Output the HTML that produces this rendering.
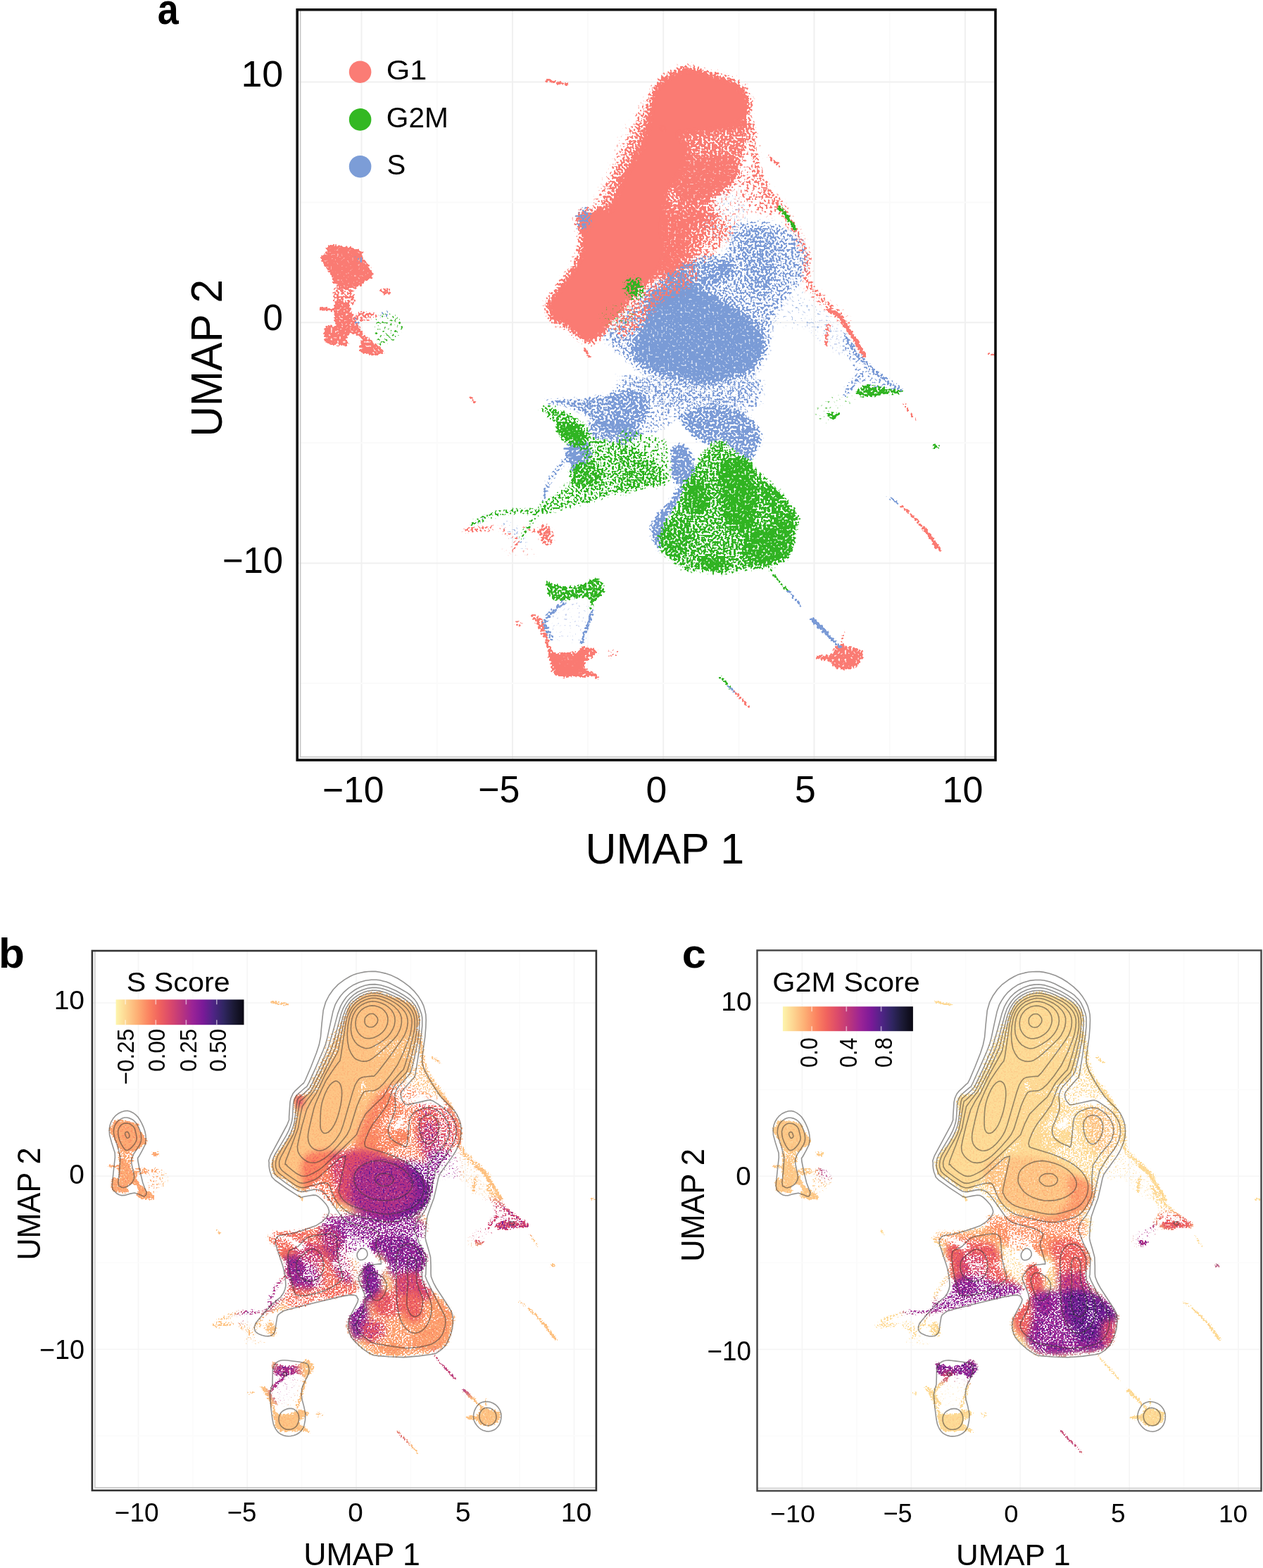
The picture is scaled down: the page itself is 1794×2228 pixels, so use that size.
<!DOCTYPE html>
<html lang="en"><head><meta charset="utf-8"><title>Cell cycle UMAP</title>
<style>html,body{margin:0;padding:0;background:#fff}body{width:1794px;height:2228px;overflow:hidden}svg{display:block}</style></head>
<body>
<svg width="1794" height="2228" viewBox="0 0 1794 2228">
<defs><linearGradient id="mg" x1="0" x2="1" y1="0" y2="0"><stop offset="0" stop-color="#fdf5ad"/><stop offset="0.08" stop-color="#fdd591"/><stop offset="0.17" stop-color="#fdae74"/><stop offset="0.26" stop-color="#fb8260"/><stop offset="0.34" stop-color="#f0625e"/><stop offset="0.43" stop-color="#d9486c"/><stop offset="0.52" stop-color="#b8347f"/><stop offset="0.6" stop-color="#9a2396"/><stop offset="0.68" stop-color="#7a1a98"/><stop offset="0.76" stop-color="#4f2486"/><stop offset="0.84" stop-color="#302662"/><stop offset="0.92" stop-color="#1b1a35"/><stop offset="1" stop-color="#0a0812"/></linearGradient><clipPath id="cpa"><rect x="422.2" y="13.8" width="991.8" height="1066.2"/></clipPath><clipPath id="cpb"><rect x="130.9" y="1351.0" width="716.0" height="766.8000000000002"/></clipPath><clipPath id="cpc"><rect x="1075.5" y="1350.4" width="716.0" height="768.0"/></clipPath><filter id="fa0" filterUnits="userSpaceOnUse" x="755" y="73" width="472" height="438" color-interpolation-filters="sRGB"><feGaussianBlur in="SourceGraphic" stdDeviation="4.5" result="b"/><feColorMatrix in="b" type="matrix" values="0 0 0 0 0 0 0 0 0 0 0 0 0 0 0 0 0 0 1 0"/><feColorMatrix type="matrix" values="0 0 0 0 0 0 0 0 0 0 0 0 0 0 0 0 0 0 1 0" result="ba"/><feTurbulence type="fractalNoise" baseFrequency="0.33" numOctaves="1" seed="3"/><feColorMatrix type="matrix" values="0 0 0 0 0 0 0 0 0 0 0 0 0 0 0 1 0 0 0 0"/><feComponentTransfer result="m"><feFuncA type="table" tableValues="0 0 0 0 0 0 0 .001 .004 .016 .042 .08 .13 .194 .278 .387 .495 .616 .723 .804 .866 .917 .958 .984 .996 .999 1 1 1 1 1 1 1"/></feComponentTransfer><feComposite in="ba" in2="m" operator="arithmetic" k1="0" k2="6" k3="5" k4="-5" result="t"/><feComponentTransfer in="b" result="bo"><feFuncA type="linear" slope="4000" intercept="0"/></feComponentTransfer><feComposite in="bo" in2="t" operator="in"/><feGaussianBlur stdDeviation="0.5"/></filter><filter id="fa1" filterUnits="userSpaceOnUse" x="837" y="245" width="333" height="332" color-interpolation-filters="sRGB"><feGaussianBlur in="SourceGraphic" stdDeviation="4.5" result="b"/><feColorMatrix in="b" type="matrix" values="0 0 0 0 0 0 0 0 0 0 0 0 0 0 0 0 0 0 1 0"/><feColorMatrix type="matrix" values="0 0 0 0 0 0 0 0 0 0 0 0 0 0 0 0 0 0 1 0" result="ba"/><feTurbulence type="fractalNoise" baseFrequency="0.33" numOctaves="1" seed="10"/><feColorMatrix type="matrix" values="0 0 0 0 0 0 0 0 0 0 0 0 0 0 0 1 0 0 0 0"/><feComponentTransfer result="m"><feFuncA type="table" tableValues="0 0 0 0 0 0 0 .001 .004 .016 .042 .08 .13 .194 .278 .387 .495 .616 .723 .804 .866 .917 .958 .984 .996 .999 1 1 1 1 1 1 1"/></feComponentTransfer><feComposite in="ba" in2="m" operator="arithmetic" k1="0" k2="6" k3="5" k4="-5" result="t"/><feComponentTransfer in="b" result="bo"><feFuncA type="linear" slope="4000" intercept="0"/></feComponentTransfer><feComposite in="bo" in2="t" operator="in"/><feGaussianBlur stdDeviation="0.5"/></filter><filter id="fa2" filterUnits="userSpaceOnUse" x="847" y="356" width="169" height="149" color-interpolation-filters="sRGB"><feGaussianBlur in="SourceGraphic" stdDeviation="4.0" result="b"/><feColorMatrix in="b" type="matrix" values="0 0 0 0 0 0 0 0 0 0 0 0 0 0 0 0 0 0 1 0"/><feColorMatrix type="matrix" values="0 0 0 0 0 0 0 0 0 0 0 0 0 0 0 0 0 0 1 0" result="ba"/><feTurbulence type="fractalNoise" baseFrequency="0.33" numOctaves="1" seed="17"/><feColorMatrix type="matrix" values="0 0 0 0 0 0 0 0 0 0 0 0 0 0 0 1 0 0 0 0"/><feComponentTransfer result="m"><feFuncA type="table" tableValues="0 0 0 0 0 0 0 .001 .004 .016 .042 .08 .13 .194 .278 .387 .495 .616 .723 .804 .866 .917 .958 .984 .996 .999 1 1 1 1 1 1 1"/></feComponentTransfer><feComposite in="ba" in2="m" operator="arithmetic" k1="0" k2="6" k3="5" k4="-5" result="t"/><feComponentTransfer in="b" result="bo"><feFuncA type="linear" slope="4000" intercept="0"/></feComponentTransfer><feComposite in="bo" in2="t" operator="in"/><feGaussianBlur stdDeviation="0.5"/></filter><filter id="fa3" filterUnits="userSpaceOnUse" x="831" y="374" width="105" height="118" color-interpolation-filters="sRGB"><feGaussianBlur in="SourceGraphic" stdDeviation="4.0" result="b"/><feColorMatrix in="b" type="matrix" values="0 0 0 0 0 0 0 0 0 0 0 0 0 0 0 0 0 0 1 0"/><feColorMatrix type="matrix" values="0 0 0 0 0 0 0 0 0 0 0 0 0 0 0 0 0 0 1 0" result="ba"/><feTurbulence type="fractalNoise" baseFrequency="0.33" numOctaves="1" seed="24"/><feColorMatrix type="matrix" values="0 0 0 0 0 0 0 0 0 0 0 0 0 0 0 1 0 0 0 0"/><feComponentTransfer result="m"><feFuncA type="table" tableValues="0 0 0 0 0 0 0 .001 .004 .016 .042 .08 .13 .194 .278 .387 .495 .616 .723 .804 .866 .917 .958 .984 .996 .999 1 1 1 1 1 1 1"/></feComponentTransfer><feComposite in="ba" in2="m" operator="arithmetic" k1="0" k2="6" k3="5" k4="-5" result="t"/><feComponentTransfer in="b" result="bo"><feFuncA type="linear" slope="4000" intercept="0"/></feComponentTransfer><feComposite in="bo" in2="t" operator="in"/><feGaussianBlur stdDeviation="0.5"/></filter><filter id="fa4" filterUnits="userSpaceOnUse" x="800" y="274" width="433" height="334" color-interpolation-filters="sRGB"><feGaussianBlur in="SourceGraphic" stdDeviation="4.0" result="b"/><feColorMatrix in="b" type="matrix" values="0 0 0 0 0 0 0 0 0 0 0 0 0 0 0 0 0 0 1 0"/><feColorMatrix type="matrix" values="0 0 0 0 0 0 0 0 0 0 0 0 0 0 0 0 0 0 1 0" result="ba"/><feTurbulence type="fractalNoise" baseFrequency="0.33" numOctaves="1" seed="31"/><feColorMatrix type="matrix" values="0 0 0 0 0 0 0 0 0 0 0 0 0 0 0 1 0 0 0 0"/><feComponentTransfer result="m"><feFuncA type="table" tableValues="0 0 0 0 0 0 0 .001 .004 .016 .042 .08 .13 .194 .278 .387 .495 .616 .723 .804 .866 .917 .958 .984 .996 .999 1 1 1 1 1 1 1"/></feComponentTransfer><feComposite in="ba" in2="m" operator="arithmetic" k1="0" k2="6" k3="5" k4="-5" result="t"/><feComponentTransfer in="b" result="bo"><feFuncA type="linear" slope="4000" intercept="0"/></feComponentTransfer><feComposite in="bo" in2="t" operator="in"/><feGaussianBlur stdDeviation="0.5"/></filter><filter id="fa5" filterUnits="userSpaceOnUse" x="648" y="518" width="457" height="286" color-interpolation-filters="sRGB"><feGaussianBlur in="SourceGraphic" stdDeviation="2.5" result="b"/><feColorMatrix in="b" type="matrix" values="0 0 0 0 0 0 0 0 0 0 0 0 0 0 0 0 0 0 1 0"/><feColorMatrix type="matrix" values="0 0 0 0 0 0 0 0 0 0 0 0 0 0 0 0 0 0 1 0" result="ba"/><feTurbulence type="fractalNoise" baseFrequency="0.33" numOctaves="1" seed="38"/><feColorMatrix type="matrix" values="0 0 0 0 0 0 0 0 0 0 0 0 0 0 0 1 0 0 0 0"/><feComponentTransfer result="m"><feFuncA type="table" tableValues="0 0 0 0 0 0 0 .001 .004 .016 .042 .08 .13 .194 .278 .387 .495 .616 .723 .804 .866 .917 .958 .984 .996 .999 1 1 1 1 1 1 1"/></feComponentTransfer><feComposite in="ba" in2="m" operator="arithmetic" k1="0" k2="6" k3="5" k4="-5" result="t"/><feComponentTransfer in="b" result="bo"><feFuncA type="linear" slope="4000" intercept="0"/></feComponentTransfer><feComposite in="bo" in2="t" operator="in"/><feGaussianBlur stdDeviation="0.5"/></filter><filter id="fa6" filterUnits="userSpaceOnUse" x="648" y="555" width="510" height="282" color-interpolation-filters="sRGB"><feGaussianBlur in="SourceGraphic" stdDeviation="2.5" result="b"/><feColorMatrix in="b" type="matrix" values="0 0 0 0 0 0 0 0 0 0 0 0 0 0 0 0 0 0 1 0"/><feColorMatrix type="matrix" values="0 0 0 0 0 0 0 0 0 0 0 0 0 0 0 0 0 0 1 0" result="ba"/><feTurbulence type="fractalNoise" baseFrequency="0.33" numOctaves="1" seed="45"/><feColorMatrix type="matrix" values="0 0 0 0 0 0 0 0 0 0 0 0 0 0 0 1 0 0 0 0"/><feComponentTransfer result="m"><feFuncA type="table" tableValues="0 0 0 0 0 0 0 .001 .004 .016 .042 .08 .13 .194 .278 .387 .495 .616 .723 .804 .866 .917 .958 .984 .996 .999 1 1 1 1 1 1 1"/></feComponentTransfer><feComposite in="ba" in2="m" operator="arithmetic" k1="0" k2="6" k3="5" k4="-5" result="t"/><feComponentTransfer in="b" result="bo"><feFuncA type="linear" slope="4000" intercept="0"/></feComponentTransfer><feComposite in="bo" in2="t" operator="in"/><feGaussianBlur stdDeviation="0.5"/></filter><filter id="fa7" filterUnits="userSpaceOnUse" x="638" y="723" width="169" height="92" color-interpolation-filters="sRGB"><feGaussianBlur in="SourceGraphic" stdDeviation="2.5" result="b"/><feColorMatrix in="b" type="matrix" values="0 0 0 0 0 0 0 0 0 0 0 0 0 0 0 0 0 0 1 0"/><feColorMatrix type="matrix" values="0 0 0 0 0 0 0 0 0 0 0 0 0 0 0 0 0 0 1 0" result="ba"/><feTurbulence type="fractalNoise" baseFrequency="0.33" numOctaves="1" seed="52"/><feColorMatrix type="matrix" values="0 0 0 0 0 0 0 0 0 0 0 0 0 0 0 1 0 0 0 0"/><feComponentTransfer result="m"><feFuncA type="table" tableValues="0 0 0 0 0 0 0 .001 .004 .016 .042 .08 .13 .194 .278 .387 .495 .616 .723 .804 .866 .917 .958 .984 .996 .999 1 1 1 1 1 1 1"/></feComponentTransfer><feComposite in="ba" in2="m" operator="arithmetic" k1="0" k2="6" k3="5" k4="-5" result="t"/><feComponentTransfer in="b" result="bo"><feFuncA type="linear" slope="4000" intercept="0"/></feComponentTransfer><feComposite in="bo" in2="t" operator="in"/><feGaussianBlur stdDeviation="0.5"/></filter><filter id="fa8" filterUnits="userSpaceOnUse" x="433" y="92" width="982" height="936" color-interpolation-filters="sRGB"><feGaussianBlur in="SourceGraphic" stdDeviation="1.3" result="b"/><feColorMatrix in="b" type="matrix" values="0 0 0 0 0 0 0 0 0 0 0 0 0 0 0 0 0 0 1 0"/><feColorMatrix type="matrix" values="0 0 0 0 0 0 0 0 0 0 0 0 0 0 0 0 0 0 1 0" result="ba"/><feTurbulence type="fractalNoise" baseFrequency="0.33" numOctaves="1" seed="59"/><feColorMatrix type="matrix" values="0 0 0 0 0 0 0 0 0 0 0 0 0 0 0 1 0 0 0 0"/><feComponentTransfer result="m"><feFuncA type="table" tableValues="0 0 0 0 0 0 0 .001 .004 .016 .042 .08 .13 .194 .278 .387 .495 .616 .723 .804 .866 .917 .958 .984 .996 .999 1 1 1 1 1 1 1"/></feComponentTransfer><feComposite in="ba" in2="m" operator="arithmetic" k1="0" k2="6" k3="5" k4="-5" result="t"/><feComponentTransfer in="b" result="bo"><feFuncA type="linear" slope="4000" intercept="0"/></feComponentTransfer><feComposite in="bo" in2="t" operator="in"/><feGaussianBlur stdDeviation="0.5"/></filter><filter id="fa9" filterUnits="userSpaceOnUse" x="512" y="272" width="845" height="728" color-interpolation-filters="sRGB"><feGaussianBlur in="SourceGraphic" stdDeviation="1.3" result="b"/><feColorMatrix in="b" type="matrix" values="0 0 0 0 0 0 0 0 0 0 0 0 0 0 0 0 0 0 1 0"/><feColorMatrix type="matrix" values="0 0 0 0 0 0 0 0 0 0 0 0 0 0 0 0 0 0 1 0" result="ba"/><feTurbulence type="fractalNoise" baseFrequency="0.33" numOctaves="1" seed="66"/><feColorMatrix type="matrix" values="0 0 0 0 0 0 0 0 0 0 0 0 0 0 0 1 0 0 0 0"/><feComponentTransfer result="m"><feFuncA type="table" tableValues="0 0 0 0 0 0 0 .001 .004 .016 .042 .08 .13 .194 .278 .387 .495 .616 .723 .804 .866 .917 .958 .984 .996 .999 1 1 1 1 1 1 1"/></feComponentTransfer><feComposite in="ba" in2="m" operator="arithmetic" k1="0" k2="6" k3="5" k4="-5" result="t"/><feComponentTransfer in="b" result="bo"><feFuncA type="linear" slope="4000" intercept="0"/></feComponentTransfer><feComposite in="bo" in2="t" operator="in"/><feGaussianBlur stdDeviation="0.5"/></filter><filter id="fa10" filterUnits="userSpaceOnUse" x="482" y="342" width="822" height="665" color-interpolation-filters="sRGB"><feGaussianBlur in="SourceGraphic" stdDeviation="1.3" result="b"/><feColorMatrix in="b" type="matrix" values="0 0 0 0 0 0 0 0 0 0 0 0 0 0 0 0 0 0 1 0"/><feColorMatrix type="matrix" values="0 0 0 0 0 0 0 0 0 0 0 0 0 0 0 0 0 0 1 0" result="ba"/><feTurbulence type="fractalNoise" baseFrequency="0.33" numOctaves="1" seed="73"/><feColorMatrix type="matrix" values="0 0 0 0 0 0 0 0 0 0 0 0 0 0 0 1 0 0 0 0"/><feComponentTransfer result="m"><feFuncA type="table" tableValues="0 0 0 0 0 0 0 .001 .004 .016 .042 .08 .13 .194 .278 .387 .495 .616 .723 .804 .866 .917 .958 .984 .996 .999 1 1 1 1 1 1 1"/></feComponentTransfer><feComposite in="ba" in2="m" operator="arithmetic" k1="0" k2="6" k3="5" k4="-5" result="t"/><feComponentTransfer in="b" result="bo"><feFuncA type="linear" slope="4000" intercept="0"/></feComponentTransfer><feComposite in="bo" in2="t" operator="in"/><feGaussianBlur stdDeviation="0.5"/></filter><g id="dnbmain" fill="#fff"><path d="M495.3 1432.1l3.8-5.6l5-4.8l5.8-4.1l6.3-3.6l7.1-2.9l7.3-1.4l7.4 0.7l7.5 2.1l8 2.6l9.2 2.5l9.7 3l8.1 3.6l6.1 4.5l4.5 5.2l3 5.4l1.3 5.9l-0.1 6.2l-1.2 5.6l-2 4.7l-3.1 4.2l-4.3 3.5l-6.1 2.7l-7.3 2l-7.4 1.5l-6.9 1.1l-6.9 0.5l-7 0.5l-7 0.7l-7 0.6l-6.8-0.3l-6.6-1.4l-6.5-2.3l-5.6-3.5l-4.9-5.3l-4.1-6.6l-2.4-6.8l-0.5-7l1.2-7.2z"/><path d="M492.2 1446.6l2.9 5.6l3.9 10.6l4.6 8.7l6 3.5l6.8 1.5l5.9 2.2l4.6 3.9l3.7 4.7l2.1 4.9l-0.1 5.3l-1.8 5.6l-2.2 5.7l-2.5 5.5l-2.9 5.5l-3 5.6l-2.9 5.4l-2.9 5.3l-2.5 5.9l-1.7 6.6l-1.3 7l-1.1 7.1l-0.9 7l-0.6 7l-0.6 6.7l-0.5 6.5l-0.4 6.2l-1.2 6l-2.1 5.8l-2.7 5.6l-3.5 5.2l-4.3 4.5l-5 4.1l-5.3 3.8l-5.4 3.5l-5.7 3.2l-5.5 3.7l-5.1 4.4l-4.8 5l-4.6 5.1l-3.3 5.9l-3 6.1l-6.2 4.4l-12.9 1.7l-16.2-0.1l-12.5-1.6l-5.7-4l-2.1-5.6l-0.9-4.7l-0.7-2.6l0.4-1.8l1.7-2.9l3.3-5l4.5-6.1l4.7-6.5l4.4-6.9l4.5-7.1l4.6-6.7l4.8-5.6l4.9-5l4.9-6l5-7.7l5-8.6l4.5-8.6l3.8-8.2l3.3-8.2l3.3-8.5l3.4-8.8l3.4-9.1l4-9l5.3-9.1l5.9-9.1l5-8.8l3.6-8.6l2.7-8.4l2.1-7.9l1.1-8.9l0.5-8.4z"/><path d="M492.2 1446.6l0.3 3.7l-1.4 8.3l-2 8.7l-2.1 7.9l-2.7 8.4l-3.6 8.6l-5 8.8l-5.9 9.1l-5.3 9.1l-4 9l-3.4 9.1l-3.4 8.8l-3.3 8.5l-3.3 8.2l-3.8 8.2l-4.5 8.6l-5 8.6l-5 7.7l-5.4 6.7l-5.3 5.9l-3.9 4l-1.8 1.8l-0.4 0l1.2-1.8l3.3-4l4.8-5.9l4.3-6.7l3.1-7.7l2.6-8.6l2.7-8.6l2.6-8.2l2.6-8.2l3.1-8.5l3.8-8.8l4.3-9.1l4.3-9l4.2-9.1l4.2-9.1l4.1-8.8l4.2-8.6l4.1-8.4l4.2-7.9l4.7-8.7l4.8-8.3z" fill-opacity="0.60"/><path d="M528.6 1508.8l4.7-3.7l5.7-2.8l6.2-1.8l6.9-0.8l7.3 0l6.6 0.8l5.8 1.4l5.1 2.1l3.6 2.7l2.1 3.6l0.6 4.3l-0.6 4.6l-1.7 4.9l-2.8 5.1l-3.8 4.5l-4.9 3.3l-5.9 2.6l-5.8 2.4l-5.6 2.3l-5.5 2.2l-5.6 1.7l-5.8 1.5l-5.9 1.1l-4.9-0.5l-3.8-3.1l-3-4.7l-1.5-4.7l0.3-4l1.7-4l2.1-4.4l2.2-5.6l2.6-5.9z" fill-opacity="0.90"/><path d="M522.3 1478.7l4.6-1.2l8.1 0.2l8.1 0l7-0.5l6.9-0.5l6.9-1.1l7.4-1.7l7.4-2.3l6-2.2l4.1-3.1l2.6-3l1.6-0.1l0.5 4.7l-0.5 7.8l-1 8.2l-1.5 8.5l-1.9 9l-1.8 7.4l-1.6 5.4l-1.4 3.7l-1.2 1.3l-0.4-2.7l-0.1-5.3l-1.6-4.5l-3.6-2.7l-5.1-2.1l-5.8-1.4l-6.6-0.8l-7.3-0l-6.9 0.8l-6.6 3.1l-6.2 4l-3.8 1.2l0.4-3.8l2.6-6.6l1.1-6.2l-3.5-5.2l-5.2-4.8z" fill-opacity="0.72"/><path d="M511.9 1542l3.4 1l4.3 4.2l4.8 3.1l5.2 0.2l5.7-0.9l5.7-1.4l6.4-2.6l6.3-3.1l4-0.5l0.4 4l-2 6.5l-2.6 6l-3 4.5l-3.7 4l-3.7 4l-3.6 4l-3.6 4l-3.2 4.4l-2.3 5.2l-1.8 5.7l-2.1 5.7l-2.6 5.7l-2.7 5.7l-3 5.2l-3.3 5.3l-3.4 4.8l-3.7 2.3l-4.8-1.5l-5-4.1l-2.7-4.7l1.5-5l3.7-5.7l3.1-5.9l1.2-6l0.4-6.2l0.5-6.5l0.6-6.7l0.6-7l0.9-7l0.9-8l1.2-8z" fill-opacity="0.68"/><path d="M421.2 1557.2l21.3-2.8l29.3 0.3l22.4 2.5l8.7 4.8l1.7 6.9l0.9 6.9l1.7 6.2l0.9 6.3l0.2 6.2l-0.3 6.3l-0.9 6.4l-1.6 5.9l-2.5 5.5l-3.3 5l-3.6 4.5l-4.2 3.3l-4.5 2.8l-4.4 3.2l-3.9 4.1l-3.8 4.6l-3.5 4.3l-3.3 3.9l-3 3.7l-3.1 3.6l-3 3.7l-3.1 3.7l-3.2 3.8l-3.6 4.5l-3.9 4.7l-3.8 3.9l-3.6 3.1l-3.7 2.5l-3.9 0.9l-4.2-0.9l-4.3-2.5l-4.6-3.1l-4.9-3.9l-5.1-4.7l-5-4.5l-4.9-3.8l-4.6-3.7l-3.6-3.7l-2.1-3.6l-1-3.7l0.3-3.9l1.8-4l3.1-4.3l3.5-4.7l4.2-5.3l4.7-5.8l4.2-5.7l3.7-5.5l3.1-5.6l2.6-5.7l1.8-5.7l1.2-6l0.7-7l-2.4-9.6l-2.8-10.7z"/><path d="M494.2 1557.2l19.5-2.1l28.2-0l19.7 2.1l2.6 4.8l-6 6.9l-6 6.9l-3.1 6.2l-3.1 6.3l-3.1 6.2l-3.1 6.5l-3.2 6.5l-3.1 5.6l-2.9 4.5l-2.9 3.7l-3.5 3l-5 3.1l-5.6 2.5l-4.4 0l-2.3-3.8l-1.1-6.4l-0.3-6.6l0.6-6.1l1.4-6.2l0.8-6.3l-0.2-6.2l-0.9-6.3l-1.7-6.2l-6.1-6.9l-6.9-6.9z" fill-opacity="0.62"/><path d="M478.7 1454.9l4.7-6.8l4.3-5.5l3.4-4.3l2.3-3.8l1.4-2.7l0.5 0.3l-0.2 5.1l-0.9 8.2l-2 7.4l-3.5 4.9l-4.5 4.3l-4.5 5.3l-4.2 7.5l-4.1 8.6l-4.2 8.8l-4.1 8.8l-4.2 9.1l-4.2 9.1l-4.3 9l-4.3 9.1l-3.8 8.8l-3.1 8.5l-2.6 8.2l-2.6 8.2l-2.9 9.4l-2.8 9.3l-2.7 6.2l-3.1 1.5l-3.1-1.7l-1-4l2.1-6.6l4.1-8.9l4.2-9.4l3.4-9.6l3.5-10.2l3.5-9.2l3.3-7l3.4-6.2l3.7-7.5l3.8-10.3l4.1-11.7l4.5-11.2l5.4-10.4l5.9-10z" fill-opacity="0.22"/><path d="M595.1 1467.3l0.8 5.1l1.1 7.4l1.2 8.3l1.1 9.3l1.1 10.3l2 9.4l3.2 7.7l4.1 6.9l4.1 6.1l4 4.9l4.1 4.3l4.4 5.3l4.8 7.6l5.1 8.6l4.7 8.7l4.4 8.2l4.1 8.2l2.9 8.5l0.8 9.3l-0.4 9.5l0.6 8.1l2.5 5.7l3.5 4.3l4.4 4.5l5.9 5.6l6.8 5.8l6 5.2l5.1 4.9l4.4 4.4l3 3" fill="none" stroke="#fff" stroke-width="5.0" stroke-linecap="round" stroke-linejoin="round" stroke-opacity="0.77"/><path d="M584.7 1469.4l1.8-3.5l4.5-2.2l4.1 3.6l2.5 13.9l2.2 19.5l2.6 16.4l3.4 9.3l4 6l4 5.4l4.9 5.5l5.1 4.7l2.5 4.3l-1.4 4.5l-3.9 4l-5.1 1.9l-6.5-1.2l-7.7-3.3l-6.6-3.8l-4.5-3.5l-3.4-3.9l-2.5-5l-2-7.3l-1.1-8.5l1-7l5.2-3.9l7.3-2.4l5.2-4.1l1.2-7.6l-1-9.2l-2.3-8.1l-4.5-6.1l-5.8-4.9z" fill-opacity="0.30"/><path d="M557.7 1542l4.8-4l6.3-3.1l5.5-1.2l3.9 1.4l3.3 3.2l3.2 3.7l4.2 3.6l4.3 4.2l1.9 4.6l-1.8 5.4l-4 5.8l-4.6 5.4l-4.5 4.6l-4.9 4.1l-5.1 3.7l-5.7 4.2l-5.8 3.7l-5.2 0.4l-4.7-5l-4-8.3l-1.7-7.4l2.2-4.6l4.4-3.7l3.8-4.2l1.4-5.5l0.7-6z" fill-opacity="0.15"/><path d="M557.7 1542l4.8-4l6.3-3.1l5.5-1.2l3.9 1.4l3.3 3.2l3.2 3.7l4.2 3.6l4.3 4.2l1.9 4.6l-1.8 5.4l-4 5.8l-4.6 5.4l-4.5 4.6l-4.9 4.1l-5.1 3.7l-5.7 4.2l-5.8 3.7l-5.2 0.4l-4.7-5l-4-8.3l-1.7-7.4l2.2-4.6l4.4-3.7l3.8-4.2l1.4-5.5l0.7-6z" fill-opacity="0.10"/><path d="M542.9 1631.8l7.1-4.2l7.4-7l6.1-7.5l4.1-7.4l2.8-7.8l2.4-7.2l1.6-6.4l1.2-5.8l2.8-4.6l5.5-3l7.2-1.8l7.9-0.7l9.2 0.2l10 1.2l8.9 2.3l7.3 3.4l6.4 4.5l5 5.1l3.8 5.8l2.5 6.5l1.2 6.4l-0.2 6.4l-1.5 6.3l-2 6l-2.6 5.1l-3.2 4.8l-3.6 5l-4.2 5.5l-4.7 5.8l-4.2 5.5l-3.7 5l-3.2 4.7l-2.5 5.2l-1 5.9l-0.2 6.4l-0.6 6.4l-1.4 6.2l-1.8 6.2l-2.4 6.2l-3.1 6.6l-3.7 6.6l-4.5 5.5l-5.3 3.9l-6.2 2.9l-7.2 2.5l-8.6 2.5l-9.8 2.1l-9.7 1l-9.3-0.4l-9.4-1.5l-9.3-1.8l-9.7-2l-9.6-2.4l-8.8-3.1l-7.7-3.9l-6.9-4.6l-6-4.5l-4.9-4.5l-4.1-4.4l-4.1-4.2l-4.7-4l-4.7-3.8l-3.7-3.4l-2.5-2.5l-1.6-2.1l0.4-2.9l3-4.4l4.9-5.2l5.2-5.3l4.8-5l4.9-4.9l5.2-5l5.3-5.3l5.5-5.2l6.1-4.4l7.5-3.1l8.1-2.2l6.8-2.2l4.3-3.1l3.1-3l3.9-1.4l5.6 2.4l6.4 4z" fill-opacity="0.42"/><path d="M486.7 1643l5.7-7.2l10.6-8.2l9.9-7l7.4-4.8l6.7-3.5l6.5-2.9l6.4-2.6l6.2-1.9l6.1-1.1l6.6-0.3l6.6 0.6l5.6 1.6l4.8 2.9l3.8 4l0.7 4.3l-4.1 4.4l-7.3 4.6l-7.3 4l-6.2 2.9l-6.3 2.2l-6.2 2.4l-6.3 3l-6.2 3.1l-6.2 3.2l-6.3 4l-6.2 3.9l-6.2 1.4l-7.9-2.3l-7.9-4.8z" fill-opacity="0.62"/><path d="M505.5 1613.1l4.5-6.1l7.1-6.2l7.1-6.3l6.2-6.5l6.2-6.5l6.3-5.7l6.4-5.1l6.3-4.3l6-1.8l6.4 1.7l5.9 4.1l2.7 5.4l-2.7 6.9l-5.9 8.2l-6.4 7.3l-6 5.5l-6.3 4.7l-6.4 4.7l-6.4 5.5l-6.4 5.4l-5.9 4.1l-5.7 2.2l-5.3 0.9l-4-1.3l-2.9-4.1l-1.7-6.2z" fill-opacity="0.42"/><path d="M589.7 1577.7l5.9-2.9l7.9-1.3l6.8 0.4l4.7 2.8l3.8 4.6l2.7 5.7l1.6 6.8l0.5 7.8l-0.2 7.8l-1.2 7.9l-2 7.9l-2.5 6.6l-2.7 5.2l-3.1 4l-3.5 2l-4.4-0.6l-4.8-2.6l-3.9-4.3l-2.5-6.5l-1.7-8.1l-1.4-7.8l-1.7-6.5l-1.4-6.2l-0.7-5.9l0.1-6.2l0.9-6.1z" fill-opacity="0.30"/><path d="M490.5 1646.7l4.9-4.5l6.6-3.8l7.2-2.9l7.9-2.3l8.5-1.4l7.9 0l6.7 2.1l6 3.6l6 3.6l6.3 3.1l6.2 3l6.3 3.2l6.3 3.5l6.4 3.7l6 4l5.6 4.6l5.2 5l4.1 5.4l3.1 6l2 6.4l0.6 6.2l-1.4 6l-2.7 5.7l-3.4 5.1l-3.8 4.4l-4.3 3.7l-5 3.1l-5.8 2.3l-6.5 1.7l-6.4 1.6l-6.3 2.2l-6.2 2.2l-6.3 1.2l-6.2-0.5l-6.2-1.5l-6.3-1.7l-6.2-1.8l-6.2-2l-6.3-1.8l-6.4-1.2l-6.3-1l-6-1.6l-5.5-2.5l-5.2-3.2l-4.3-3.6l-3.5-4l-2.7-4.4l-1.3-4.6l0.9-4.7l2.3-4.9l2.5-5.4l2.5-5.9l2.7-6.4l2.2-6.3l1-6.5l0.6-6.5z" fill-opacity="0.80"/><path d="M471.8 1650.4l8.1-8.3l8.7-8.4l7.5-5.6l5.1-0.9l3.9 1.8l4.1 0.9l5.1-1.1l5.2-1.9l4.7-2.6l3.5-4l2.9-4.6l2.9-2.6l4.1 0.7l4 2.8l1.3 4l-3.1 5.8l-5.7 7l-6.2 5.9l-6.1 3l-6.5 1.8l-6.1 2.6l-5.4 4.4l-5 5.3l-4.6 5.2l-3.7 5.2l-3.3 5.1l-4.2 4.7l-6 4.9l-6.8 4.6l-5.9 1.7l-5.4-2.8l-4.6-5.7l-1.2-6.5l3.8-6.9l7.1-7.7z" fill-opacity="0.42"/><path d="M468 1628.1l3.2-1.6l4.4-0.8l3.7 0.5l2.5 2.3l2 3.5l1.1 3.5l0.3 3.5l-0.6 3.4l-1.6 2.5l-3.3 0.9l-4.3-0.1l-3.6-0.8l-2.3-1.9l-1.5-2.7l-0.9-2.9l-0.5-3.3l0.1-3.4z" fill-opacity="0.76"/><path d="M441.8 1657.9l7.9-4.4l12.5-3l9.6-0.1l4.1 4.7l1.3 7.5l-1.7 6.5l-5.9 4.9l-8.9 3.9l-7.6 0.5l-6.1-5.1l-4.9-8.4z" fill-opacity="0.12"/><path d="M419.4 1558.5l2.7-2.7l3.7-1.6l3 0.2l1.5 3l0.7 4.8l-0.2 4.6l-1.5 4.2l-2.4 3.9l-2.3 2.3l-2 0.1l-1.9-1.6l-1.3-2.6l-0.7-4.5l-0.2-5.6z" fill-opacity="0.65"/><path d="M458.7 1725.1l9.1-0.3l14.6 1.8l13.7 2.2l10.1 2.4l9 2.7l9 2.4l9.3 1.8l9.4 1.5l9.3 0.4l9.7-1l9.8-2.1l8.6-2.5l7.3-3.6l6.2-4l5.2-1.7l4.3 1.9l3.3 4.2l1.8 5.1l0.1 6.1l-1.3 6.9l-2.6 5.6l-3.6 3.8l-4.9 2.5l-6.4 1.2l-8.4-0.6l-9.9-1.9l-9.8-1.2l-9.4 0.3l-9.3 1l-9.4 0.5l-9.7 0.2l-9.7-0.3l-8.6-1.7l-7.1-4.5l-6-5.8l-5.7-4.7l-5.3-1.6l-4.9-0.4l-4.7-1.7l-6.4-4.8l-6.2-6.1z" fill-opacity="0.32"/><path d="M617.7 1669.1l4.6-10.3l9.2-13l8.7-8.4l6.7-0.2l6.2 4.5l5.8 5l5.3 4.3l4.8 4.9l4.9 5.7l5.1 7.2l5.2 8l4.7 7.2l4.4 5.8l4 5l2 4.2l-0.5 4l-2.4 3.1l-3.8 0.3l-5.3-4.5l-6.7-7.5l-6.7-6.6l-6.3-4.7l-6.2-3.9l-6.2-2.6l-6.3-0.6l-6.2 0.7l-6.2-0.1l-7.8-1.1l-7.8-1.8z" fill-opacity="0.12"/><path d="M429.5 1773.1l11.5-1.5l16.5 0.1l13.2 1.4l6.8 2.9l3.5 4.1l0.9 4.2l-1.8 4.2l-4.3 4.2l-5.1 2.8l-5.7 0.5l-6.5-1l-6.5-1.4l-6.8-1.2l-6.8-1.7l-5.1-2.7l-4.1-4.8l-2.3-5.9z" fill-opacity="0.55"/><path d="M395.8 1773.1l6-1.4l8.7-0.1l7.8 1.5l5.4 4.3l4.6 5.9l5 4.7l5.9 2l6.4 0.8l6.4 1l6.2 1.5l6.3 1.8l6.2 2.3l6.4 2.6l6.3 3l6 3.7l5.7 4.6l5.3 5.3l4 5l2.9 4.8l1.7 4.7l-0.9 3.6l-4.6 1.8l-7 0.7l-7.1 1.2l-6.2 2.4l-6.3 2.9l-6.2 2.2l-6.2 0.8l-6.3 0.2l-6.2 0.8l-6.3 2.2l-6.2 2.9l-6.2 2.4l-6.4 1.5l-6.4 1.1l-5.9 1.1l-5.3 1.3l-4.9 1.2l-4.8 1.3l-5.3 1.5l-5.3 1.5l-4.4 0.7l-3.7-0.4l-2.8-1.3l-1-2l1.8-3.4l3.6-4.1l4-3.7l4.1-2.5l4.6-2.1l4.4-2.9l4.1-4.5l4-5.3l3.1-5.1l1.5-4.8l0.7-4.6l1.6-3.7l3.8-2.1l4.7-1.3l2.7-2.2l-1-4l-3-4.8l-3.5-4.2l-3.5-3l-4-2.4l-3.7-2.1l-3.6-1.8l-3.3-1.6l-2.5-2.2l-2.1-3.7l-1.2-4.4z" fill-opacity="0.42"/><path d="M414.6 1816l5.4-1.9l7-0.7l6.3 0.7l4.8 2.8l4 4.2l2.4 4.2l0.4 4l-1.2 4.1l-2.9 3.1l-5.5 2.4l-7 1.5l-6.3-0.1l-4.8-2.6l-4-4.2l-2.4-4.4l-0.4-4.7l1.2-4.8z" fill-opacity="0.50"/><path d="M395.8 1778.7l4.7-2l7.5-0.8l6.6 0.9l4.3 3.4l3.3 5.1l1.7 4.6l-0.4 4l-2.1 3.6l-3.1 1.7l-4.6-1l-5.6-2.9l-4.8-3.5l-4-4.4l-3.2-5z" fill-opacity="0.60"/><path d="M408.9 1793.6l5-1.8l6.5-0.7l5.4 0.7l3.7 2.6l2.7 4.2l1.1 4.3l-1.3 4.5l-2.9 4.6l-3.3 4l-3.7 3.5l-4.1 2.9l-3.4 1.1l-2.4-1.9l-1.7-3.7l-1.6-3.8l-1.6-3l-1.5-3l-0.6-3.3l0.2-3.9l1-4.2z" fill-opacity="0.79"/><path d="M383.8 1751.2l7.8-0.9l15.2-0.3l14.4-0.7l11.6-1.6l10.8-2.1l9.5-1.9l7.3-1.6l5.9-1.5l5.5-0.6l5.7 0.1l5.2 1l4 2.6l2.7 5.3l1.4 6.9l-0.3 6.5l-2.4 5.5l-4 5.1l-4.8 4.3l-5.7 3.5l-6.5 2.6l-6.6 1.4l-6.5-0.1l-6.5-1.3l-5.7-2.3l-4-3.8l-3.2-4.9l-4-4.4l-5.3-3.5l-6.2-3l-7.2-2.8l-11.1-2.9l-12.1-2.6z" fill-opacity="0.60"/><path d="M380.1 1756.8l3.9-0.5l6.3 0.8l6.6 1.6l6.3 2.4l6.5 3.2l5.9 3.7l5.4 4.1l4.7 4.6l3 4.4l1.1 4.3l-0.5 4.2l-2.4 2.7l-5.4 0.7l-7.2-0.7l-6.2-1.9l-3.6-3.6l-2.7-4.8l-3-4.7l-4.4-3.9l-4.8-3.7l-3.9-3.6l-3.3-3.6l-2.4-3.5z" fill-opacity="0.55"/><path d="M407.1 1810.4l-3 3.3l-4.2 4.8l-4.1 5l-3.4 4.8l-3.3 5.1l-2.6 5l-1.8 5.5l-1.2 5.6l-0.8 3.8" fill="none" stroke="#fff" stroke-width="2.9" stroke-linecap="round" stroke-linejoin="round" stroke-opacity="0.70"/><path d="M384.6 1862.7l-5.4 0.5l-7.7 0.8l-7.5 0.5l-6.3 0l-6.1-0.3l-6.3 0.3l-6.9 1.4l-7.2 2l-6.5 2.2l-5.9 2.6l-5.4 2.9l-3.6 2" fill="none" stroke="#fff" stroke-width="2.9" stroke-linecap="round" stroke-linejoin="round" stroke-opacity="0.70"/><path d="M324.7 1870.1l-14.9 9.3" fill="none" stroke="#fff" stroke-width="2.2" stroke-linecap="round" stroke-linejoin="round" stroke-opacity="0.42"/><path d="M302.3 1883.2l2.7-0.1l3.9-0.1l4.6-0.2l5.8-0.5l6.5-0.6l4.5-0.4" fill="none" stroke="#fff" stroke-width="2.9" stroke-linecap="round" stroke-linejoin="round" stroke-opacity="0.84"/><path d="M380.9 1877.6l2.8-0.2l3.7 1.4l2.8 2.5l1.5 4l0.7 5.1l-0.3 4l-1.9 2.4l-2.9 1.4l-2.7-0.1l-2.3-2.1l-2.1-3.5l-1.2-3.7l-0.2-4.2l0.6-4.3z" fill-opacity="0.70"/><path d="M339.7 1881.3l1.9 2l2.7 2.9l2.9 2.6l3.4 1.9l3.7 1.7l2.2 2l-0.4 2.6l-1.9 2.8l-1.4 2" fill="none" stroke="#fff" stroke-width="2.9" stroke-linecap="round" stroke-linejoin="round" stroke-opacity="0.56"/><path d="M364 1881.3l3.8 0.9l5.2 1.3l4.1 1.5l2.1 2l1 2.1l0.7 1.5" fill="none" stroke="#fff" stroke-width="3.6" stroke-linecap="round" stroke-linejoin="round" stroke-opacity="0.42"/><path d="M377.1 1866.4l-2.5 3.4l-3.5 4.9l-3.3 4.7l-2.9 4.3l-2.7 4.1l-1.9 2.8" fill="none" stroke="#fff" stroke-width="2.9" stroke-linecap="round" stroke-linejoin="round" stroke-opacity="0.56"/><path d="M337.8 1877.6l2.2-2.4l4.3-1.9l4.8 0.6l5.3 4.8l5.7 7.3l3.9 6.5l1.2 5.4l-0.7 4.6l-2.3 1.2l-4.9-4.4l-6.5-7.8l-5.5-6.5l-3.9-3.4l-2.8-2.2z" fill-opacity="0.15"/><path d="M343.4 1901.8l9.9-0.2l13.9 0.7l9.9 1.4l3.1 2.4l-0.9 3.1l-4 2l-9 0.2l-12.1-0.7l-8.9-1.4l-4-2.4l-0.9-3.1z" fill-opacity="0.10"/><path d="M522.9 1767.2l4.9-3.8l8.4-3.3l9.1-2.2l9.3-1l9.9 0.1l8.9 0.9l7.3 1.8l6.2 2.6l5.2 3.1l3.9 3.3l3 3.8l2.5 4.1l2.6 4.1l2.2 4.4l0.8 4.5l-1.7 5.1l-3.1 5.3l-2.7 4.5l-1.1 3.6l-0.7 2.8l-2 1.1l-4.1-1.2l-5.4-2.8l-5.4-3.5l-5.2-4.5l-5.1-5.2l-4.7-3.3l-4 0.3l-3.5 2.1l-3.7 1.3l-4.4-0.5l-4.6-1.3l-4.1-1.9l-3.4-2.5l-3-3.1l-3-3.7l-4.3-4.8l-4.3-5.4z" fill-opacity="0.70"/><path d="M461.1 1729.9l40.7-4.8l55.8 1.4l40.1 3.4l9.2 5.2l-6.7 7.2l-8.1 6.3l-4.9 4.1l-6.4 3.1l-7.4 2.1l-8.9 0.3l-9.9-0.7l-9.3 0.4l-8.2 2.3l-7.5 3.4l-6.7 3.6l-5.5 3.8l-4.5 3.9l-5 3.5l-5.6 3.1l-6.1 2.6l-7 1.8l-9.7 2.6l-10.8 1.8l-7.6-4.4l-7.1-16.6l-4.1-22.8z" fill-opacity="0.25"/><path d="M554.7 1795.2l3.6-2.5l3.6-1.6l4 0.4l4.7 3.4l5.1 5.2l5.2 4.4l5.4 2.3l5.4 1.5l4.1 1.8l1.8 2.8l0.6 3.2l1.4 3.4l3.1 3.6l3.9 3.8l4.2 3.8l4.3 3.6l4.5 3.6l4.3 4l3.9 4.7l3.7 5.2l3.6 5l4.1 4.3l3.9 4l2.3 4.7l-0.5 5.9l-2.1 6.4l-2 6.4l-1.1 6.6l-0.9 6.5l-1.8 5.6l-3 3.9l-3.9 2.9l-4.3 2.5l-4.6 2.3l-5 1.8l-5.4 1.5l-5.7 0.8l-6.1 0.4l-6.9 0.7l-8.4 1.3l-9.2 1.6l-8.6 0.8l-7.5-0.6l-6.9-1.3l-6.2-0.9l-5.5 0.4l-4.8 0.8l-4.7-0.3l-4.5-2.3l-4.3-3.4l-4.3-3.6l-4.7-3.5l-4.7-3.8l-3.7-3.9l-2.3-4.1l-1.3-4.3l-0.1-4.7l1.6-5.4l2.8-5.8l3.1-5.6l3-4.9l3.1-4.8l3.2-5.2l3.2-5.9l3.1-6.4l3.1-6.3l3.2-6.4l3.2-6.4l3-5.9l2.4-5.3l2.3-4.9l2.7-4.7l3.5-4.9l3.9-4.6z" fill-opacity="0.58"/><path d="M526.6 1834.4l3.9-3.5l5.7-0.9l5.4 0.7l4.5 2.3l4.1 4l2.6 4.9l0.7 6l-0.8 7l-1.8 5.6l-3 3.9l-4.1 2.6l-4.1 1l-4.1-0.7l-4.1-2.4l-3-4.4l-2-8.1l-0.9-10.3z" fill-opacity="0.60"/><path d="M565.9 1812l6.5-2.6l8.6-0.6l7.4 1.3l4.9 3.8l3.6 5.8l2.7 7.2l1.4 9.3l0.5 10.7l0 9.9l0.1 8.6l-0.3 7.8l-1.7 6l-4 3.6l-5.5 1.8l-5.5 0.2l-5.4-1.5l-5.4-3.1l-4.2-4.8l-2-7.1l-0.9-8.8l-0.8-8.3l-1.5-7.2l-1.6-6.8l-0.6-6.5l0-7l0.8-6.8z" fill-opacity="0.62"/><path d="M590.2 1888.5l5.7-3.9l7.6-3l7.3-2.4l6.7-2.3l6.4-1.7l5.6 0.2l4.9 2.9l4.1 4.7l2.3 5.5l-0.3 6.7l-2 7.5l-3.4 6.3l-4.5 4.3l-5.9 3.1l-6.4 2l-7.6 1.1l-8.1 0.2l-6.8-1.3l-4.5-3.3l-3.2-4.7l-1.6-5.1l-0.4-5.6l1.1-6z" fill-opacity="0.60"/><path d="M543.4 1912.8l4.9-2.3l7.3-1.3l6.6-0.2l4.9 1.6l4.2 2.9l2.1 3l-0.7 3.4l-2.8 3.6l-4 2.3l-6 0.6l-7.2-0.7l-5.5-1.7l-3.2-3.4l-1.5-4.3z" fill-opacity="0.60"/><path d="M506 1879.2l4.5-4.3l6.4-2.6l6-0.6l5.2 2.1l4.9 4.1l3 5l0.4 6l-1.5 6.7l-2.7 6l-4.3 5.1l-5.5 4.3l-5.2 1.8l-4.4-1.7l-4-4.1l-2.8-5.4l-1.4-7.2l-0.3-8.5z" fill-opacity="0.40"/><path d="M603.3 1834.4l5.8 0.8l8.6 4.6l8.1 5.8l6.8 6.9l6.1 8.2l3.9 7.3l0.9 6.3l-1.5 5.6l-3.1 3l-5.4-0.4l-7-2.9l-6.3-4.2l-5.2-5.2l-4.5-6.5l-3.4-6.9l-2.9-8.4l-1.9-8.9z" fill-opacity="0.45"/><path d="M515.4 1798.9l3.1-2.9l4.1-1.3l4 0.5l3.5 3.1l3.4 4.9l2.5 5.1l1.5 4.9l0.7 5.2l-0.4 4.8l-1.6 4.1l-2.7 3.8l-3.2 3.3l-3.6 2.6l-4.1 2.2l-3.5 2.7l-2.2 3.6l-1.6 4l-1.8 3.6l-2.3 2.6l-2.5 2.2l-2.7 2.6l-3.2 3.4l-3.4 3.8l-2.7 4l-2.1 4.2l-1.3 4.5l-0.4 4.4l1.2 4.6l2.3 4.6l2.1 3.8l1.7 3.7l1.5 2.8l1.5-0.9l1.4-7.3l1.4-11.1l1.9-9.6l2.8-5.8l3.2-4.3l3.3-4.8l3.8-6.3l3.9-6.8l1.7-5.5l-1.9-3l-4.1-1.7l-3.4-2.8l-1.8-4.8l-1.3-5.9l-0.6-6.1l-0.1-6.6l0.4-6.9z" fill-opacity="0.79"/><path d="M461.1 1782.2l7.6-3.6l10.8 3.6l9.7 3.7l7.4 1l6.4 1.1l4.9 3.5l3.1 7.5l1.7 9.8l0.8 8.8l0.3 6.7l-0.4 5.7l-1.8 4.4l-3.3 2.8l-4.6 1.6l-5.2 1.2l-5.8 1l-6.4 0.5l-6.5 0.4l-6.9 2.3l-7 2.2l-4.8-4.5l-2.4-17.9l-0.4-24.4z" fill-opacity="0.27"/></g><g id="dnbfine" fill="#fff"><path d="M163.7 1591.5l9.2 0.5l12.3 2l9.2 2.4l3 2.4l-0.2 2.7l0.6 3.2l2.9 4l3.6 4.5l2.6 4l1.2 2.9l0.4 2.4l-0.8 2.1l-2.2 1.9l-3.2 1.5l-2.9 1.6l-1.7 1.8l-1.4 1.8l-1.9 1.4l-2.7 1l-3.4 0.6l-3.8-0l-5-0.4l-5.6-1l-4.4-1.9l-2.3-3.2l-1.2-4.2l-1.5-4.2l-2.8-4.3l-3.2-4.4l-2.3-3.7l-1.1-2.8l-0.2-2.2l0.4-1.7l1.3-0.9l2-0.4l1.7-1.2l0.3-2.8l0-3.4z" fill-opacity="0.92"/><path d="M169.5 1651.2l3.3-1.3l4.4 0l3.9 1.3l2.6 2.9l2.1 4.3l2 4.4l2.3 4.2l2.2 4.3l2.1 3.9l1.6 3.1l1.5 2.6l1.9 2.6l3 2.8l3.6 2.8l3.4 2.7l3.5 2.7l3.3 2.5l2.4 2.3l1.1 1.7l0.1 1.4l-1.2 1l-3 0.7l-4.3 0.3l-4.4-0.2l-4.6-0.7l-4.7-1.2l-3.2-2.2l-0-3.8l1.5-4.7l0.2-4l-2.6-2.8l-4-2.1l-3.4-0.9l-2.3 1.1l-1.7 2.3l-1 2.4l0.6 2.4l1.2 2.5l-0.1 1.8l-2.7 0.5l-4.1-0.1l-4-0.4l-3.9-0.3l-3.9-0.4l-3-1l-1.9-1.6l-1.1-2.2l-0.4-2.8l0.2-4.2l0.8-4.9l1.5-3.3l3 0l3.7 1.6l2.5 0l0.1-3.1l-1.1-4.7l-0.7-4.6l0-4.4l0.3-4.3z" fill-opacity="0.86"/><path d="M169.5 1634.6l4.9-0.5l6.6 0.6l5.1 1.5l2.3 2.9l0.8 3.7l0.2 3.4l0.5 2.7l-0.1 2.4l-2 1.5l-5.5 0.3l-7.3-0.6l-5.5-1.3l-1.9-2.3l-0.1-3l0.3-3l-0.2-3.2l0.1-3.1z" fill-opacity="0.58"/><path d="M154.5 1657l13.3 0.8" fill="none" stroke="#fff" stroke-width="2.9" stroke-linecap="round" stroke-linejoin="round" stroke-opacity="0.84"/><path d="M189.4 1662.8l2.2-1.6l3.8-1.2l4-0.5l4.3 0.3l4.4 0.9l3 1.2l0.9 1.6l-0.6 1.9l-2 1.5l-4.4 1.4l-5.8 1l-4.8 0.1l-2.9-1.7l-1.9-2.6z" fill-opacity="0.58"/><path d="M216.1 1637.1l3.1-0.6l4.6-0.1l3.1 0.7l0.3 1.7l-1.2 2.4l-1.6 1.7l-2.1 0.3l-2.6-0.3l-2-0.9l-1.4-1.5l-0.8-2z" fill-opacity="0.64"/><path d="M211.1 1666.9l3.4-4.3l4.8-2.7l5.1-0.4l5.6 2.6l5.8 4.8l3.6 5l0.2 4.4l-2 4.6l-3.2 4.3l-4.8 4.4l-6 4.1l-5 2.2l-3.4-0.3l-2.5-2.3l-1.6-4l-1.1-6.8l-0.2-8.6z" fill-opacity="0.18"/><path d="M214.4 1661.9l2.9-1.5l4.2-1.4l2.9-0.4l0.5 1.7l-0.8 2.8l-1.4 2.2l-2 0.8l-2.6 0.3l-2-0.3l-1.4-1.1l-0.8-1.6z" fill-opacity="0.30"/><path d="M189.4 1666.9l1.6-0.5l2 0.4l1.4 0.9l0.3 2.1l-0.4 2.7l-0.7 1.9l-1.3 0.5l-1.7-0.4l-1.2-0.9l-0.4-2.1l-0.1-2.7z" fill-opacity="0.40"/><path d="M190.3 1603.1l1.8-0.3l2.8 0.7l2 1.2l0.4 2.1l-0.5 2.7l-0.7 1.9l-1 0.5l-1.2-0.3l-1.1-1.1l-1.3-2.3l-1.1-3.1z" fill-opacity="0.30"/><path d="M386.5 1935.4l4.1 0.6l6.3 2.9l6.4 2.1l6.3 0.2l6.4-0.7l6-1.3l5.5-2.9l5.1-3.4l4.4-1.2l4.4 2.8l3.7 5.1l1.3 5.2l-2.9 5l-5.5 5l-4.7 3l-2.7-0.7l-2-2.9l-2.8-2l-4.6 0.1l-5.4 0.9l-5 0.9l-4 0.9l-3.6 0.9l-3.6 0l-4.1-0.9l-4.1-1.8l-3-2.8l-2.1-5.1l-0.9-6.1z" fill-opacity="0.70"/><path d="M437 1946.6l-5.6 16.8" fill="none" stroke="#fff" stroke-width="2.9" stroke-linecap="round" stroke-linejoin="round" stroke-opacity="0.56"/><path d="M403.3 1957.8l-4.3 3.5l-5.9 5l-4.7 4.6l-2.5 3.2l-1.3 2.7l0 3.4l1.9 5.1l3.2 5.8l2.4 4" fill="none" stroke="#fff" stroke-width="4.3" stroke-linecap="round" stroke-linejoin="round" stroke-opacity="0.70"/><path d="M433.3 1965.3l-1.5 5l-2.1 7l-2 6.6l-2.1 5.8l-2.1 5.4l-1.5 3.8" fill="none" stroke="#fff" stroke-width="3.6" stroke-linecap="round" stroke-linejoin="round" stroke-opacity="0.70"/><path d="M392.1 1959.7l10.9-4l15.6 0.1l10.9 3.9l2.8 9.8l-1.8 13.5l-4.7 10.3l-9 4.9l-12 1.7l-9-2.9l-4.7-10.8l-1.8-15.3z" fill-opacity="0.08"/><path d="M369.6 1969l2.6 0.1l4.6 2.3l4.1 3.2l2.3 4.2l1.6 5.3l1.7 5.4l1.8 5.8l1.8 5.9l2 5.1l2.1 4.1l2.3 3.3l3.1 2l4.7 0.5l5.5-0.7l4.8-1.7l2.7-3.6l2-4.6l2.7-3l5.2 0l5.9 1.7l3.9 2l0.4 2.2l-1.6 2.7l-2.5 2.6l-4.2 2.3l-5 2.4l-2.1 2.8l5.2 3.8l8 4.2l1.8 3l-10.9 1.4l-17.1 0.2l-13.2-1.6l-4.5-4.3l-0.5-6l-0.6-6.3l-1.8-6.3l-1.8-6.4l-2-6l-2.3-5.3l-2.6-4.9l-2.6-4.7l-3.2-5.2l-3.2-5z" fill-opacity="0.76"/><path d="M387.8 2010.9l4.4-1.5l7.3-0.4l7-0.1l6.2-0.7l6-0.5l4.4 1.2l2.1 3.9l0.4 5.7l-0.4 4.9l-0.9 3.4l-1.9 2.8l-3.5 2.1l-6.4 1.6l-8.1 0.9l-6.3-0.5l-2.5-2.4l-0.7-3.9l-0.9-4l-2.9-4.4l-3-4.6z" fill-opacity="0.88"/><path d="M423.1 2027.5l15.6 6.6" fill="none" stroke="#fff" stroke-width="2.9" stroke-linecap="round" stroke-linejoin="round" stroke-opacity="0.84"/><path d="M423.1 2004.7l4.2-0.3l6 0.4l4.4 0.9l1.5 1.7l-0.1 2l-1.4 1.5l-3.7 0.6l-5 0.1l-3.8-0.7l-2.1-1.9l-0.9-2.5z" fill-opacity="0.40"/><path d="M449.1 2006.8l3.1-0.7l4.4-0.1l2.9 0.8l0.1 2.2l-1.5 3l-1.7 2l-2.1 0.5l-2.4-0.5l-1.8-1l-1.1-1.9l-0.6-2.5z" fill-opacity="0.30"/><path d="M352.4 1977.8l2.4-0.8l3.5-0.5l2.4 0.2l0.6 1.5l-0.5 2.1l-1.1 1.6l-1.9 0.5l-2.5 0l-1.9-0.5l-1-1.2l-0.5-1.6z" fill-opacity="0.40"/><path d="M563.5 2032.7l11.4 12.4" fill="none" stroke="#fff" stroke-width="1.8" stroke-linecap="round" stroke-linejoin="round"/><path d="M572.8 2043.1l6.3 6.2" fill="none" stroke="#fff" stroke-width="1.8" stroke-linecap="round" stroke-linejoin="round" stroke-opacity="0.84"/><path d="M578 2047.2l15.6 17.6" fill="none" stroke="#fff" stroke-width="1.8" stroke-linecap="round" stroke-linejoin="round"/><path d="M615.5 1924l2.7 3.4l3.8 5l3.8 4.6l3.5 4l3.4 3.7l2.4 2.6" fill="none" stroke="#fff" stroke-width="1.8" stroke-linecap="round" stroke-linejoin="round" stroke-opacity="0.84"/><path d="M633.3 1944.5l13.1 15.8" fill="none" stroke="#fff" stroke-width="2.2" stroke-linecap="round" stroke-linejoin="round" stroke-opacity="0.84"/><path d="M659.5 1974.3l14.9 14.8" fill="none" stroke="#fff" stroke-width="2.5" stroke-linecap="round" stroke-linejoin="round" stroke-opacity="0.98"/><path d="M657.7 1975.1l29.8 27.8" fill="none" stroke="#fff" stroke-width="2.5" stroke-linecap="round" stroke-linejoin="round" stroke-opacity="0.98"/><path d="M663.3 2012.2l4.2-0.5l5.8-0.3l4.9-1.1l2.2-2.9l1.1-3.8l2.2-2.5l4.4-0.3l5.5 1l5 1.1l4.4 0.8l4.1 1.1l2.7 1.8l1 3.3l-0.4 4.1l-1.4 3.7l-2.6 3.1l-3.6 2.6l-4.2 1.8l-4.9 0.8l-5.4 0l-4.6-0.8l-2.8-2.2l-2-2.9l-2.6-2.4l-4.4-0.9l-5-0.4l-3.6-0.5l-1.5-1.2l-0.1-1.3z" fill-opacity="0.86"/><path d="M690.4 1988.1l-1.1 13" fill="none" stroke="#fff" stroke-width="2.2" stroke-linecap="round" stroke-linejoin="round" stroke-opacity="0.56"/><path d="M736.2 1849.3l11.2 6.6" fill="none" stroke="#fff" stroke-width="1.8" stroke-linecap="round" stroke-linejoin="round" stroke-opacity="0.70"/><path d="M749.3 1858.7l2.9 2.2l4.2 3.3l4.1 3.8l3.9 4.2l3.9 4.6l3.4 4.2l2.8 3.4l2.4 2.9l2.3 3.1l2.6 4l2.5 4.2l1.7 3" fill="none" stroke="#fff" stroke-width="2.2" stroke-linecap="round" stroke-linejoin="round" stroke-opacity="0.98"/><path d="M773 1880.6l16.7 23" fill="none" stroke="#fff" stroke-width="2.5" stroke-linecap="round" stroke-linejoin="round"/><path d="M675.8 1657.9l2.9 1.6l4 2.2l3.8 2.9l2.8 3.5l2.6 4.2l2.5 4.2l2.7 3.8l2.6 3.9l2.7 4.2l3.4 5.6l3.5 6.1l2.4 4.3" fill="none" stroke="#fff" stroke-width="4.3" stroke-linecap="round" stroke-linejoin="round" stroke-opacity="0.98"/><path d="M691.8 1684.5l2.8 4.3l4 6.1l3.8 5.5l3.1 3.9l3 3.4l3.2 3.3l3.8 3.5l4 3.6l4.2 3.5l4.4 3.7l4.4 3.6l4.5 3.3l5 3.2l4.9 2.8l3.4 2" fill="none" stroke="#fff" stroke-width="3.6" stroke-linecap="round" stroke-linejoin="round" stroke-opacity="0.56"/><path d="M691.8 1684.5l3.1 1.8l5 5.4l5.2 6l5 6l5.3 6.6l5.7 6l6.3 5l6.6 4.4l5.7 3.9l4.9 3.2l4.1 2.7l1.6 2l-1.6 1.5l-4.1 0.9l-4.9 0.3l-5.7-0.4l-6.6-1l-6.3-1.3l-5.9-2.1l-5.5-2.5l-4.6-0.7l-3.4 3l-2.4 4.7l-2.2 2.9l-2.6-0.2l-2.2-1.9l-0.5-3.2l3-4.4l4.9-5.6l2.7-5.9l-1.4-6l-3.6-6.3l-3-6.3l-1.8-7.3l-1.3-7.4z" fill-opacity="0.22"/><path d="M675.8 1673.8l-0.8 2.9l-1.1 3.9l-0.7 3.9l-0.2 3.5l0.1 3.4l0.1 2.4" fill="none" stroke="#fff" stroke-width="3.6" stroke-linecap="round" stroke-linejoin="round" stroke-opacity="0.70"/><path d="M646.5 1668.5l10.5-1.2l16.1 0.5l13.4 3.4l7.9 8.5l5.4 11.5l2.6 9.2l-0.4 4.9l-3 2.6l-4.6 0.4l-6.3-1.9l-7.7-4l-7.2-4.7l-6-5l-5.3-5.6l-4.7-5.3l-5.8-5.2l-5.3-4.9z" fill-opacity="0.08"/><path d="M702.4 1742.8l2.1-2.7l4.1-3.1l4.5-2.1l4.2-0.3l4.6 0.7l4.5 0.9l4.5 0.8l4.5 1l4.3 0.9l4.5 0.4l4.2 0.3l2.6 0.6l0.4 1.3l-1.1 1.5l-2.6 1.2l-4.6 0.2l-6-0.3l-5.4 0.1l-3.9 0.8l-3.4 1l-3.3 0.8l-3.7 0.4l-3.6-0l-3.4-0.4l-3.5-0.9l-3.3-1.3z" fill-opacity="0.76"/><path d="M706.4 1726.9l-1.7 2.9l-2.4 4l-2.5 3.7l-2.9 3.2l-3 2.8l-2.1 2" fill="none" stroke="#fff" stroke-width="2.9" stroke-linecap="round" stroke-linejoin="round" stroke-opacity="0.49"/><path d="M673.2 1764.1l0.6-0.9l1.7-0.4l1.6-0.1l1.3 0.6l1.2 0.9l1.5 0.5l2.5-0.7l2.8-1.1l1.4-0.2l-0.9 1.8l-2.3 2.8l-2.1 2.1l-1.4 0.9l-1.2 0.2l-1.4-0.5l-2-1.6l-2.2-2.4z" fill-opacity="0.82"/><path d="M661.2 1762.7l2.7-5l5.8-5.3l6.1-4.2l6.3-3l6.8-1.9l5.5-0.5l4.5 1.6l3.2 3.1l0.3 3.3l-4.5 3.2l-7.5 3.6l-6.6 3.8l-4.1 5.2l-3.2 5.4l-3.3 2.7l-4.9-2l-5.1-4.8z" fill-opacity="0.10"/><path d="M753 1754.1l1.4 2.3l2 3.3l1.9 3l2 2.8l2 2.7l1.3 1.8" fill="none" stroke="#fff" stroke-width="2.2" stroke-linecap="round" stroke-linejoin="round" stroke-opacity="0.56"/><path d="M782.9 1795.9l1.9 0l2.5 0.6l1.6 0.7l0.3 1.1l-0.6 1.4l-1 0.9l-1.5 0.2l-1.8-0.3l-1.4-0.6l-0.5-1.3l-0.1-1.6z" fill-opacity="0.76"/><path d="M839.5 1703.7l6.7 0.3" fill="none" stroke="#fff" stroke-width="2.2" stroke-linecap="round" stroke-linejoin="round" stroke-opacity="0.84"/><path d="M624.8 1553.2l2.2 2.5l3.1 3.6l3.1 3.8l3 4.4l3.1 4.7l2.2 3.4" fill="none" stroke="#fff" stroke-width="3.6" stroke-linecap="round" stroke-linejoin="round" stroke-opacity="0.98"/><path d="M614 1501.8l10.8 8.3" fill="none" stroke="#fff" stroke-width="2.9" stroke-linecap="round" stroke-linejoin="round" stroke-opacity="0.70"/><path d="M386.1 1423.4l3 0.7l4.3 0.9l4.2 0.9l3.9 0.6l3.8 0.5l2.7 0.3" fill="none" stroke="#fff" stroke-width="2.5" stroke-linecap="round" stroke-linejoin="round" stroke-opacity="0.98"/><path d="M308.6 1748l3.7 5.6" fill="none" stroke="#fff" stroke-width="2.2" stroke-linecap="round" stroke-linejoin="round" stroke-opacity="0.84"/><path d="M424.6 1697.5l5.2 8.3" fill="none" stroke="#fff" stroke-width="2.9" stroke-linecap="round" stroke-linejoin="round" stroke-opacity="0.70"/></g><filter id="fb0m" filterUnits="userSpaceOnUse" x="280" y="1388" width="442" height="563" color-interpolation-filters="sRGB"><feGaussianBlur in="SourceGraphic" stdDeviation="2.2" result="b"/><feColorMatrix in="b" type="matrix" values="0 0 0 0 0 0 0 0 0 0 0 0 0 0 0 0 0 0 1 0"/><feComponentTransfer><feFuncA type="table" tableValues="0 0.072 0.142 0.212 0.282 0.35 0.418 0.484 0.549 0.614 0.676 0.738 0.797 0.854 0.908 0.959 1"/></feComponentTransfer><feColorMatrix type="matrix" values="0 0 0 0 0 0 0 0 0 0 0 0 0 0 0 0 0 0 1 0" result="ba"/><feTurbulence type="fractalNoise" baseFrequency="0.45" numOctaves="1" seed="11"/><feColorMatrix type="matrix" values="0 0 0 0 0 0 0 0 0 0 0 0 0 0 0 1 0 0 0 0"/><feComponentTransfer result="m"><feFuncA type="table" tableValues="0 0 0 0 0 0 0 .001 .004 .016 .042 .08 .13 .194 .278 .387 .495 .616 .723 .804 .866 .917 .958 .984 .996 .999 1 1 1 1 1 1 1"/></feComponentTransfer><feComposite in="ba" in2="m" operator="arithmetic" k1="0" k2="6" k3="5" k4="-5" result="t"/><feFlood flood-color="#fff"/><feComposite in2="t" operator="in"/></filter><filter id="fb0f" filterUnits="userSpaceOnUse" x="133" y="1401" width="715" height="686" color-interpolation-filters="sRGB"><feGaussianBlur in="SourceGraphic" stdDeviation="1.0" result="b"/><feColorMatrix in="b" type="matrix" values="0 0 0 0 0 0 0 0 0 0 0 0 0 0 0 0 0 0 1 0"/><feComponentTransfer><feFuncA type="table" tableValues="0 0.072 0.142 0.212 0.282 0.35 0.418 0.484 0.549 0.614 0.676 0.738 0.797 0.854 0.908 0.959 1"/></feComponentTransfer><feColorMatrix type="matrix" values="0 0 0 0 0 0 0 0 0 0 0 0 0 0 0 0 0 0 1 0" result="ba"/><feTurbulence type="fractalNoise" baseFrequency="0.45" numOctaves="1" seed="14"/><feColorMatrix type="matrix" values="0 0 0 0 0 0 0 0 0 0 0 0 0 0 0 1 0 0 0 0"/><feComponentTransfer result="m"><feFuncA type="table" tableValues="0 0 0 0 0 0 0 .001 .004 .016 .042 .08 .13 .194 .278 .387 .495 .616 .723 .804 .866 .917 .958 .984 .996 .999 1 1 1 1 1 1 1"/></feComponentTransfer><feComposite in="ba" in2="m" operator="arithmetic" k1="0" k2="6" k3="5" k4="-5" result="t"/><feFlood flood-color="#fff"/><feComposite in2="t" operator="in"/></filter><mask id="mkb0" maskUnits="userSpaceOnUse" x="130.9" y="1351.0" width="716.0" height="766.8000000000002"><g filter="url(#fb0m)"><use href="#dnbmain"/></g><g filter="url(#fb0f)"><use href="#dnbfine"/></g></mask><filter id="fb1m" filterUnits="userSpaceOnUse" x="280" y="1388" width="442" height="563" color-interpolation-filters="sRGB"><feGaussianBlur in="SourceGraphic" stdDeviation="2.2" result="b"/><feColorMatrix in="b" type="matrix" values="0 0 0 0 0 0 0 0 0 0 0 0 0 0 0 0 0 0 1 0"/><feComponentTransfer><feFuncA type="table" tableValues="0 0.021 0.043 0.064 0.085 0.105 0.125 0.145 0.165 0.184 0.203 0.221 0.239 0.256 0.273 0.288 0.3"/></feComponentTransfer><feColorMatrix type="matrix" values="0 0 0 0 0 0 0 0 0 0 0 0 0 0 0 0 0 0 1 0" result="ba"/><feTurbulence type="fractalNoise" baseFrequency="0.45" numOctaves="1" seed="29"/><feColorMatrix type="matrix" values="0 0 0 0 0 0 0 0 0 0 0 0 0 0 0 1 0 0 0 0"/><feComponentTransfer result="m"><feFuncA type="table" tableValues="0 0 0 0 0 0 0 .001 .004 .016 .042 .08 .13 .194 .278 .387 .495 .616 .723 .804 .866 .917 .958 .984 .996 .999 1 1 1 1 1 1 1"/></feComponentTransfer><feComposite in="ba" in2="m" operator="arithmetic" k1="0" k2="6" k3="5" k4="-5" result="t"/><feFlood flood-color="#fff"/><feComposite in2="t" operator="in"/></filter><filter id="fb1f" filterUnits="userSpaceOnUse" x="133" y="1401" width="715" height="686" color-interpolation-filters="sRGB"><feGaussianBlur in="SourceGraphic" stdDeviation="1.0" result="b"/><feColorMatrix in="b" type="matrix" values="0 0 0 0 0 0 0 0 0 0 0 0 0 0 0 0 0 0 1 0"/><feComponentTransfer><feFuncA type="table" tableValues="0 0.021 0.043 0.064 0.085 0.105 0.125 0.145 0.165 0.184 0.203 0.221 0.239 0.256 0.273 0.288 0.3"/></feComponentTransfer><feColorMatrix type="matrix" values="0 0 0 0 0 0 0 0 0 0 0 0 0 0 0 0 0 0 1 0" result="ba"/><feTurbulence type="fractalNoise" baseFrequency="0.45" numOctaves="1" seed="32"/><feColorMatrix type="matrix" values="0 0 0 0 0 0 0 0 0 0 0 0 0 0 0 1 0 0 0 0"/><feComponentTransfer result="m"><feFuncA type="table" tableValues="0 0 0 0 0 0 0 .001 .004 .016 .042 .08 .13 .194 .278 .387 .495 .616 .723 .804 .866 .917 .958 .984 .996 .999 1 1 1 1 1 1 1"/></feComponentTransfer><feComposite in="ba" in2="m" operator="arithmetic" k1="0" k2="6" k3="5" k4="-5" result="t"/><feFlood flood-color="#fff"/><feComposite in2="t" operator="in"/></filter><mask id="mkb1" maskUnits="userSpaceOnUse" x="130.9" y="1351.0" width="716.0" height="766.8000000000002"><g filter="url(#fb1m)"><use href="#dnbmain"/></g><g filter="url(#fb1f)"><use href="#dnbfine"/></g></mask><filter id="fb2m" filterUnits="userSpaceOnUse" x="280" y="1388" width="442" height="563" color-interpolation-filters="sRGB"><feGaussianBlur in="SourceGraphic" stdDeviation="2.2" result="b"/><feColorMatrix in="b" type="matrix" values="0 0 0 0 0 0 0 0 0 0 0 0 0 0 0 0 0 0 1 0"/><feComponentTransfer><feFuncA type="table" tableValues="0 0.011 0.023 0.034 0.045 0.056 0.067 0.077 0.088 0.098 0.108 0.118 0.128 0.137 0.145 0.153 0.16"/></feComponentTransfer><feColorMatrix type="matrix" values="0 0 0 0 0 0 0 0 0 0 0 0 0 0 0 0 0 0 1 0" result="ba"/><feTurbulence type="fractalNoise" baseFrequency="0.45" numOctaves="1" seed="47"/><feColorMatrix type="matrix" values="0 0 0 0 0 0 0 0 0 0 0 0 0 0 0 1 0 0 0 0"/><feComponentTransfer result="m"><feFuncA type="table" tableValues="0 0 0 0 0 0 0 .001 .004 .016 .042 .08 .13 .194 .278 .387 .495 .616 .723 .804 .866 .917 .958 .984 .996 .999 1 1 1 1 1 1 1"/></feComponentTransfer><feComposite in="ba" in2="m" operator="arithmetic" k1="0" k2="6" k3="5" k4="-5" result="t"/><feFlood flood-color="#fff"/><feComposite in2="t" operator="in"/></filter><filter id="fb2f" filterUnits="userSpaceOnUse" x="133" y="1401" width="715" height="686" color-interpolation-filters="sRGB"><feGaussianBlur in="SourceGraphic" stdDeviation="1.0" result="b"/><feColorMatrix in="b" type="matrix" values="0 0 0 0 0 0 0 0 0 0 0 0 0 0 0 0 0 0 1 0"/><feComponentTransfer><feFuncA type="table" tableValues="0 0.011 0.023 0.034 0.045 0.056 0.067 0.077 0.088 0.098 0.108 0.118 0.128 0.137 0.145 0.153 0.16"/></feComponentTransfer><feColorMatrix type="matrix" values="0 0 0 0 0 0 0 0 0 0 0 0 0 0 0 0 0 0 1 0" result="ba"/><feTurbulence type="fractalNoise" baseFrequency="0.45" numOctaves="1" seed="50"/><feColorMatrix type="matrix" values="0 0 0 0 0 0 0 0 0 0 0 0 0 0 0 1 0 0 0 0"/><feComponentTransfer result="m"><feFuncA type="table" tableValues="0 0 0 0 0 0 0 .001 .004 .016 .042 .08 .13 .194 .278 .387 .495 .616 .723 .804 .866 .917 .958 .984 .996 .999 1 1 1 1 1 1 1"/></feComponentTransfer><feComposite in="ba" in2="m" operator="arithmetic" k1="0" k2="6" k3="5" k4="-5" result="t"/><feFlood flood-color="#fff"/><feComposite in2="t" operator="in"/></filter><mask id="mkb2" maskUnits="userSpaceOnUse" x="130.9" y="1351.0" width="716.0" height="766.8000000000002"><g filter="url(#fb2m)"><use href="#dnbmain"/></g><g filter="url(#fb2f)"><use href="#dnbfine"/></g></mask><filter id="cbb" filterUnits="userSpaceOnUse" x="130.9" y="1351.0" width="716.0" height="766.8000000000002" color-interpolation-filters="sRGB"><feGaussianBlur stdDeviation="4"/></filter><filter id="sfb" filterUnits="userSpaceOnUse" x="130.9" y="1351.0" width="716.0" height="766.8000000000002"><feGaussianBlur stdDeviation="0.45"/></filter><g id="dncmain" fill="#fff"><path d="M1438.5 1432.3l3.8-5.6l5-4.8l5.8-4.1l6.4-3.6l7-2.9l7.4-1.4l7.3 0.7l7.5 2.1l8.1 2.6l9.2 2.5l9.7 3l8.1 3.6l6 4.5l4.5 5.2l3.1 5.4l1.3 5.9l-0.2 6.2l-1.1 5.6l-2.1 4.7l-3 4.2l-4.3 3.5l-6.1 2.7l-7.4 2l-7.3 1.5l-7 1.1l-6.9 0.5l-6.9 0.5l-7.1 0.7l-7 0.6l-6.8-0.3l-6.6-1.4l-6.5-2.3l-5.6-3.5l-4.9-5.3l-4.1-6.6l-2.4-6.8l-0.5-7l1.2-7.2z"/><path d="M1435.4 1446.8l2.9 5.6l3.8 10.6l4.7 8.7l6 3.5l6.8 1.5l5.9 2.2l4.7 3.9l3.7 4.7l2.1 4.9l-0.2 5.3l-1.8 5.6l-2.2 5.7l-2.5 5.5l-2.9 5.5l-2.9 5.6l-3 5.4l-2.9 5.3l-2.5 5.9l-1.7 6.6l-1.3 7l-1.1 7.1l-0.9 7l-0.6 7l-0.6 6.7l-0.5 6.5l-0.4 6.2l-1.2 6l-2.1 5.8l-2.7 5.6l-3.5 5.2l-4.3 4.5l-5 4.1l-5.3 3.8l-5.5 3.5l-5.7 3.2l-5.4 3.7l-5.1 4.4l-4.9 5l-4.6 5.1l-3.2 5.9l-3 6.1l-6.3 4.4l-12.9 1.7l-16.2-0.1l-12.5-1.6l-5.7-4l-2.1-5.6l-1-4.7l-0.6-2.6l0.4-1.8l1.7-2.9l3.3-5l4.5-6.1l4.7-6.5l4.4-6.9l4.5-7.1l4.6-6.7l4.8-5.6l4.9-5l4.9-6l5-7.7l5-8.6l4.6-8.6l3.7-8.2l3.3-8.2l3.4-8.5l3.3-8.8l3.5-9.1l4-9l5.3-9.1l5.9-9.1l5-8.8l3.6-8.6l2.6-8.4l2.1-7.9l1.2-8.9l0.5-8.4z"/><path d="M1435.4 1446.8l0.3 3.7l-1.5 8.3l-2 8.7l-2.1 7.9l-2.6 8.4l-3.6 8.6l-5 8.8l-5.9 9.1l-5.3 9.1l-4 9l-3.5 9.1l-3.3 8.8l-3.4 8.5l-3.3 8.2l-3.7 8.2l-4.6 8.6l-5 8.6l-5 7.7l-5.4 6.7l-5.3 5.9l-3.9 4l-1.8 1.8l-0.4 0l1.2-1.8l3.3-4l4.8-5.9l4.4-6.7l3-7.7l2.7-8.6l2.6-8.6l2.6-8.2l2.6-8.2l3.1-8.5l3.9-8.8l4.3-9.1l4.3-9l4.2-9.1l4.1-9.1l4.2-8.8l4.1-8.6l4.2-8.4l4.2-7.9l4.7-8.7l4.8-8.3z" fill-opacity="0.60"/><path d="M1471.8 1509l4.8-3.7l5.7-2.8l6.1-1.8l6.9-0.8l7.3 0l6.7 0.8l5.7 1.4l5.1 2.1l3.7 2.7l2 3.6l0.6 4.3l-0.5 4.6l-1.7 4.9l-2.8 5.1l-3.8 4.5l-5 3.3l-5.8 2.6l-5.9 2.4l-5.5 2.3l-5.6 2.2l-5.5 1.7l-5.9 1.5l-5.8 1.1l-5-0.5l-3.8-3.1l-3-4.7l-1.5-4.7l0.3-4l1.7-4l2.2-4.4l2.1-5.6l2.6-5.9z" fill-opacity="0.90"/><path d="M1465.5 1478.9l4.7-1.2l8.1 0.2l8.1 0l6.9-0.5l6.9-0.5l7-1.1l7.4-1.7l7.4-2.3l6-2.2l4-3.1l2.7-3l1.6-0.1l0.5 4.7l-0.5 7.8l-1 8.2l-1.5 8.5l-1.9 9l-1.8 7.4l-1.6 5.4l-1.4 3.7l-1.2 1.3l-0.4-2.7l-0.1-5.3l-1.6-4.5l-3.7-2.7l-5.1-2.1l-5.7-1.4l-6.7-0.8l-7.3-0l-6.9 0.8l-6.6 3.1l-6.2 4l-3.8 1.2l0.4-3.8l2.7-6.6l1.1-6.2l-3.6-5.2l-5.2-4.8z" fill-opacity="0.72"/><path d="M1455.1 1542.2l3.4 1l4.3 4.2l4.8 3.1l5.3 0.2l5.7-0.9l5.7-1.4l6.3-2.6l6.3-3.1l4-0.5l0.4 4l-1.9 6.5l-2.6 6l-3 4.5l-3.7 4l-3.7 4l-3.7 4l-3.6 4l-3.1 4.4l-2.4 5.2l-1.8 5.7l-2.1 5.7l-2.5 5.7l-2.8 5.7l-3 5.2l-3.3 5.3l-3.4 4.8l-3.7 2.3l-4.8-1.5l-5-4.1l-2.7-4.7l1.5-5l3.7-5.7l3.1-5.9l1.2-6l0.4-6.2l0.5-6.5l0.6-6.7l0.6-7l0.9-7l0.9-8l1.2-8z" fill-opacity="0.68"/><path d="M1364.4 1557.4l21.2-2.8l29.3 0.3l22.5 2.5l8.7 4.8l1.7 6.9l0.9 6.9l1.7 6.2l0.9 6.3l0.2 6.2l-0.3 6.3l-0.9 6.4l-1.6 5.9l-2.5 5.5l-3.3 5l-3.6 4.5l-4.2 3.3l-4.5 2.8l-4.4 3.2l-4 4.1l-3.7 4.6l-3.6 4.3l-3.2 3.9l-3.1 3.7l-3 3.6l-3.1 3.7l-3 3.7l-3.3 3.8l-3.6 4.5l-3.8 4.7l-3.8 3.9l-3.7 3.1l-3.7 2.5l-3.9 0.9l-4.1-0.9l-4.4-2.5l-4.6-3.1l-4.9-3.9l-5.1-4.7l-5-4.5l-4.9-3.8l-4.6-3.7l-3.6-3.7l-2.1-3.6l-1-3.7l0.3-3.9l1.8-4l3.1-4.3l3.5-4.7l4.2-5.3l4.7-5.8l4.3-5.7l3.6-5.5l3.2-5.6l2.5-5.7l1.8-5.7l1.2-6l0.8-7l-2.5-9.6l-2.8-10.7z"/><path d="M1437.4 1557.4l19.5-2.1l28.3-0l19.7 2.1l2.5 4.8l-5.9 6.9l-6 6.9l-3.1 6.2l-3.2 6.3l-3.1 6.2l-3.1 6.5l-3.1 6.5l-3.1 5.6l-3 4.5l-2.9 3.7l-3.5 3l-5 3.1l-5.6 2.5l-4.4-0l-2.3-3.8l-1.1-6.4l-0.3-6.6l0.6-6.1l1.4-6.2l0.8-6.3l-0.2-6.2l-0.9-6.3l-1.7-6.2l-6.1-6.9l-6.9-6.9z" fill-opacity="0.62"/><path d="M1421.8 1455.1l4.8-6.8l4.3-5.5l3.4-4.3l2.3-3.8l1.3-2.7l0.6 0.3l-0.2 5.1l-0.9 8.2l-2 7.4l-3.5 4.9l-4.5 4.3l-4.5 5.3l-4.2 7.5l-4.2 8.6l-4.1 8.8l-4.2 8.8l-4.1 9.1l-4.2 9.1l-4.3 9l-4.3 9.1l-3.9 8.8l-3.1 8.5l-2.6 8.2l-2.6 8.2l-2.8 9.4l-2.8 9.3l-2.7 6.2l-3.2 1.5l-3-1.7l-1.1-4l2.1-6.6l4.2-8.9l4.1-9.4l3.5-9.6l3.4-10.2l3.5-9.2l3.4-7l3.4-6.2l3.6-7.5l3.8-10.3l4.1-11.7l4.6-11.2l5.4-10.4l5.8-10z" fill-opacity="0.22"/><path d="M1538.4 1467.5l0.8 5.1l1.1 7.4l1.2 8.3l1.1 9.3l1.1 10.3l2 9.4l3.2 7.7l4.1 6.9l4.1 6.1l4 4.9l4.2 4.3l4.3 5.3l4.8 7.6l5.1 8.6l4.7 8.7l4.4 8.2l4.1 8.2l2.9 8.5l0.8 9.3l-0.4 9.5l0.7 8.1l2.4 5.7l3.5 4.3l4.5 4.5l5.8 5.6l6.8 5.8l6.1 5.2l5.1 4.9l4.4 4.4l3 3" fill="none" stroke="#fff" stroke-width="5.0" stroke-linecap="round" stroke-linejoin="round" stroke-opacity="0.77"/><path d="M1528 1469.6l1.8-3.5l4.5-2.2l4.1 3.6l2.5 13.9l2.2 19.5l2.6 16.4l3.4 9.3l4 6l4 5.4l5 5.5l5 4.7l2.5 4.3l-1.4 4.5l-3.9 4l-5.1 1.9l-6.5-1.2l-7.8-3.3l-6.5-3.8l-4.6-3.5l-3.3-3.9l-2.5-5l-2.1-7.3l-1.1-8.5l1.1-7l5.2-3.9l7.3-2.4l5.2-4.1l1.2-7.6l-1-9.2l-2.3-8.1l-4.5-6.1l-5.9-4.9z" fill-opacity="0.30"/><path d="M1500.9 1542.2l4.9-4l6.2-3.1l5.6-1.2l3.9 1.4l3.2 3.2l3.3 3.7l4.2 3.6l4.3 4.2l1.9 4.6l-1.8 5.4l-4.1 5.8l-4.5 5.4l-4.5 4.6l-4.9 4.1l-5.2 3.7l-5.6 4.2l-5.9 3.7l-5.1 0.4l-4.7-5l-4-8.3l-1.7-7.4l2.1-4.6l4.5-3.7l3.8-4.2l1.4-5.5l0.6-6z" fill-opacity="0.15"/><path d="M1500.9 1542.2l4.9-4l6.2-3.1l5.6-1.2l3.9 1.4l3.2 3.2l3.3 3.7l4.2 3.6l4.3 4.2l1.9 4.6l-1.8 5.4l-4.1 5.8l-4.5 5.4l-4.5 4.6l-4.9 4.1l-5.2 3.7l-5.6 4.2l-5.9 3.7l-5.1 0.4l-4.7-5l-4-8.3l-1.7-7.4l2.1-4.6l4.5-3.7l3.8-4.2l1.4-5.5l0.6-6z" fill-opacity="0.10"/><path d="M1486.1 1632l7.2-4.2l7.3-7l6.1-7.5l4.1-7.4l2.9-7.8l2.4-7.2l1.6-6.4l1.2-5.8l2.8-4.6l5.5-3l7.1-1.8l8-0.7l9.2 0.2l10 1.2l8.9 2.3l7.4 3.4l6.3 4.5l5.1 5.1l3.7 5.8l2.5 6.5l1.2 6.4l-0.2 6.4l-1.4 6.3l-2.1 6l-2.6 5.1l-3.2 4.8l-3.6 5l-4.2 5.5l-4.6 5.8l-4.3 5.5l-3.7 5l-3.2 4.7l-2.4 5.2l-1.1 5.9l-0.2 6.4l-0.6 6.4l-1.4 6.2l-1.8 6.2l-2.4 6.2l-3.1 6.6l-3.7 6.6l-4.5 5.5l-5.3 3.9l-6.2 2.9l-7.2 2.5l-8.7 2.5l-9.7 2.1l-9.7 1l-9.4-0.4l-9.3-1.5l-9.4-1.8l-9.7-2l-9.6-2.4l-8.8-3.1l-7.7-3.9l-6.9-4.6l-6-4.5l-4.9-4.5l-4.1-4.4l-4.1-4.2l-4.7-4l-4.8-3.8l-3.6-3.4l-2.6-2.5l-1.5-2.1l0.3-2.9l3.1-4.4l4.9-5.2l5.1-5.3l4.8-5l5-4.9l5.2-5l5.3-5.3l5.5-5.2l6.1-4.4l7.5-3.1l8.1-2.2l6.9-2.2l4.3-3.1l3-3l3.9-1.4l5.6 2.4l6.5 4z" fill-opacity="0.42"/><path d="M1429.9 1643.2l5.6-7.2l10.7-8.2l10-7l7.3-4.8l6.7-3.5l6.6-2.9l6.3-2.6l6.2-1.9l6.2-1.1l6.6-0.3l6.6 0.6l5.5 1.6l4.9 2.9l3.8 4l0.7 4.3l-4.2 4.4l-7.3 4.6l-7.2 4l-6.3 2.9l-6.2 2.2l-6.3 2.4l-6.2 3l-6.3 3.1l-6.2 3.2l-6.3 4l-6.2 3.9l-6.2 1.4l-8-2.3l-7.9-4.8z" fill-opacity="0.62"/><path d="M1448.7 1613.3l4.5-6.1l7.1-6.2l7.1-6.3l6.2-6.5l6.3-6.5l6.2-5.7l6.4-5.1l6.4-4.3l6-1.8l6.3 1.7l6 4.1l2.6 5.4l-2.6 6.9l-6 8.2l-6.3 7.3l-6 5.5l-6.4 4.7l-6.4 4.7l-6.4 5.5l-6.3 5.4l-6 4.1l-5.7 2.2l-5.3 0.9l-4-1.3l-2.9-4.1l-1.7-6.2z" fill-opacity="0.42"/><path d="M1533 1577.9l5.9-2.9l7.9-1.3l6.8 0.4l4.7 2.8l3.8 4.6l2.7 5.7l1.6 6.8l0.6 7.8l-0.3 7.8l-1.2 7.9l-2 7.9l-2.4 6.6l-2.8 5.2l-3.1 4l-3.5 2l-4.4-0.6l-4.8-2.6l-3.9-4.3l-2.5-6.5l-1.7-8.1l-1.4-7.8l-1.7-6.5l-1.5-6.2l-0.6-5.9l0.1-6.2l0.9-6.1z" fill-opacity="0.30"/><path d="M1433.7 1646.9l4.9-4.5l6.6-3.8l7.2-2.9l7.9-2.3l8.5-1.4l8 0l6.6 2.1l6.1 3.6l6 3.6l6.2 3.1l6.3 3l6.2 3.2l6.4 3.5l6.4 3.7l6 4l5.6 4.6l5.2 5l4.1 5.4l3.1 6l2 6.4l0.6 6.2l-1.4 6l-2.7 5.7l-3.4 5.1l-3.8 4.4l-4.4 3.7l-4.9 3.1l-5.9 2.3l-6.4 1.7l-6.5 1.6l-6.2 2.2l-6.3 2.2l-6.2 1.2l-6.3-0.5l-6.2-1.5l-6.2-1.7l-6.3-1.8l-6.2-2l-6.3-1.8l-6.4-1.2l-6.3-1l-6-1.6l-5.6-2.5l-5.1-3.2l-4.3-3.6l-3.5-4l-2.7-4.4l-1.3-4.6l0.8-4.7l2.3-4.9l2.5-5.4l2.5-5.9l2.7-6.4l2.3-6.3l1-6.5l0.6-6.5z" fill-opacity="0.80"/><path d="M1414.9 1650.6l8.2-8.3l8.7-8.4l7.5-5.6l5.1-0.9l3.9 1.8l4.1 0.9l5.1-1.1l5.2-1.9l4.7-2.6l3.5-4l2.9-4.6l3-2.6l4 0.7l4 2.8l1.3 4l-3 5.8l-5.8 7l-6.2 5.9l-6.1 3l-6.5 1.8l-6.1 2.6l-5.4 4.4l-5 5.3l-4.6 5.2l-3.7 5.2l-3.4 5.1l-4.1 4.7l-6 4.9l-6.8 4.6l-6 1.7l-5.4-2.8l-4.5-5.7l-1.3-6.5l3.8-6.9l7.2-7.7z" fill-opacity="0.42"/><path d="M1411.2 1628.3l3.2-1.6l4.3-0.8l3.7 0.5l2.6 2.3l1.9 3.5l1.2 3.5l0.2 3.5l-0.5 3.4l-1.6 2.5l-3.3 0.9l-4.4-0.1l-3.6-0.8l-2.2-1.9l-1.5-2.7l-0.9-2.9l-0.5-3.3l0.1-3.4z" fill-opacity="0.76"/><path d="M1385 1658.1l7.9-4.4l12.5-3l9.5-0.1l4.2 4.7l1.3 7.5l-1.7 6.5l-6 4.9l-8.9 3.9l-7.6 0.5l-6.1-5.1l-4.9-8.4z" fill-opacity="0.12"/><path d="M1362.5 1558.7l2.7-2.7l3.8-1.6l2.9 0.2l1.5 3l0.8 4.8l-0.2 4.6l-1.5 4.2l-2.5 3.9l-2.3 2.3l-2 0.1l-1.9-1.6l-1.3-2.6l-0.7-4.5l-0.2-5.6z" fill-opacity="0.65"/><path d="M1401.8 1725.3l9.1-0.3l14.7 1.8l13.7 2.2l10.1 2.4l9 2.7l9 2.4l9.4 1.8l9.3 1.5l9.4 0.4l9.7-1l9.7-2.1l8.7-2.5l7.3-3.6l6.2-4l5.2-1.7l4.3 1.9l3.3 4.2l1.8 5.1l0.1 6.1l-1.3 6.9l-2.6 5.6l-3.6 3.8l-5 2.5l-6.3 1.2l-8.4-0.6l-9.9-1.9l-9.8-1.2l-9.4 0.3l-9.4 1l-9.3 0.5l-9.8 0.2l-9.7-0.3l-8.6-1.7l-7.1-4.5l-6.1-5.8l-5.6-4.7l-5.3-1.6l-4.9-0.4l-4.8-1.7l-6.3-4.8l-6.2-6.1z" fill-opacity="0.32"/><path d="M1561.1 1669.3l4.5-10.3l9.2-13l8.7-8.4l6.7-0.2l6.2 4.5l5.9 5l5.2 4.3l4.9 4.9l4.8 5.7l5.2 7.2l5.2 8l4.6 7.2l4.5 5.8l4 5l2 4.2l-0.5 4l-2.4 3.1l-3.8 0.3l-5.4-4.5l-6.7-7.5l-6.7-6.6l-6.2-4.7l-6.2-3.9l-6.3-2.6l-6.2-0.6l-6.3 0.7l-6.2-0.1l-7.8-1.1l-7.8-1.8z" fill-opacity="0.12"/><path d="M1372.6 1773.3l11.6-1.5l16.5 0.1l13.2 1.4l6.8 2.9l3.4 4.1l1 4.2l-1.8 4.2l-4.3 4.2l-5.1 2.8l-5.7 0.5l-6.6-1l-6.5-1.4l-6.8-1.2l-6.8-1.7l-5.1-2.7l-4-4.8l-2.4-5.9z" fill-opacity="0.55"/><path d="M1338.9 1773.3l6-1.4l8.7-0.1l7.8 1.5l5.4 4.3l4.6 5.9l5 4.7l6 2l6.3 0.8l6.4 1l6.3 1.5l6.2 1.8l6.3 2.3l6.3 2.6l6.4 3l6 3.7l5.7 4.6l5.3 5.3l4 5l2.9 4.8l1.7 4.7l-0.9 3.6l-4.6 1.8l-7 0.7l-7.1 1.2l-6.3 2.4l-6.2 2.9l-6.2 2.2l-6.3 0.8l-6.2 0.2l-6.3 0.8l-6.2 2.2l-6.3 2.9l-6.2 2.4l-6.4 1.5l-6.4 1.1l-5.9 1.1l-5.3 1.3l-4.9 1.2l-4.8 1.3l-5.3 1.5l-5.3 1.5l-4.4 0.7l-3.7-0.4l-2.8-1.3l-1-2l1.7-3.4l3.6-4.1l4.1-3.7l4.1-2.5l4.6-2.1l4.4-2.9l4.1-4.5l4-5.3l3.1-5.1l1.5-4.8l0.7-4.6l1.6-3.7l3.8-2.1l4.8-1.3l2.6-2.2l-1-4l-3-4.8l-3.5-4.2l-3.5-3l-4-2.4l-3.7-2.1l-3.6-1.8l-3.3-1.6l-2.5-2.2l-2.1-3.7l-1.2-4.4z" fill-opacity="0.42"/><path d="M1357.7 1816.2l5.4-1.9l7.1-0.7l6.2 0.7l4.9 2.8l4 4.2l2.3 4.2l0.4 4l-1.2 4.1l-2.9 3.1l-5.4 2.4l-7.1 1.5l-6.2-0.1l-4.9-2.6l-4-4.2l-2.4-4.4l-0.4-4.7l1.2-4.8z" fill-opacity="0.50"/><path d="M1338.9 1778.9l4.7-2l7.5-0.8l6.6 0.9l4.3 3.4l3.4 5.1l1.6 4.6l-0.4 4l-2.1 3.6l-3.1 1.7l-4.6-1l-5.6-2.9l-4.8-3.5l-4-4.4l-3.2-5z" fill-opacity="0.60"/><path d="M1352 1793.8l5-1.8l6.5-0.7l5.4 0.7l3.7 2.6l2.8 4.2l1 4.3l-1.3 4.5l-2.9 4.6l-3.3 4l-3.7 3.5l-4.1 2.9l-3.4 1.1l-2.4-1.9l-1.7-3.7l-1.6-3.8l-1.6-3l-1.5-3l-0.6-3.3l0.2-3.9l1-4.2z" fill-opacity="0.79"/><path d="M1326.9 1751.4l7.8-0.9l15.2-0.3l14.5-0.7l11.5-1.6l10.9-2.1l9.4-1.9l7.4-1.6l5.9-1.5l5.4-0.6l5.7 0.1l5.3 1l4 2.6l2.7 5.3l1.4 6.9l-0.3 6.5l-2.4 5.5l-4 5.1l-4.9 4.3l-5.7 3.5l-6.5 2.6l-6.5 1.4l-6.5-0.1l-6.5-1.3l-5.7-2.3l-4.1-3.8l-3.1-4.9l-4.1-4.4l-5.3-3.5l-6.2-3l-7.2-2.8l-11.1-2.9l-12.1-2.6z" fill-opacity="0.60"/><path d="M1323.2 1757l3.8-0.5l6.4 0.8l6.6 1.6l6.3 2.4l6.5 3.2l5.9 3.7l5.4 4.1l4.7 4.6l3.1 4.4l1.1 4.3l-0.6 4.2l-2.4 2.7l-5.4 0.7l-7.2-0.7l-6.1-1.9l-3.7-3.6l-2.7-4.8l-3-4.7l-4.4-3.9l-4.8-3.7l-3.9-3.6l-3.3-3.6l-2.4-3.5z" fill-opacity="0.55"/><path d="M1350.2 1810.6l-3 3.3l-4.2 4.8l-4.1 5l-3.4 4.8l-3.3 5.1l-2.6 5l-1.8 5.5l-1.2 5.6l-0.8 3.8" fill="none" stroke="#fff" stroke-width="2.9" stroke-linecap="round" stroke-linejoin="round" stroke-opacity="0.70"/><path d="M1327.7 1862.9l-5.4 0.5l-7.7 0.8l-7.5 0.5l-6.3 0l-6.1-0.3l-6.3 0.3l-7 1.4l-7.1 2l-6.6 2.2l-5.9 2.6l-5.4 2.9l-3.6 2" fill="none" stroke="#fff" stroke-width="2.9" stroke-linecap="round" stroke-linejoin="round" stroke-opacity="0.70"/><path d="M1267.7 1870.3l-14.9 9.3" fill="none" stroke="#fff" stroke-width="2.2" stroke-linecap="round" stroke-linejoin="round" stroke-opacity="0.42"/><path d="M1245.3 1883.4l2.7-0.1l3.9-0.1l4.6-0.2l5.8-0.5l6.5-0.6l4.6-0.4" fill="none" stroke="#fff" stroke-width="2.9" stroke-linecap="round" stroke-linejoin="round" stroke-opacity="0.84"/><path d="M1323.9 1877.8l2.9-0.2l3.7 1.4l2.8 2.5l1.5 4l0.7 5.1l-0.3 4l-1.9 2.4l-2.9 1.4l-2.7-0.1l-2.3-2.1l-2.1-3.5l-1.2-3.7l-0.2-4.2l0.6-4.3z" fill-opacity="0.70"/><path d="M1282.7 1881.5l1.9 2l2.7 2.9l2.9 2.6l3.5 1.9l3.7 1.7l2.2 2l-0.4 2.6l-1.9 2.8l-1.5 2" fill="none" stroke="#fff" stroke-width="2.9" stroke-linecap="round" stroke-linejoin="round" stroke-opacity="0.56"/><path d="M1307.1 1881.5l3.7 0.9l5.2 1.3l4.2 1.5l2.1 2l1 2.1l0.6 1.5" fill="none" stroke="#fff" stroke-width="3.6" stroke-linecap="round" stroke-linejoin="round" stroke-opacity="0.42"/><path d="M1320.2 1866.6l-2.5 3.4l-3.5 4.9l-3.4 4.7l-2.9 4.3l-2.7 4.1l-1.9 2.8" fill="none" stroke="#fff" stroke-width="2.9" stroke-linecap="round" stroke-linejoin="round" stroke-opacity="0.56"/><path d="M1280.9 1877.8l2.2-2.4l4.3-1.9l4.7 0.6l5.3 4.8l5.8 7.3l3.9 6.5l1.2 5.4l-0.7 4.6l-2.4 1.2l-4.8-4.4l-6.6-7.8l-5.4-6.5l-3.9-3.4l-2.9-2.2z" fill-opacity="0.15"/><path d="M1286.5 1902l9.9-0.2l13.9 0.7l9.9 1.4l3.1 2.4l-1 3.1l-4 2l-8.9 0.2l-12.1-0.7l-8.9-1.4l-4.1-2.4l-0.9-3.1z" fill-opacity="0.10"/><path d="M1466.1 1767.4l4.9-3.8l8.5-3.3l9-2.2l9.3-1l10 0.1l8.8 0.9l7.3 1.8l6.3 2.6l5.2 3.1l3.9 3.3l2.9 3.8l2.5 4.1l2.7 4.1l2.2 4.4l0.8 4.5l-1.7 5.1l-3.1 5.3l-2.7 4.5l-1.1 3.6l-0.7 2.8l-2 1.1l-4.1-1.2l-5.5-2.8l-5.4-3.5l-5.1-4.5l-5.1-5.2l-4.7-3.3l-4 0.3l-3.5 2.1l-3.8 1.3l-4.4-0.5l-4.5-1.3l-4.2-1.9l-3.4-2.5l-3-3.1l-3-3.7l-4.3-4.8l-4.3-5.4z" fill-opacity="0.70"/><path d="M1404.3 1730.1l40.7-4.8l55.9 1.4l40.1 3.4l9.2 5.2l-6.7 7.2l-8.1 6.3l-4.9 4.1l-6.4 3.1l-7.5 2.1l-8.8 0.3l-10-0.7l-9.3 0.4l-8.1 2.3l-7.6 3.4l-6.7 3.6l-5.4 3.8l-4.6 3.9l-5 3.5l-5.6 3.1l-6.1 2.6l-7.1 1.8l-9.7 2.6l-10.7 1.8l-7.6-4.4l-7.2-16.6l-4-22.8z" fill-opacity="0.25"/><path d="M1497.9 1795.4l3.6-2.5l3.6-1.6l4.1 0.4l4.7 3.4l5.1 5.2l5.1 4.4l5.4 2.3l5.5 1.5l4.1 1.8l1.8 2.8l0.6 3.2l1.4 3.4l3.1 3.6l3.9 3.8l4.2 3.8l4.3 3.6l4.5 3.6l4.3 4l3.9 4.7l3.8 5.2l3.6 5l4 4.3l4 4l2.3 4.7l-0.5 5.9l-2.2 6.4l-2 6.4l-1.1 6.6l-0.9 6.5l-1.8 5.6l-3 3.9l-3.9 2.9l-4.3 2.5l-4.6 2.3l-5 1.8l-5.4 1.5l-5.7 0.8l-6.1 0.4l-6.9 0.7l-8.4 1.3l-9.2 1.6l-8.6 0.8l-7.5-0.6l-6.9-1.3l-6.3-0.9l-5.4 0.4l-4.9 0.8l-4.6-0.3l-4.5-2.3l-4.4-3.4l-4.3-3.6l-4.7-3.5l-4.7-3.8l-3.7-3.9l-2.3-4.1l-1.3-4.3l-0.1-4.7l1.6-5.4l2.8-5.8l3.1-5.6l3-4.9l3.2-4.8l3.1-5.2l3.2-5.9l3.1-6.4l3.1-6.3l3.2-6.4l3.2-6.4l3-5.9l2.5-5.3l2.3-4.9l2.7-4.7l3.4-4.9l3.9-4.6z" fill-opacity="0.58"/><path d="M1469.8 1834.6l3.9-3.5l5.8-0.9l5.3 0.7l4.5 2.3l4.1 4l2.6 4.9l0.7 6l-0.7 7l-1.8 5.6l-3.1 3.9l-4.1 2.6l-4.1 1l-4.1-0.7l-4.1-2.4l-3-4.4l-2-8.1l-0.9-10.3z" fill-opacity="0.60"/><path d="M1509.2 1812.2l6.5-2.6l8.6-0.6l7.3 1.3l5 3.8l3.6 5.8l2.7 7.2l1.4 9.3l0.4 10.7l0 9.9l0.2 8.6l-0.3 7.8l-1.7 6l-4.1 3.6l-5.4 1.8l-5.5 0.2l-5.4-1.5l-5.4-3.1l-4.2-4.8l-2.1-7.1l-0.8-8.8l-0.8-8.3l-1.6-7.2l-1.5-6.8l-0.7-6.5l0-7l0.8-6.8z" fill-opacity="0.62"/><path d="M1533.5 1888.7l5.7-3.9l7.6-3l7.3-2.4l6.7-2.3l6.4-1.7l5.6 0.2l5 2.9l4.1 4.7l2.2 5.5l-0.2 6.7l-2.1 7.5l-3.3 6.3l-4.6 4.3l-5.8 3.1l-6.5 2l-7.6 1.1l-8.1 0.2l-6.8-1.3l-4.6-3.3l-3.1-4.7l-1.6-5.1l-0.4-5.6l1.1-6z" fill-opacity="0.60"/><path d="M1486.7 1913l4.8-2.3l7.4-1.3l6.5-0.2l5 1.6l4.2 2.9l2 3l-0.6 3.4l-2.8 3.6l-4 2.3l-6 0.6l-7.2-0.7l-5.6-1.7l-3.2-3.4l-1.5-4.3z" fill-opacity="0.60"/><path d="M1449.2 1879.4l4.5-4.3l6.4-2.6l6-0.6l5.2 2.1l4.9 4.1l3 5l0.4 6l-1.5 6.7l-2.7 6l-4.3 5.1l-5.5 4.3l-5.2 1.8l-4.4-1.7l-4-4.1l-2.8-5.4l-1.4-7.2l-0.3-8.5z" fill-opacity="0.40"/><path d="M1546.6 1834.6l5.8 0.8l8.6 4.6l8.1 5.8l6.8 6.9l6.2 8.2l3.9 7.3l0.8 6.3l-1.5 5.6l-3.1 3l-5.3-0.4l-7-2.9l-6.4-4.2l-5.2-5.2l-4.5-6.5l-3.4-6.9l-3-8.4l-1.8-8.9z" fill-opacity="0.45"/><path d="M1458.6 1799.1l3.1-2.9l4.2-1.3l3.9 0.5l3.6 3.1l3.3 4.9l2.5 5.1l1.5 4.9l0.7 5.2l-0.3 4.8l-1.7 4.1l-2.7 3.8l-3.1 3.3l-3.7 2.6l-4.1 2.2l-3.5 2.7l-2.2 3.6l-1.6 4l-1.8 3.6l-2.3 2.6l-2.5 2.2l-2.7 2.6l-3.2 3.4l-3.4 3.8l-2.8 4l-2 4.2l-1.4 4.5l-0.3 4.4l1.2 4.6l2.3 4.6l2.1 3.8l1.6 3.7l1.6 2.8l1.5-0.9l1.4-7.3l1.4-11.1l1.9-9.6l2.8-5.8l3.3-4.3l3.2-4.8l3.9-6.3l3.8-6.8l1.7-5.5l-1.9-3l-4.1-1.7l-3.4-2.8l-1.8-4.8l-1.3-5.9l-0.6-6.1l-0.1-6.6l0.4-6.9z" fill-opacity="0.79"/><path d="M1404.3 1782.4l7.6-3.6l10.7 3.6l9.7 3.7l7.5 1l6.4 1.1l4.9 3.5l3.1 7.5l1.7 9.8l0.8 8.8l0.3 6.7l-0.4 5.7l-1.8 4.4l-3.3 2.8l-4.6 1.6l-5.2 1.2l-5.8 1l-6.5 0.5l-6.4 0.4l-7 2.3l-6.9 2.2l-4.8-4.5l-2.5-17.9l-0.3-24.4z" fill-opacity="0.27"/></g><g id="dncfine" fill="#fff"><path d="M1106.5 1591.7l9.3 0.5l12.3 2l9.2 2.4l3 2.4l-0.2 2.7l0.6 3.2l2.9 4l3.6 4.5l2.6 4l1.3 2.9l0.3 2.4l-0.7 2.1l-2.3 1.9l-3.2 1.5l-2.9 1.6l-1.7 1.8l-1.4 1.8l-1.9 1.4l-2.7 1l-3.4 0.6l-3.9-0l-4.9-0.4l-5.6-1l-4.4-1.9l-2.3-3.2l-1.2-4.2l-1.5-4.2l-2.8-4.3l-3.2-4.4l-2.4-3.7l-1-2.8l-0.2-2.2l0.4-1.7l1.3-0.9l1.9-0.4l1.8-1.2l0.2-2.8l0-3.4z" fill-opacity="0.92"/><path d="M1112.4 1651.4l3.3-1.3l4.4-0l3.9 1.3l2.6 2.9l2 4.3l2.1 4.4l2.3 4.2l2.2 4.3l2.1 3.9l1.6 3.1l1.5 2.6l1.9 2.6l3 2.8l3.6 2.8l3.4 2.7l3.5 2.7l3.3 2.5l2.4 2.3l1.1 1.7l0.1 1.4l-1.2 1l-3 0.7l-4.3 0.3l-4.4-0.2l-4.6-0.7l-4.7-1.2l-3.2-2.2l0-3.8l1.5-4.7l0.2-4l-2.6-2.8l-4-2.1l-3.4-0.9l-2.3 1.1l-1.7 2.3l-1 2.4l0.5 2.4l1.3 2.5l-0.1 1.8l-2.7 0.5l-4.1-0.1l-4-0.4l-3.9-0.3l-3.9-0.4l-3.1-1l-1.8-1.6l-1.1-2.2l-0.4-2.8l0.2-4.2l0.8-4.9l1.5-3.3l3 0l3.7 1.6l2.5 0l0.1-3.1l-1.1-4.7l-0.7-4.6l-0.1-4.4l0.3-4.3z" fill-opacity="0.86"/><path d="M1112.4 1634.8l4.9-0.5l6.6 0.6l5.1 1.5l2.3 2.9l0.8 3.7l0.2 3.4l0.5 2.7l-0.1 2.4l-2 1.5l-5.5 0.3l-7.4-0.6l-5.4-1.3l-2-2.3l0-3l0.3-3l-0.3-3.2l0.2-3.1z" fill-opacity="0.58"/><path d="M1097.4 1657.2l13.3 0.8" fill="none" stroke="#fff" stroke-width="2.9" stroke-linecap="round" stroke-linejoin="round" stroke-opacity="0.84"/><path d="M1132.3 1663l2.2-1.6l3.8-1.2l4-0.5l4.3 0.3l4.4 0.9l3 1.2l0.9 1.6l-0.5 1.9l-2.1 1.5l-4.4 1.4l-5.8 1l-4.8 0.1l-2.9-1.7l-1.9-2.6z" fill-opacity="0.58"/><path d="M1159 1637.3l3.2-0.6l4.5-0.1l3.1 0.7l0.3 1.7l-1.2 2.4l-1.6 1.7l-2.1 0.3l-2.5-0.3l-2.1-0.9l-1.3-1.5l-0.9-2z" fill-opacity="0.64"/><path d="M1154 1667.1l3.4-4.3l4.9-2.7l5-0.4l5.6 2.6l5.8 4.8l3.6 5l0.2 4.4l-2 4.6l-3.2 4.3l-4.8 4.4l-6 4.1l-5 2.2l-3.4-0.3l-2.5-2.3l-1.6-4l-1.1-6.8l-0.2-8.6z" fill-opacity="0.18"/><path d="M1157.3 1662.1l2.9-1.5l4.2-1.4l2.9-0.4l0.5 1.7l-0.8 2.8l-1.4 2.2l-2 0.8l-2.6 0.3l-2-0.3l-1.4-1.1l-0.8-1.6z" fill-opacity="0.30"/><path d="M1132.3 1667.1l1.6-0.5l2 0.4l1.4 0.9l0.3 2.1l-0.4 2.7l-0.7 1.9l-1.3 0.5l-1.7-0.4l-1.2-0.9l-0.5-2.1l0-2.7z" fill-opacity="0.40"/><path d="M1133.2 1603.3l1.8-0.3l2.8 0.7l2 1.2l0.4 2.1l-0.5 2.7l-0.7 1.9l-1 0.5l-1.2-0.3l-1.1-1.1l-1.3-2.3l-1.1-3.1z" fill-opacity="0.30"/><path d="M1329.6 1935.6l4.1 0.6l6.3 2.9l6.4 2.1l6.3 0.2l6.4-0.7l6.1-1.3l5.4-2.9l5.1-3.4l4.4-1.2l4.4 2.8l3.8 5.1l1.2 5.2l-2.9 5l-5.4 5l-4.8 3l-2.6-0.7l-2.1-2.9l-2.8-2l-4.6 0.1l-5.4 0.9l-5 0.9l-4 0.9l-3.6 0.9l-3.6 0l-4.1-0.9l-4.1-1.8l-3.1-2.8l-2-5.1l-0.9-6.1z" fill-opacity="0.70"/><path d="M1380.1 1946.8l-5.6 16.8" fill="none" stroke="#fff" stroke-width="2.9" stroke-linecap="round" stroke-linejoin="round" stroke-opacity="0.56"/><path d="M1346.4 1958l-4.3 3.5l-5.9 5l-4.8 4.6l-2.5 3.2l-1.2 2.7l0 3.4l1.9 5.1l3.2 5.8l2.4 4" fill="none" stroke="#fff" stroke-width="4.3" stroke-linecap="round" stroke-linejoin="round" stroke-opacity="0.70"/><path d="M1376.4 1965.5l-1.5 5l-2 7l-2.1 6.6l-2.1 5.8l-2.1 5.4l-1.4 3.8" fill="none" stroke="#fff" stroke-width="3.6" stroke-linecap="round" stroke-linejoin="round" stroke-opacity="0.70"/><path d="M1335.2 1959.9l10.9-4l15.6 0.1l10.9 3.9l2.8 9.8l-1.8 13.5l-4.7 10.3l-9 4.9l-12 1.7l-9-2.9l-4.7-10.8l-1.8-15.3z" fill-opacity="0.08"/><path d="M1312.7 1969.2l2.6 0.1l4.6 2.3l4 3.2l2.3 4.2l1.7 5.3l1.7 5.4l1.8 5.8l1.8 5.9l2 5.1l2.1 4.1l2.3 3.3l3.1 2l4.7 0.5l5.5-0.7l4.8-1.7l2.7-3.6l2-4.6l2.8-3l5.1 0l6 1.7l3.8 2l0.5 2.2l-1.7 2.7l-2.5 2.6l-4.2 2.3l-5 2.4l-2 2.8l5.1 3.8l8 4.2l1.8 3l-10.9 1.4l-17.1 0.2l-13.2-1.6l-4.5-4.3l-0.5-6l-0.6-6.3l-1.8-6.3l-1.8-6.4l-2-6l-2.4-5.3l-2.5-4.9l-2.6-4.7l-3.2-5.2l-3.2-5z" fill-opacity="0.76"/><path d="M1330.8 2011.1l4.5-1.5l7.3-0.4l7-0.1l6.2-0.7l6-0.5l4.4 1.2l2.1 3.9l0.5 5.7l-0.5 4.9l-0.9 3.4l-1.9 2.8l-3.4 2.1l-6.5 1.6l-8.1 0.9l-6.3-0.5l-2.5-2.4l-0.7-3.9l-0.9-4l-2.9-4.4l-3.1-4.6z" fill-opacity="0.88"/><path d="M1366.2 2027.7l15.6 6.6" fill="none" stroke="#fff" stroke-width="2.9" stroke-linecap="round" stroke-linejoin="round" stroke-opacity="0.84"/><path d="M1366.2 2004.9l4.2-0.3l6 0.4l4.4 0.9l1.5 1.7l-0 2l-1.5 1.5l-3.6 0.6l-5 0.1l-3.9-0.7l-2.1-1.9l-0.9-2.5z" fill-opacity="0.40"/><path d="M1392.2 2007l3.2-0.7l4.4-0.1l2.8 0.8l0.1 2.2l-1.4 3l-1.8 2l-2 0.5l-2.4-0.5l-1.8-1l-1.2-1.9l-0.6-2.5z" fill-opacity="0.30"/><path d="M1295.5 1978l2.4-0.8l3.5-0.5l2.4 0.2l0.5 1.5l-0.5 2.1l-1.1 1.6l-1.8 0.5l-2.5 0l-1.9-0.5l-1.1-1.2l-0.5-1.6z" fill-opacity="0.40"/><path d="M1506.7 2032.9l11.5 12.4" fill="none" stroke="#fff" stroke-width="1.8" stroke-linecap="round" stroke-linejoin="round"/><path d="M1516.1 2043.3l6.2 6.2" fill="none" stroke="#fff" stroke-width="1.8" stroke-linecap="round" stroke-linejoin="round" stroke-opacity="0.84"/><path d="M1521.3 2047.4l15.6 17.6" fill="none" stroke="#fff" stroke-width="1.8" stroke-linecap="round" stroke-linejoin="round"/><path d="M1558.8 1924.2l2.7 3.4l3.8 5l3.8 4.6l3.5 4l3.5 3.7l2.4 2.6" fill="none" stroke="#fff" stroke-width="1.8" stroke-linecap="round" stroke-linejoin="round" stroke-opacity="0.84"/><path d="M1576.6 1944.7l13.1 15.8" fill="none" stroke="#fff" stroke-width="2.2" stroke-linecap="round" stroke-linejoin="round" stroke-opacity="0.84"/><path d="M1602.8 1974.5l15 14.8" fill="none" stroke="#fff" stroke-width="2.5" stroke-linecap="round" stroke-linejoin="round" stroke-opacity="0.98"/><path d="M1601.1 1975.3l29.7 27.8" fill="none" stroke="#fff" stroke-width="2.5" stroke-linecap="round" stroke-linejoin="round" stroke-opacity="0.98"/><path d="M1606.6 2012.4l4.2-0.5l5.9-0.3l4.8-1.1l2.2-2.9l1.2-3.8l2.2-2.5l4.4-0.3l5.5 1l5 1.1l4.4 0.8l4.1 1.1l2.7 1.8l0.9 3.3l-0.3 4.1l-1.4 3.7l-2.6 3.1l-3.6 2.6l-4.2 1.8l-4.9 0.8l-5.4 0l-4.6-0.8l-2.8-2.2l-2-2.9l-2.6-2.4l-4.4-0.9l-5.1-0.4l-3.6-0.5l-1.5-1.2l-0-1.3z" fill-opacity="0.86"/><path d="M1633.8 1988.3l-1.1 13" fill="none" stroke="#fff" stroke-width="2.2" stroke-linecap="round" stroke-linejoin="round" stroke-opacity="0.56"/><path d="M1679.6 1849.5l11.3 6.6" fill="none" stroke="#fff" stroke-width="1.8" stroke-linecap="round" stroke-linejoin="round" stroke-opacity="0.70"/><path d="M1692.7 1858.9l2.9 2.2l4.2 3.3l4.2 3.8l3.9 4.2l3.8 4.6l3.5 4.2l2.8 3.4l2.4 2.9l2.3 3.1l2.6 4l2.4 4.2l1.7 3" fill="none" stroke="#fff" stroke-width="2.2" stroke-linecap="round" stroke-linejoin="round" stroke-opacity="0.98"/><path d="M1716.4 1880.8l16.8 23" fill="none" stroke="#fff" stroke-width="2.5" stroke-linecap="round" stroke-linejoin="round"/><path d="M1619.2 1658.1l2.8 1.6l4.1 2.2l3.7 2.9l2.9 3.5l2.6 4.2l2.5 4.2l2.6 3.8l2.7 3.9l2.7 4.2l3.4 5.6l3.5 6.1l2.4 4.3" fill="none" stroke="#fff" stroke-width="4.3" stroke-linecap="round" stroke-linejoin="round" stroke-opacity="0.98"/><path d="M1635.2 1684.7l2.8 4.3l4 6.1l3.8 5.5l3.1 3.9l3 3.4l3.2 3.3l3.8 3.5l4 3.6l4.2 3.5l4.4 3.7l4.5 3.6l4.5 3.3l4.9 3.2l4.9 2.8l3.5 2" fill="none" stroke="#fff" stroke-width="3.6" stroke-linecap="round" stroke-linejoin="round" stroke-opacity="0.56"/><path d="M1635.2 1684.7l3.1 1.8l5 5.4l5.2 6l5 6l5.3 6.6l5.7 6l6.3 5l6.6 4.4l5.7 3.9l5 3.2l4 2.7l1.7 2l-1.7 1.5l-4 0.9l-5 0.3l-5.7-0.4l-6.6-1l-6.3-1.3l-5.8-2.1l-5.6-2.5l-4.6-0.7l-3.4 3l-2.4 4.7l-2.2 2.9l-2.6-0.2l-2.2-1.9l-0.5-3.2l3-4.4l4.9-5.6l2.7-5.9l-1.5-6l-3.5-6.3l-3-6.3l-1.8-7.3l-1.3-7.4z" fill-opacity="0.22"/><path d="M1619.2 1674l-0.8 2.9l-1.1 3.9l-0.8 3.9l-0.2 3.5l0.1 3.4l0.1 2.4" fill="none" stroke="#fff" stroke-width="3.6" stroke-linecap="round" stroke-linejoin="round" stroke-opacity="0.70"/><path d="M1589.9 1668.7l10.4-1.2l16.1 0.5l13.4 3.4l8 8.5l5.4 11.5l2.6 9.2l-0.4 4.9l-3 2.6l-4.6 0.4l-6.3-1.9l-7.8-4l-7.2-4.7l-5.9-5l-5.3-5.6l-4.8-5.3l-5.8-5.2l-5.2-4.9z" fill-opacity="0.08"/><path d="M1645.8 1743l2.1-2.7l4.1-3.1l4.5-2.1l4.2-0.3l4.6 0.7l4.5 0.9l4.5 0.8l4.5 1l4.3 0.9l4.5 0.4l4.2 0.3l2.6 0.6l0.5 1.3l-1.2 1.5l-2.6 1.2l-4.6 0.2l-6-0.3l-5.4 0.1l-3.9 0.8l-3.4 1l-3.3 0.8l-3.7 0.4l-3.6-0l-3.4-0.4l-3.5-0.9l-3.3-1.3z" fill-opacity="0.76"/><path d="M1649.8 1727.1l-1.7 2.9l-2.4 4l-2.5 3.7l-2.9 3.2l-3 2.8l-2.1 2" fill="none" stroke="#fff" stroke-width="2.9" stroke-linecap="round" stroke-linejoin="round" stroke-opacity="0.49"/><path d="M1616.5 1764.3l0.7-0.9l1.6-0.4l1.7-0.1l1.2 0.6l1.3 0.9l1.5 0.5l2.5-0.7l2.7-1.1l1.5-0.2l-1 1.8l-2.2 2.8l-2.2 2.1l-1.3 0.9l-1.3 0.2l-1.4-0.5l-2-1.6l-2.1-2.4z" fill-opacity="0.82"/><path d="M1604.5 1762.9l2.8-5l5.7-5.3l6.2-4.2l6.3-3l6.8-1.9l5.5-0.5l4.5 1.6l3.2 3.1l0.3 3.3l-4.5 3.2l-7.5 3.6l-6.6 3.8l-4.1 5.2l-3.2 5.4l-3.4 2.7l-4.9-2l-5-4.8z" fill-opacity="0.10"/><path d="M1696.4 1754.3l1.4 2.3l2 3.3l2 3l1.9 2.8l2 2.7l1.4 1.8" fill="none" stroke="#fff" stroke-width="2.2" stroke-linecap="round" stroke-linejoin="round" stroke-opacity="0.56"/><path d="M1726.4 1796.1l1.8 0l2.5 0.6l1.7 0.7l0.2 1.1l-0.6 1.4l-0.9 0.9l-1.5 0.2l-1.9-0.3l-1.3-0.6l-0.6-1.3l-0-1.6z" fill-opacity="0.76"/><path d="M1783 1703.9l6.7 0.3" fill="none" stroke="#fff" stroke-width="2.2" stroke-linecap="round" stroke-linejoin="round" stroke-opacity="0.84"/><path d="M1568.2 1553.4l2.1 2.5l3.1 3.6l3.1 3.8l3.1 4.4l3.1 4.7l2.1 3.4" fill="none" stroke="#fff" stroke-width="3.6" stroke-linecap="round" stroke-linejoin="round" stroke-opacity="0.98"/><path d="M1557.3 1502l10.9 8.3" fill="none" stroke="#fff" stroke-width="2.9" stroke-linecap="round" stroke-linejoin="round" stroke-opacity="0.70"/><path d="M1329.2 1423.6l3 0.7l4.3 0.9l4.2 0.9l3.9 0.6l3.8 0.5l2.7 0.3" fill="none" stroke="#fff" stroke-width="2.5" stroke-linecap="round" stroke-linejoin="round" stroke-opacity="0.98"/><path d="M1251.6 1748.2l3.8 5.6" fill="none" stroke="#fff" stroke-width="2.2" stroke-linecap="round" stroke-linejoin="round" stroke-opacity="0.84"/><path d="M1367.7 1697.7l5.2 8.3" fill="none" stroke="#fff" stroke-width="2.9" stroke-linecap="round" stroke-linejoin="round" stroke-opacity="0.70"/></g><filter id="fc0m" filterUnits="userSpaceOnUse" x="1223" y="1388" width="442" height="563" color-interpolation-filters="sRGB"><feGaussianBlur in="SourceGraphic" stdDeviation="2.2" result="b"/><feColorMatrix in="b" type="matrix" values="0 0 0 0 0 0 0 0 0 0 0 0 0 0 0 0 0 0 1 0"/><feComponentTransfer><feFuncA type="table" tableValues="0 0.072 0.142 0.212 0.282 0.35 0.418 0.484 0.549 0.614 0.676 0.738 0.797 0.854 0.908 0.959 1"/></feComponentTransfer><feColorMatrix type="matrix" values="0 0 0 0 0 0 0 0 0 0 0 0 0 0 0 0 0 0 1 0" result="ba"/><feTurbulence type="fractalNoise" baseFrequency="0.45" numOctaves="1" seed="11"/><feColorMatrix type="matrix" values="0 0 0 0 0 0 0 0 0 0 0 0 0 0 0 1 0 0 0 0"/><feComponentTransfer result="m"><feFuncA type="table" tableValues="0 0 0 0 0 0 0 .001 .004 .016 .042 .08 .13 .194 .278 .387 .495 .616 .723 .804 .866 .917 .958 .984 .996 .999 1 1 1 1 1 1 1"/></feComponentTransfer><feComposite in="ba" in2="m" operator="arithmetic" k1="0" k2="6" k3="5" k4="-5" result="t"/><feFlood flood-color="#fff"/><feComposite in2="t" operator="in"/></filter><filter id="fc0f" filterUnits="userSpaceOnUse" x="1076" y="1402" width="717" height="686" color-interpolation-filters="sRGB"><feGaussianBlur in="SourceGraphic" stdDeviation="1.0" result="b"/><feColorMatrix in="b" type="matrix" values="0 0 0 0 0 0 0 0 0 0 0 0 0 0 0 0 0 0 1 0"/><feComponentTransfer><feFuncA type="table" tableValues="0 0.072 0.142 0.212 0.282 0.35 0.418 0.484 0.549 0.614 0.676 0.738 0.797 0.854 0.908 0.959 1"/></feComponentTransfer><feColorMatrix type="matrix" values="0 0 0 0 0 0 0 0 0 0 0 0 0 0 0 0 0 0 1 0" result="ba"/><feTurbulence type="fractalNoise" baseFrequency="0.45" numOctaves="1" seed="14"/><feColorMatrix type="matrix" values="0 0 0 0 0 0 0 0 0 0 0 0 0 0 0 1 0 0 0 0"/><feComponentTransfer result="m"><feFuncA type="table" tableValues="0 0 0 0 0 0 0 .001 .004 .016 .042 .08 .13 .194 .278 .387 .495 .616 .723 .804 .866 .917 .958 .984 .996 .999 1 1 1 1 1 1 1"/></feComponentTransfer><feComposite in="ba" in2="m" operator="arithmetic" k1="0" k2="6" k3="5" k4="-5" result="t"/><feFlood flood-color="#fff"/><feComposite in2="t" operator="in"/></filter><mask id="mkc0" maskUnits="userSpaceOnUse" x="1075.5" y="1350.4" width="716.0" height="768.0"><g filter="url(#fc0m)"><use href="#dncmain"/></g><g filter="url(#fc0f)"><use href="#dncfine"/></g></mask><filter id="fc1m" filterUnits="userSpaceOnUse" x="1223" y="1388" width="442" height="563" color-interpolation-filters="sRGB"><feGaussianBlur in="SourceGraphic" stdDeviation="2.2" result="b"/><feColorMatrix in="b" type="matrix" values="0 0 0 0 0 0 0 0 0 0 0 0 0 0 0 0 0 0 1 0"/><feComponentTransfer><feFuncA type="table" tableValues="0 0.021 0.043 0.064 0.085 0.105 0.125 0.145 0.165 0.184 0.203 0.221 0.239 0.256 0.273 0.288 0.3"/></feComponentTransfer><feColorMatrix type="matrix" values="0 0 0 0 0 0 0 0 0 0 0 0 0 0 0 0 0 0 1 0" result="ba"/><feTurbulence type="fractalNoise" baseFrequency="0.45" numOctaves="1" seed="29"/><feColorMatrix type="matrix" values="0 0 0 0 0 0 0 0 0 0 0 0 0 0 0 1 0 0 0 0"/><feComponentTransfer result="m"><feFuncA type="table" tableValues="0 0 0 0 0 0 0 .001 .004 .016 .042 .08 .13 .194 .278 .387 .495 .616 .723 .804 .866 .917 .958 .984 .996 .999 1 1 1 1 1 1 1"/></feComponentTransfer><feComposite in="ba" in2="m" operator="arithmetic" k1="0" k2="6" k3="5" k4="-5" result="t"/><feFlood flood-color="#fff"/><feComposite in2="t" operator="in"/></filter><filter id="fc1f" filterUnits="userSpaceOnUse" x="1076" y="1402" width="717" height="686" color-interpolation-filters="sRGB"><feGaussianBlur in="SourceGraphic" stdDeviation="1.0" result="b"/><feColorMatrix in="b" type="matrix" values="0 0 0 0 0 0 0 0 0 0 0 0 0 0 0 0 0 0 1 0"/><feComponentTransfer><feFuncA type="table" tableValues="0 0.021 0.043 0.064 0.085 0.105 0.125 0.145 0.165 0.184 0.203 0.221 0.239 0.256 0.273 0.288 0.3"/></feComponentTransfer><feColorMatrix type="matrix" values="0 0 0 0 0 0 0 0 0 0 0 0 0 0 0 0 0 0 1 0" result="ba"/><feTurbulence type="fractalNoise" baseFrequency="0.45" numOctaves="1" seed="32"/><feColorMatrix type="matrix" values="0 0 0 0 0 0 0 0 0 0 0 0 0 0 0 1 0 0 0 0"/><feComponentTransfer result="m"><feFuncA type="table" tableValues="0 0 0 0 0 0 0 .001 .004 .016 .042 .08 .13 .194 .278 .387 .495 .616 .723 .804 .866 .917 .958 .984 .996 .999 1 1 1 1 1 1 1"/></feComponentTransfer><feComposite in="ba" in2="m" operator="arithmetic" k1="0" k2="6" k3="5" k4="-5" result="t"/><feFlood flood-color="#fff"/><feComposite in2="t" operator="in"/></filter><mask id="mkc1" maskUnits="userSpaceOnUse" x="1075.5" y="1350.4" width="716.0" height="768.0"><g filter="url(#fc1m)"><use href="#dncmain"/></g><g filter="url(#fc1f)"><use href="#dncfine"/></g></mask><filter id="fc2m" filterUnits="userSpaceOnUse" x="1223" y="1388" width="442" height="563" color-interpolation-filters="sRGB"><feGaussianBlur in="SourceGraphic" stdDeviation="2.2" result="b"/><feColorMatrix in="b" type="matrix" values="0 0 0 0 0 0 0 0 0 0 0 0 0 0 0 0 0 0 1 0"/><feComponentTransfer><feFuncA type="table" tableValues="0 0.011 0.023 0.034 0.045 0.056 0.067 0.077 0.088 0.098 0.108 0.118 0.128 0.137 0.145 0.153 0.16"/></feComponentTransfer><feColorMatrix type="matrix" values="0 0 0 0 0 0 0 0 0 0 0 0 0 0 0 0 0 0 1 0" result="ba"/><feTurbulence type="fractalNoise" baseFrequency="0.45" numOctaves="1" seed="47"/><feColorMatrix type="matrix" values="0 0 0 0 0 0 0 0 0 0 0 0 0 0 0 1 0 0 0 0"/><feComponentTransfer result="m"><feFuncA type="table" tableValues="0 0 0 0 0 0 0 .001 .004 .016 .042 .08 .13 .194 .278 .387 .495 .616 .723 .804 .866 .917 .958 .984 .996 .999 1 1 1 1 1 1 1"/></feComponentTransfer><feComposite in="ba" in2="m" operator="arithmetic" k1="0" k2="6" k3="5" k4="-5" result="t"/><feFlood flood-color="#fff"/><feComposite in2="t" operator="in"/></filter><filter id="fc2f" filterUnits="userSpaceOnUse" x="1076" y="1402" width="717" height="686" color-interpolation-filters="sRGB"><feGaussianBlur in="SourceGraphic" stdDeviation="1.0" result="b"/><feColorMatrix in="b" type="matrix" values="0 0 0 0 0 0 0 0 0 0 0 0 0 0 0 0 0 0 1 0"/><feComponentTransfer><feFuncA type="table" tableValues="0 0.011 0.023 0.034 0.045 0.056 0.067 0.077 0.088 0.098 0.108 0.118 0.128 0.137 0.145 0.153 0.16"/></feComponentTransfer><feColorMatrix type="matrix" values="0 0 0 0 0 0 0 0 0 0 0 0 0 0 0 0 0 0 1 0" result="ba"/><feTurbulence type="fractalNoise" baseFrequency="0.45" numOctaves="1" seed="50"/><feColorMatrix type="matrix" values="0 0 0 0 0 0 0 0 0 0 0 0 0 0 0 1 0 0 0 0"/><feComponentTransfer result="m"><feFuncA type="table" tableValues="0 0 0 0 0 0 0 .001 .004 .016 .042 .08 .13 .194 .278 .387 .495 .616 .723 .804 .866 .917 .958 .984 .996 .999 1 1 1 1 1 1 1"/></feComponentTransfer><feComposite in="ba" in2="m" operator="arithmetic" k1="0" k2="6" k3="5" k4="-5" result="t"/><feFlood flood-color="#fff"/><feComposite in2="t" operator="in"/></filter><mask id="mkc2" maskUnits="userSpaceOnUse" x="1075.5" y="1350.4" width="716.0" height="768.0"><g filter="url(#fc2m)"><use href="#dncmain"/></g><g filter="url(#fc2f)"><use href="#dncfine"/></g></mask><filter id="cbc" filterUnits="userSpaceOnUse" x="1075.5" y="1350.4" width="716.0" height="768.0" color-interpolation-filters="sRGB"><feGaussianBlur stdDeviation="4"/></filter><filter id="sfc" filterUnits="userSpaceOnUse" x="1075.5" y="1350.4" width="716.0" height="768.0"><feGaussianBlur stdDeviation="0.45"/></filter></defs>
<rect width="1794" height="2228" fill="#fff"/>
<rect x="422.2" y="13.8" width="991.8" height="1066.2" fill="#fff"/><g fill="none"><path d="M513.5 13.8V1080.0" stroke="#f0f0f0" stroke-width="2.0"/><path d="M620.7 13.8V1080.0" stroke="#fafafa" stroke-width="2.0"/><path d="M727.9 13.8V1080.0" stroke="#f0f0f0" stroke-width="2.0"/><path d="M835.0 13.8V1080.0" stroke="#fafafa" stroke-width="2.0"/><path d="M942.2 13.8V1080.0" stroke="#f0f0f0" stroke-width="2.0"/><path d="M1049.4 13.8V1080.0" stroke="#fafafa" stroke-width="2.0"/><path d="M1156.5 13.8V1080.0" stroke="#f0f0f0" stroke-width="2.0"/><path d="M1263.7 13.8V1080.0" stroke="#fafafa" stroke-width="2.0"/><path d="M1370.9 13.8V1080.0" stroke="#f0f0f0" stroke-width="2.0"/><path d="M422.2 971.1H1414.0" stroke="#fafafa" stroke-width="2.0"/><path d="M422.2 800.2H1414.0" stroke="#f0f0f0" stroke-width="2.0"/><path d="M422.2 629.2H1414.0" stroke="#fafafa" stroke-width="2.0"/><path d="M422.2 458.3H1414.0" stroke="#f0f0f0" stroke-width="2.0"/><path d="M422.2 287.4H1414.0" stroke="#fafafa" stroke-width="2.0"/><path d="M422.2 116.4H1414.0" stroke="#f0f0f0" stroke-width="2.0"/></g>
<g clip-path="url(#cpa)"><g filter="url(#fa0)"><path d="M927.4 126.2l5.2-7.7l7-6.7l7.9-5.7l8.9-5l9.8-4l10.1-2l10.2 1l10.4 3l11.1 3.5l12.8 3.6l13.4 4.1l11.3 5l8.3 6.3l6.2 7.2l4.2 7.5l1.8 8.2l-0.2 8.6l-1.6 7.7l-2.8 6.6l-4.2 5.8l-6 4.9l-8.4 3.7l-10.2 2.8l-10.2 2.1l-9.6 1.5l-9.6 0.8l-9.6 0.6l-9.7 1l-9.7 0.9l-9.4-0.5l-9.2-1.9l-8.9-3.2l-7.8-4.9l-6.8-7.4l-5.6-9.1l-3.4-9.5l-0.7-9.7l1.6-10z" fill="#fa7b73"/><path d="M923.1 146.4l4 7.7l5.3 14.8l6.5 12.1l8.3 4.8l9.5 2.2l8.1 3l6.4 5.5l5.1 6.4l2.9 6.9l-0.2 7.3l-2.5 7.9l-3 7.8l-3.5 7.7l-4 7.7l-4.1 7.7l-4 7.4l-4.1 7.5l-3.4 8.1l-2.4 9.2l-1.9 9.8l-1.4 9.8l-1.2 9.7l-0.9 9.7l-0.8 9.4l-0.7 9l-0.6 8.6l-1.6 8.3l-2.9 8.1l-3.8 7.8l-4.8 7.2l-6 6.3l-6.9 5.6l-7.3 5.3l-7.6 4.8l-7.9 4.5l-7.5 5.1l-7.1 6.2l-6.7 6.9l-6.4 7.1l-4.5 8.2l-4.1 8.6l-8.7 6l-17.9 2.4l-22.4-0.1l-17.3-2.3l-7.9-5.6l-2.9-7.7l-1.3-6.6l-0.9-3.6l0.6-2.4l2.3-4.1l4.6-6.9l6.3-8.6l6.4-9l6.1-9.5l6.2-9.9l6.4-9.4l6.7-7.7l6.7-7l6.8-8.3l6.9-10.7l7-11.9l6.3-12l5.2-11.4l4.5-11.4l4.7-11.7l4.6-12.3l4.8-12.6l5.5-12.6l7.4-12.6l8.2-12.6l6.9-12.2l4.9-12l3.7-11.6l2.9-11l1.6-12.4l0.7-11.7z" fill="#fa7b73"/><path d="M923.1 146.4l0.4 5.1l-2 11.5l-2.8 12.2l-2.9 11l-3.7 11.6l-4.9 12l-6.9 12.2l-8.2 12.6l-7.4 12.6l-5.5 12.6l-4.8 12.6l-4.6 12.3l-4.7 11.7l-4.5 11.4l-5.2 11.4l-6.3 12l-7 11.9l-6.9 10.7l-7.4 9.4l-7.4 8.1l-5.4 5.5l-2.5 2.6l-0.5 0l1.6-2.6l4.6-5.5l6.7-8.1l6-9.4l4.3-10.7l3.6-11.9l3.6-12l3.6-11.4l3.7-11.4l4.2-11.7l5.4-12.3l5.9-12.6l6-12.6l5.8-12.6l5.7-12.6l5.8-12.2l5.8-12l5.7-11.6l5.8-11l6.5-12.2l6.6-11.5z" fill="#fa7b73" fill-opacity="0.60"/><path d="M973.5 232.8l6.6-5.1l7.9-3.8l8.5-2.6l9.5-1.2l10.1 0.1l9.2 1.1l8 1.9l7 2.9l5.2 3.8l2.7 5l0.9 6l-0.8 6.3l-2.3 6.8l-4 7.2l-5.2 6.2l-6.8 4.6l-8.1 3.6l-8.1 3.3l-7.7 3.3l-7.7 3l-7.7 2.3l-8.1 2.2l-8.1 1.5l-6.8-0.8l-5.3-4.3l-4.1-6.5l-2.1-6.5l0.4-5.5l2.3-5.6l3-6.1l3-7.7l3.6-8.3z" fill="#fa7b73" fill-opacity="0.90"/><path d="M964.8 191l6.4-1.7l11.2 0.3l11.2-0l9.6-0.6l9.6-0.8l9.6-1.5l10.3-2.4l10.2-3.1l8.3-3.1l5.6-4.3l3.7-4.2l2.2-0.2l0.7 6.7l-0.7 10.7l-1.4 11.4l-2 11.9l-2.7 12.5l-2.5 10.2l-2.1 7.5l-2 5.2l-1.7 1.7l-0.5-3.7l-0.2-7.3l-2.1-6.3l-5.2-3.8l-7-2.9l-8-1.9l-9.2-1.1l-10.1-0.1l-9.5 1.2l-9.2 4.3l-8.5 5.5l-5.3 1.7l0.5-5.3l3.7-9.1l1.5-8.6l-4.9-7.2l-7.1-6.8z" fill="#fa7b73" fill-opacity="0.72"/><path d="M950.4 278.9l4.7 1.4l6 5.8l6.6 4.3l7.2 0.3l7.9-1.2l7.9-2l8.8-3.6l8.7-4.3l5.6-0.7l0.5 5.5l-2.7 9.1l-3.6 8.4l-4.1 6.2l-5.2 5.6l-5.1 5.5l-5 5.6l-5 5.5l-4.4 6.2l-3.2 7.3l-2.5 7.8l-2.9 7.9l-3.5 7.9l-3.9 7.9l-4.1 7.3l-4.5 7.3l-4.8 6.8l-5.1 3.2l-6.7-2.2l-6.9-5.6l-3.7-6.6l2-7l5.2-7.9l4.3-8.2l1.6-8.3l0.6-8.6l0.7-9l0.8-9.4l0.9-9.7l1.2-9.7l1.2-11.1l1.6-11.1z" fill="#fa7b73" fill-opacity="0.68"/><path d="M824.8 300l29.4-3.8l40.6 0.4l31.1 3.4l12 6.7l2.4 9.6l1.2 9.6l2.4 8.7l1.2 8.6l0.2 8.6l-0.3 8.9l-1.3 8.8l-2.2 8.3l-3.5 7.5l-4.5 7.1l-5 6.1l-5.8 4.7l-6.3 3.8l-6.1 4.5l-5.4 5.7l-5.2 6.4l-4.9 6l-4.5 5.4l-4.2 5.1l-4.3 5.1l-4.2 5l-4.2 5.1l-4.5 5.4l-5 6.2l-5.3 6.5l-5.3 5.5l-5.1 4.3l-5.1 3.4l-5.3 1.3l-5.8-1.3l-6-3.4l-6.4-4.3l-6.8-5.5l-7.1-6.5l-6.8-6.2l-6.8-5.4l-6.5-5.1l-4.9-5l-2.9-5.1l-1.3-5.1l0.3-5.4l2.5-5.7l4.3-5.9l4.9-6.5l5.8-7.4l6.5-8l5.9-8l5-7.6l4.4-7.7l3.5-8l2.5-8l1.6-8.2l1.1-9.7l-3.4-13.5l-3.9-14.8z" fill="#fa7b73"/><path d="M925.9 300l27-2.9l39.1 0l27.2 2.9l3.6 6.7l-8.3 9.6l-8.2 9.6l-4.4 8.7l-4.3 8.6l-4.3 8.6l-4.3 9.1l-4.3 9l-4.4 7.9l-4 6.2l-4 5.1l-4.9 4.2l-6.9 4.3l-7.8 3.5l-6.1-0l-3.2-5.4l-1.5-8.8l-0.4-9.1l0.9-8.5l1.9-8.7l1-8.8l-0.2-8.6l-1.2-8.6l-2.4-8.7l-8.4-9.6l-9.6-9.6z" fill="#fa7b73" fill-opacity="0.62"/><path d="M904.3 157.9l6.6-9.5l6-7.5l4.7-6l3.2-5.3l1.8-3.8l0.8 0.4l-0.2 7.2l-1.4 11.3l-2.7 10.3l-4.8 6.9l-6.3 5.8l-6.2 7.5l-5.8 10.4l-5.7 11.9l-5.8 12.3l-5.8 12.2l-5.7 12.6l-5.8 12.6l-6 12.6l-5.9 12.6l-5.4 12.3l-4.2 11.7l-3.7 11.4l-3.6 11.4l-3.9 13l-3.9 13l-3.7 8.6l-4.4 2.1l-4.2-2.3l-1.5-5.6l3-9.2l5.7-12.3l5.7-13l4.8-13.5l4.8-14.1l4.8-12.8l4.7-9.8l4.7-8.5l5-10.5l5.3-14.3l5.7-16.2l6.3-15.6l7.5-14.5l8.1-13.8z" fill="#fa7b73" fill-opacity="0.22"/><path d="M1065.6 175.2l1.1 7l1.5 10.3l1.7 11.5l1.5 13l1.6 14.3l2.7 13l4.5 10.8l5.6 9.5l5.7 8.5l5.6 6.9l5.7 5.8l6 7.5l6.7 10.4l7 12.1l6.5 12.1l6.1 11.4l5.7 11.4l4 11.7l1.1 12.9l-0.5 13.3l0.9 11.3l3.4 7.9l4.8 5.9l6.2 6.3l8.1 7.7l9.4 8l8.4 7.4l7 6.7l6.1 6.1l4.2 4.2" fill="none" stroke="#fa7b73" stroke-width="7.0" stroke-linecap="round" stroke-linejoin="round" stroke-opacity="0.77"/><path d="M1051.2 178.1l2.5-4.9l6.2-3l5.7 5l3.5 19.2l3 27.2l3.6 22.7l4.8 12.9l5.4 8.5l5.6 7.4l6.9 7.6l7 6.6l3.4 6l-1.9 6.2l-5.4 5.5l-7.1 2.7l-9-1.7l-10.7-4.6l-9.1-5.2l-6.3-4.8l-4.7-5.5l-3.4-7l-2.8-10.1l-1.6-11.8l1.5-9.8l7.2-5.3l10.2-3.4l7.1-5.7l1.7-10.5l-1.4-12.9l-3.2-11.2l-6.3-8.4l-8-6.8z" fill="#fa7b73" fill-opacity="0.30"/><path d="M1013.8 278.9l6.7-5.6l8.6-4.2l7.7-1.7l5.5 1.9l4.4 4.5l4.5 5.1l5.9 5.1l5.9 5.8l2.6 6.4l-2.4 7.4l-5.7 8.1l-6.3 7.5l-6.2 6.4l-6.8 5.8l-7.1 5.1l-7.8 5.8l-8.1 5.1l-7.2 0.6l-6.5-7l-5.5-11.5l-2.4-10.3l3-6.4l6.2-5.1l5.2-5.8l1.9-7.6l1-8.4z" fill="#fa7b73" fill-opacity="0.15"/><path d="M941.5 377.8l6.3-8.5l9.8-8.7l9.8-8.8l8.6-9l8.7-9l8.6-7.9l8.8-7.1l8.9-5.9l8.2-2.5l8.8 2.3l8.3 5.7l3.7 7.5l-3.7 9.6l-8.3 11.4l-8.8 10.1l-8.2 7.7l-8.9 6.5l-8.8 6.6l-8.8 7.5l-8.9 7.6l-8.2 5.6l-7.9 3.2l-7.3 1.1l-5.6-1.7l-4-5.8l-2.3-8.6z" fill="#fa7b73" fill-opacity="0.42"/></g><g filter="url(#fa1)"><path d="M1013.8 278.9l6.7-5.6l8.6-4.2l7.7-1.7l5.5 1.9l4.4 4.5l4.5 5.1l5.9 5.1l5.9 5.8l2.6 6.4l-2.4 7.4l-5.7 8.1l-6.3 7.5l-6.2 6.4l-6.8 5.8l-7.1 5.1l-7.8 5.8l-8.1 5.1l-7.2 0.6l-6.5-7l-5.5-11.5l-2.4-10.3l3-6.4l6.2-5.1l5.2-5.8l1.9-7.6l1-8.4z" fill="#7b9bd6" fill-opacity="0.10"/><path d="M993.3 403.7l9.9-5.8l10.2-9.8l8.4-10.3l5.7-10.3l3.9-10.9l3.4-9.9l2.2-9l1.6-8l3.9-6.4l7.6-4.2l9.9-2.5l11.1-1l12.6 0.2l13.9 1.8l12.3 3.1l10.2 4.8l8.8 6.3l7 7.1l5.1 8l3.5 9l1.7 8.9l-0.3 8.8l-2 8.9l-2.9 8.2l-3.5 7.2l-4.4 6.7l-5 6.9l-5.9 7.6l-6.4 8l-5.9 7.7l-5 6.9l-4.6 6.6l-3.3 7.2l-1.5 8.3l-0.2 8.8l-0.9 8.9l-1.9 8.6l-2.5 8.6l-3.4 8.7l-4.2 9.1l-5.1 9.1l-6.2 7.7l-7.4 5.5l-8.6 4l-10 3.5l-12 3.4l-13.4 2.9l-13.4 1.4l-13-0.5l-13-2.1l-12.9-2.6l-13.4-2.7l-13.3-3.4l-12.2-4.2l-10.7-5.5l-9.5-6.3l-8.3-6.4l-6.8-6.1l-5.7-6.2l-5.7-5.8l-6.5-5.6l-6.5-5.3l-5.1-4.7l-3.6-3.4l-2.1-2.9l0.5-4l4.2-6.2l6.8-7.3l7.1-7.3l6.7-6.9l6.9-6.9l7.2-6.9l7.3-7.3l7.6-7.3l8.4-6.1l10.4-4.3l11.2-3l9.5-3.1l6-4.2l4.2-4.3l5.4-1.9l7.7 3.3l9 5.6z" fill="#7b9bd6" fill-opacity="0.42"/><path d="M915.5 419.2l7.8-9.9l14.7-11.5l13.8-9.7l10.2-6.6l9.3-4.9l9-4l8.9-3.6l8.5-2.7l8.6-1.5l9.1-0.4l9.1 0.8l7.7 2.2l6.7 4.1l5.3 5.6l0.9 5.8l-5.7 6.2l-10.1 6.4l-10.1 5.6l-8.6 3.9l-8.7 3.1l-8.6 3.4l-8.6 4.1l-8.7 4.4l-8.6 4.4l-8.7 5.5l-8.6 5.5l-8.6 2l-11-3.3l-10.9-6.7z" fill="#7b9bd6" fill-opacity="0.62"/><path d="M1058.1 328.5l8.3-3.9l10.8-1.9l9.4 0.6l6.6 3.9l5.2 6.4l3.8 7.9l2.2 9.4l0.7 10.8l-0.3 10.9l-1.7 10.9l-2.8 11l-3.3 9.2l-3.8 7.3l-4.3 5.6l-4.9 2.6l-6-0.7l-6.7-3.7l-5.4-5.9l-3.5-9.1l-2.3-11.3l-2-10.7l-2.3-9.2l-2-8.5l-0.9-8.3l0.1-8.6l1.3-8.3z" fill="#7b9bd6" fill-opacity="0.30"/><path d="M920.7 424.4l6.8-6.3l9.2-5.2l9.9-4l11-3.2l11.8-2l10.9 0l9.3 3l8.3 5l8.4 4.9l8.6 4.3l8.6 4.2l8.7 4.5l8.8 4.8l8.8 5.1l8.3 5.7l7.8 6.3l7.2 6.9l5.7 7.5l4.3 8.4l2.7 8.9l0.8 8.6l-1.8 8.3l-3.9 7.9l-4.7 7.1l-5.1 6.1l-6.1 5.2l-6.9 4.3l-8.1 3.2l-8.9 2.3l-8.9 2.3l-8.7 3.1l-8.6 3l-8.6 1.7l-8.7-0.7l-8.6-2.1l-8.7-2.4l-8.6-2.5l-8.6-2.8l-8.7-2.5l-8.8-1.6l-8.9-1.4l-8.2-2.2l-7.7-3.5l-7.1-4.5l-5.9-5l-4.9-5.5l-3.8-6.2l-1.7-6.4l1.1-6.5l3.2-6.8l3.5-7.4l3.4-8.3l3.8-8.8l3.1-8.9l1.4-9l0.7-9z" fill="#7b9bd6" fill-opacity="0.80"/></g><g filter="url(#fa2)"><path d="M894.8 429.6l11.2-11.6l12.1-11.6l10.4-7.9l7.1-1.2l5.4 2.5l5.6 1.3l7-1.5l7.3-2.7l6.5-3.6l4.9-5.6l4-6.4l4-3.5l5.6 0.9l5.6 3.9l1.8 5.5l-4.2 8.1l-8 9.8l-8.5 8.1l-8.5 4.2l-9 2.5l-8.5 3.6l-7.5 6.2l-6.9 7.3l-6.3 7.3l-5.2 7.1l-4.6 7.1l-5.8 6.5l-8.2 6.9l-9.4 6.3l-8.3 2.4l-7.5-3.9l-6.3-7.9l-1.7-9l5.3-9.6l9.8-10.7z" fill="#fa7b73" fill-opacity="0.42"/></g><g filter="url(#fa3)"><path d="M889.6 398.5l4.4-2.2l6-1.1l5.2 0.7l3.5 3.2l2.7 4.9l1.5 4.9l0.4 4.8l-0.7 4.8l-2.3 3.3l-4.5 1.4l-6-0.1l-5-1.3l-3.1-2.6l-2.1-3.7l-1.3-4l-0.7-4.5l0.2-4.8z" fill="#30b422" fill-opacity="0.76"/><path d="M853.3 440l11-6.2l17.2-4.1l13.3-0.1l5.8 6.4l1.7 10.5l-2.3 9l-8.3 6.8l-12.3 5.4l-10.5 0.8l-8.5-7.1l-6.7-11.7z" fill="#30b422" fill-opacity="0.12"/></g><g filter="url(#fa4)"><path d="M822.2 301.9l3.8-3.8l5.2-2.2l4 0.3l2.1 4.1l1.1 6.8l-0.3 6.4l-2.1 5.7l-3.4 5.5l-3.2 3.2l-2.7 0.1l-2.6-2.2l-1.9-3.7l-1-6.2l-0.2-7.8z" fill="#7b9bd6" fill-opacity="0.65"/><path d="M876.6 533.3l12.6-0.4l20.4 2.5l18.9 3.1l13.9 3.2l12.5 3.9l12.5 3.2l12.9 2.6l13 2.1l13 0.5l13.4-1.4l13.4-2.9l12-3.4l10.1-5l8.7-5.6l7.2-2.4l5.9 2.7l4.5 5.8l2.5 7l0.2 8.5l-1.8 9.6l-3.6 7.9l-5.1 5.2l-6.8 3.4l-8.8 1.7l-11.6-0.8l-13.7-2.6l-13.6-1.7l-12.9 0.4l-13 1.4l-13 0.7l-13.4 0.2l-13.4-0.3l-12-2.4l-9.8-6.2l-8.4-8.2l-7.8-6.4l-7.4-2.3l-6.8-0.6l-6.5-2.3l-8.8-6.7l-8.6-8.4z" fill="#7b9bd6" fill-opacity="0.32"/><path d="M1097 455.5l6.3-14.3l12.7-18l12.1-11.7l9.2-0.2l8.6 6.1l8.1 7l7.3 6l6.7 6.8l6.7 8l7.2 9.9l7.1 11.2l6.5 10l6.2 8l5.5 6.9l2.8 5.8l-0.7 5.6l-3.4 4.4l-5.2 0.4l-7.4-6.4l-9.3-10.3l-9.3-9.2l-8.6-6.6l-8.6-5.4l-8.7-3.6l-8.6-0.8l-8.7 1l-8.6-0.2l-10.7-1.4l-10.8-2.6z" fill="#7b9bd6" fill-opacity="0.12"/></g><g filter="url(#fa5)"><path d="M836.3 600l15.9-2.1l22.9 0.2l18.2 1.9l9.4 4l4.8 5.8l1.3 5.8l-2.4 5.8l-6 5.9l-7.1 3.8l-7.9 0.7l-9-1.4l-9-1.9l-9.4-1.7l-9.4-2.3l-7.1-3.8l-5.6-6.7l-3.3-8.1z" fill="#7b9bd6" fill-opacity="0.55"/><path d="M807.8 628.5l6.9-2.5l8.9-1l7.5 0.9l5.2 3.8l3.7 5.7l1.5 6.1l-1.8 6.1l-4 6.5l-4.6 5.5l-5.1 4.9l-5.7 4l-4.8 1.5l-3.2-2.6l-2.4-5.2l-2.1-5.2l-2.4-4.2l-2-4.2l-0.8-4.5l0.3-5.5l1.4-5.8z" fill="#7b9bd6" fill-opacity="0.79"/><path d="M773 569.6l10.8-1.3l20.9-0.3l20.1-1l15.9-2.3l15.1-2.9l13.1-2.6l10.1-2.3l8.2-2l7.6-0.9l7.9 0.2l7.3 1.4l5.5 3.6l3.7 7.3l1.9 9.6l-0.4 9l-3.2 7.7l-5.6 7.1l-6.7 6l-7.9 4.8l-9 3.6l-9.1 1.9l-9-0.1l-9-1.8l-7.9-3.2l-5.6-5.3l-4.4-6.7l-5.5-6.2l-7.4-4.8l-8.6-4.2l-10-3.9l-15.3-4l-16.8-3.6z" fill="#7b9bd6" fill-opacity="0.60"/><path d="M805.2 651.8l-4.2 4.7l-5.8 6.6l-5.6 6.9l-4.8 6.7l-4.5 7l-3.7 7l-2.4 7.7l-1.7 7.7l-1 5.4" fill="none" stroke="#7b9bd6" stroke-width="4.0" stroke-linecap="round" stroke-linejoin="round" stroke-opacity="0.70"/><path d="M691.1 734.8l-20.7 13" fill="none" stroke="#7b9bd6" stroke-width="3.0" stroke-linecap="round" stroke-linejoin="round" stroke-opacity="0.42"/><path d="M709.3 745.2l3-3.3l6-2.7l6.5 0.8l7.4 6.7l8 10.2l5.3 9l1.7 7.5l-1 6.3l-3.3 1.8l-6.7-6.2l-9-10.7l-7.6-9.1l-5.4-4.8l-3.9-3z" fill="#7b9bd6" fill-opacity="0.15"/><path d="M965.5 591.8l6.9-5.3l11.7-4.5l12.5-3.1l12.9-1.4l13.7 0.1l12.3 1.3l10.1 2.5l8.7 3.6l7.2 4.3l5.4 4.7l4.1 5.2l3.4 5.6l3.7 5.8l3 6l1.1 6.3l-2.3 7.2l-4.3 7.3l-3.8 6.3l-1.5 5l-1 3.8l-2.7 1.6l-5.7-1.7l-7.5-3.9l-7.5-4.8l-7.1-6.3l-7.1-7.3l-6.5-4.6l-5.5 0.4l-4.9 3l-5.2 1.8l-6-0.6l-6.4-1.9l-5.7-2.7l-4.7-3.4l-4.2-4.3l-4.1-5.2l-6-6.6l-5.9-7.5z" fill="#7b9bd6" fill-opacity="0.70"/><path d="M880 540l56.4-6.7l77.3 1.9l55.5 4.8l12.7 7.2l-9.2 10.1l-11.2 8.6l-6.9 5.8l-8.8 4.3l-10.3 2.9l-12.3 0.5l-13.7-1l-12.9 0.5l-11.3 3.2l-10.4 4.8l-9.4 4.9l-7.4 5.2l-6.4 5.5l-6.9 4.9l-7.8 4.2l-8.3 3.7l-9.8 2.5l-13.5 3.6l-14.8 2.5l-10.6-6.1l-9.9-23.1l-5.6-31.7z" fill="#7b9bd6" fill-opacity="0.25"/><path d="M955.2 635.9l4.3-4.1l5.8-1.8l5.4 0.7l4.9 4.3l4.6 6.8l3.5 7.1l2.1 6.9l1 7.2l-0.5 6.6l-2.3 5.8l-3.8 5.2l-4.3 4.6l-5.1 3.6l-5.6 3.1l-4.8 3.6l-3.1 5l-2.2 5.6l-2.5 5l-3.2 3.6l-3.4 3.1l-3.8 3.7l-4.4 4.7l-4.7 5.2l-3.8 5.6l-2.8 5.9l-2 6.1l-0.4 6.1l1.6 6.5l3.2 6.4l2.9 5.3l2.3 5.1l2.1 3.9l2.1-1.2l1.9-10.2l2-15.4l2.6-13.3l3.8-8.1l4.6-6l4.6-6.6l5.2-8.9l5.3-9.4l2.4-7.7l-2.7-4.1l-5.5-2.4l-4.7-3.8l-2.6-6.8l-1.8-8.1l-0.8-8.5l-0.2-9.2l0.7-9.5z" fill="#7b9bd6" fill-opacity="0.79"/></g><g filter="url(#fa6)"><path d="M789.6 600l8.3-1.9l12-0.2l10.8 2.1l7.5 6l6.3 8.2l7 6.5l8.2 2.8l8.8 1.1l8.9 1.3l8.6 2.2l8.7 2.5l8.6 3.1l8.8 3.6l8.9 4.3l8.2 5.1l7.9 6.4l7.3 7.3l5.6 7l4 6.7l2.3 6.4l-1.2 5l-6.3 2.5l-9.8 1.1l-9.8 1.6l-8.6 3.4l-8.7 3.9l-8.6 3.1l-8.6 1.1l-8.7 0.3l-8.6 1.2l-8.7 3.1l-8.6 3.9l-8.6 3.4l-8.9 2.1l-8.8 1.5l-8.3 1.5l-7.3 1.8l-6.7 1.7l-6.7 1.7l-7.3 2.1l-7.3 2.1l-6.1 1l-5.1-0.6l-4-1.7l-1.3-2.9l2.4-4.6l5-5.7l5.5-5.2l5.8-3.5l6.3-2.9l6.1-4l5.8-6.2l5.4-7.4l4.3-7.1l2.2-6.7l0.9-6.3l2.1-5.2l5.4-3l6.5-1.8l3.7-3l-1.4-5.5l-4.2-6.7l-4.8-5.9l-4.9-4.1l-5.5-3.3l-5.1-3l-4.9-2.5l-4.6-2.2l-3.5-3l-2.9-5.2l-1.7-6.1z" fill="#30b422" fill-opacity="0.42"/><path d="M815.5 659.6l7.5-2.7l9.8-0.9l8.7 1l6.7 3.9l5.5 5.8l3.3 5.9l0.6 5.5l-1.7 5.6l-4.1 4.4l-7.5 3.3l-9.8 2.1l-8.6-0.2l-6.7-3.5l-5.6-5.9l-3.3-6.1l-0.5-6.5l1.7-6.7z" fill="#30b422" fill-opacity="0.50"/><path d="M789.6 607.8l6.4-2.8l10.5-1.1l9 1.3l6.1 4.7l4.6 7l2.3 6.4l-0.6 5.6l-2.9 5l-4.3 2.4l-6.3-1.4l-7.8-4.1l-6.6-4.9l-5.6-6l-4.4-6.9z" fill="#30b422" fill-opacity="0.60"/><path d="M767.8 577.4l5.4-0.7l8.8 1l9.1 2.3l8.7 3.3l9.1 4.5l8.1 5.1l7.4 5.8l6.5 6.3l4.3 6.1l1.5 6l-0.8 5.8l-3.3 3.7l-7.4 1.1l-10-1l-8.5-2.7l-5.1-5l-3.7-6.7l-4.2-6.4l-6.1-5.5l-6.6-5.2l-5.4-4.9l-4.6-5.1l-3.3-4.8z" fill="#30b422" fill-opacity="0.55"/><path d="M774.1 724.4l-7.5 0.8l-10.7 1l-10.4 0.8l-8.7-0.1l-8.4-0.4l-8.8 0.5l-9.6 1.9l-9.9 2.8l-9 3.1l-8.3 3.6l-7.3 4l-5.1 2.8" fill="none" stroke="#30b422" stroke-width="4.0" stroke-linecap="round" stroke-linejoin="round" stroke-opacity="0.70"/><path d="M763.7 729.6l-3.5 4.8l-4.9 6.8l-4.6 6.6l-4 5.9l-3.8 5.7l-2.5 3.9" fill="none" stroke="#30b422" stroke-width="4.0" stroke-linecap="round" stroke-linejoin="round" stroke-opacity="0.56"/><path d="M1009.6 630.7l5-3.5l5-2.1l5.6 0.4l6.5 4.7l7.1 7.3l7.1 6.2l7.5 3.2l7.5 2l5.7 2.6l2.5 3.8l0.8 4.4l1.9 4.7l4.3 5l5.5 5.3l5.8 5.3l5.9 5l6.3 5l5.9 5.5l5.4 6.7l5.2 7.2l5 6.9l5.6 5.9l5.5 5.7l3.1 6.5l-0.6 8.1l-3 8.9l-2.9 8.9l-1.4 9.2l-1.3 9.1l-2.4 7.7l-4.3 5.4l-5.3 4.1l-6 3.4l-6.3 3.2l-6.9 2.6l-7.5 2l-7.9 1.1l-8.4 0.6l-9.6 0.9l-11.7 1.9l-12.7 2.1l-11.9 1.2l-10.4-0.8l-9.5-1.9l-8.7-1.2l-7.5 0.6l-6.8 1.1l-6.4-0.4l-6.2-3.2l-6-4.7l-5.9-5.1l-6.6-4.9l-6.5-5.2l-5.1-5.4l-3.2-5.7l-1.9-6l-0.1-6.5l2.2-7.5l4-8l4.2-7.8l4.1-6.9l4.4-6.6l4.5-7.2l4.3-8.3l4.3-8.8l4.3-8.9l4.4-8.8l4.5-8.8l4.1-8.3l3.4-7.4l3.2-6.8l3.8-6.5l4.8-6.7l5.3-6.5z" fill="#30b422" fill-opacity="0.58"/><path d="M970.7 685.2l5.4-4.8l8-1.4l7.4 1l6.2 3.2l5.7 5.6l3.6 6.7l1 8.5l-1.1 9.6l-2.5 7.9l-4.2 5.3l-5.7 3.7l-5.6 1.3l-5.7-0.9l-5.7-3.3l-4.2-6.1l-2.7-11.4l-1.2-14.2z" fill="#30b422" fill-opacity="0.60"/><path d="M1025.2 654.1l9-3.6l11.9-1l10.2 2l6.8 5.1l5.1 8.1l3.6 10.1l2 12.9l0.6 14.8l0 13.8l0.2 12l-0.4 10.8l-2.4 8.3l-5.5 5.1l-7.6 2.5l-7.6 0.1l-7.5-2l-7.5-4.3l-5.8-6.6l-2.8-9.9l-1.2-12.2l-1.1-11.6l-2.2-10l-2.1-9.4l-0.9-9.1l0-9.7l1.1-9.4z" fill="#30b422" fill-opacity="0.62"/><path d="M1058.9 760.3l7.8-5.3l10.5-4.3l10.2-3.3l9.2-3.2l8.9-2.3l7.8 0.3l6.8 3.9l5.7 6.6l3 7.6l-0.2 9.3l-2.9 10.5l-4.6 8.7l-6.4 6l-8 4.2l-9 2.8l-10.4 1.6l-11.4 0.2l-9.3-1.8l-6.3-4.5l-4.3-6.5l-2.3-7.1l-0.5-7.8l1.5-8.4z" fill="#30b422" fill-opacity="0.60"/><path d="M994.1 794l6.7-3l10.2-2l9-0.2l6.9 2.3l5.7 3.9l2.9 4.2l-0.9 4.7l-3.9 5l-5.5 3.3l-8.3 0.7l-10-0.9l-7.7-2.4l-4.4-4.6l-2.1-6.1z" fill="#30b422" fill-opacity="0.60"/><path d="M942.2 747.4l6.3-6l8.8-3.6l8.2-0.8l7.3 2.9l6.8 5.7l4.1 7l0.6 8.2l-2.1 9.4l-3.7 8.3l-6 7.1l-7.6 5.9l-7.1 2.5l-6.2-2.3l-5.5-5.7l-3.9-7.5l-2-10l-0.3-11.7z" fill="#30b422" fill-opacity="0.40"/><path d="M1077 685.2l8 1.1l12 6.3l11.1 8.1l9.4 9.6l8.6 11.3l5.3 10.2l1.2 8.9l-2 7.6l-4.3 4.3l-7.4-0.6l-9.7-4.1l-8.9-5.7l-7.1-7.3l-6.2-9l-4.8-9.6l-4-11.7l-2.6-12.3z" fill="#30b422" fill-opacity="0.45"/><path d="M880 612.6l10.6-4.9l14.8 4.9l13.5 5.2l10.3 1.3l8.8 1.6l6.8 4.8l4.3 10.5l2.3 13.6l1.2 12.2l0.5 9.3l-0.7 7.9l-2.4 6.2l-4.6 3.9l-6.4 2.2l-7.2 1.6l-8 1.4l-8.9 0.7l-9 0.5l-9.6 3.3l-9.6 3l-6.7-6.3l-3.4-24.7l-0.4-34z" fill="#30b422" fill-opacity="0.27"/></g><g filter="url(#fa7)"><path d="M660 752.9l3.7 0l5.5-0.2l6.4-0.3l8-0.6l8.9-0.9l6.4-0.6" fill="none" stroke="#fa7b73" stroke-width="4.0" stroke-linecap="round" stroke-linejoin="round" stroke-opacity="0.84"/><path d="M768.9 745.2l3.9-0.3l5.1 2l3.9 3.4l2.1 5.6l1 7l-0.5 5.6l-2.6 3.4l-4 1.9l-3.7-0.1l-3.2-2.9l-2.9-4.9l-1.7-5.2l-0.3-5.7l0.9-6.1z" fill="#fa7b73" fill-opacity="0.70"/><path d="M711.8 750.3l2.6 2.8l3.8 4l4 3.6l4.8 2.7l5.1 2.4l3.1 2.7l-0.6 3.6l-2.6 4l-2 2.8" fill="none" stroke="#fa7b73" stroke-width="4.0" stroke-linecap="round" stroke-linejoin="round" stroke-opacity="0.56"/><path d="M745.5 750.3l5.2 1.3l7.2 1.8l5.8 2.1l2.9 2.7l1.4 3l0.9 2.1" fill="none" stroke="#fa7b73" stroke-width="5.0" stroke-linecap="round" stroke-linejoin="round" stroke-opacity="0.42"/><path d="M717 778.9l13.8-0.4l19.2 1l13.7 2l4.2 3.3l-1.2 4.2l-5.6 2.8l-12.4 0.4l-16.7-1.1l-12.4-1.9l-5.5-3.3l-1.3-4.3z" fill="#fa7b73" fill-opacity="0.10"/></g><g filter="url(#fa8)"><path d="M468 347.6l12.8 0.8l17 2.8l12.8 3.4l4.1 3.2l-0.2 3.8l0.8 4.5l4 5.6l5 6.2l3.6 5.5l1.7 4.1l0.5 3.3l-1 2.9l-3.1 2.6l-4.5 2.2l-3.9 2.1l-2.4 2.5l-1.9 2.5l-2.7 2l-3.8 1.3l-4.6 0.9l-5.4 0.1l-6.9-0.6l-7.7-1.4l-6.1-2.6l-3.2-4.5l-1.6-5.8l-2.1-5.9l-3.9-5.9l-4.4-6.2l-3.3-5.2l-1.4-3.8l-0.3-3l0.6-2.4l1.8-1.3l2.7-0.6l2.4-1.5l0.3-4l0.1-4.8z" fill="#fa7b73" fill-opacity="0.92"/><path d="M476.1 430.6l4.6-1.8l6.1 0l5.4 1.8l3.6 4.1l2.8 6l2.8 6l3.2 5.9l3.1 6l2.9 5.4l2.3 4.3l1.9 3.6l2.8 3.6l4.1 3.9l4.9 3.9l4.8 3.8l4.8 3.7l4.6 3.5l3.3 3.1l1.5 2.5l0.1 1.9l-1.6 1.4l-4.2 1l-5.9 0.4l-6.1-0.3l-6.4-0.9l-6.5-1.8l-4.4-3l0-5.3l2.1-6.5l0.2-5.5l-3.6-4l-5.5-2.9l-4.7-1.2l-3.1 1.5l-2.4 3.2l-1.4 3.4l0.7 3.3l1.8 3.5l-0.2 2.4l-3.7 0.8l-5.6-0.3l-5.7-0.5l-5.3-0.3l-5.4-0.6l-4.2-1.4l-2.6-2.3l-1.5-3l-0.5-3.9l0.2-5.9l1.1-6.8l2.1-4.6l4.1 0l5.1 2.3l3.5 0l0.2-4.3l-1.5-6.6l-1-6.4l-0.1-6l0.4-6z" fill="#fa7b73" fill-opacity="0.86"/><path d="M476.1 407.6l6.8-0.7l9.1 0.8l7.1 2.2l3.2 3.9l1.1 5.2l0.3 4.7l0.6 3.8l-0.1 3.4l-2.8 2l-7.6 0.4l-10.1-0.8l-7.6-1.9l-2.7-3.2l-0-4.1l0.4-4.2l-0.4-4.4l0.2-4.3z" fill="#fa7b73" fill-opacity="0.58"/><path d="M455.3 438.7l18.5 1.1" fill="none" stroke="#fa7b73" stroke-width="4.0" stroke-linecap="round" stroke-linejoin="round" stroke-opacity="0.84"/><path d="M503.7 446.7l3-2.1l5.3-1.7l5.6-0.8l5.8 0.4l6.2 1.4l4.1 1.7l1.3 2.2l-0.8 2.5l-2.8 2.2l-6.1 1.9l-8.1 1.5l-6.6 0l-4.1-2.3l-2.5-3.7z" fill="#fa7b73" fill-opacity="0.58"/><path d="M540.6 411l4.4-0.8l6.3 0l4.3 0.8l0.4 2.4l-1.6 3.4l-2.3 2.3l-2.9 0.5l-3.5-0.5l-2.8-1.2l-1.9-2.1l-1.2-2.8z" fill="#fa7b73" fill-opacity="0.64"/><path d="M753.3 872.2l3.6 0.2l6.4 3l5.6 4.6l3.1 5.8l2.3 7.3l2.3 7.6l2.5 8l2.5 8.2l2.8 7.1l2.9 5.7l3.2 4.5l4.3 2.8l6.5 0.7l7.7-0.9l6.5-2.4l3.9-5l2.7-6.4l3.8-4.2l7.1-0l8.3 2.3l5.3 2.9l0.6 3.1l-2.3 3.6l-3.4 3.7l-5.8 3.3l-6.9 3.2l-2.9 3.9l7.1 5.3l11.1 5.8l2.5 4.2l-15 1.9l-23.8 0.3l-18.2-2.2l-6.2-5.9l-0.8-8.5l-0.8-8.7l-2.5-8.6l-2.5-9l-2.7-8.3l-3.3-7.4l-3.6-6.8l-3.5-6.6l-4.4-7.2l-4.4-6.9z" fill="#fa7b73" fill-opacity="0.76"/><path d="M778.4 930.4l6.2-2.1l10-0.6l9.7-0.2l8.7-0.9l8.3-0.7l6.1 1.6l2.9 5.6l0.6 7.8l-0.6 6.8l-1.3 4.8l-2.6 3.8l-4.8 2.9l-8.9 2.3l-11.2 1.2l-8.7-0.6l-3.5-3.4l-1-5.4l-1.2-5.6l-4-6.1l-4.3-6.4z" fill="#fa7b73" fill-opacity="0.88"/><path d="M827.4 953.5l21.6 9.2" fill="none" stroke="#fa7b73" stroke-width="4.0" stroke-linecap="round" stroke-linejoin="round" stroke-opacity="0.84"/><path d="M827.4 921.8l5.7-0.5l8.4 0.6l6 1.3l2.2 2.3l-0.1 2.8l-2.1 2.1l-5 0.9l-6.9 0l-5.3-0.9l-2.9-2.6l-1.3-3.6z" fill="#fa7b73" fill-opacity="0.40"/><path d="M863.4 924.7l4.3-1.1l6.1 0l4 1.1l0.1 3l-2 4.2l-2.4 2.8l-2.9 0.7l-3.3-0.7l-2.5-1.4l-1.6-2.7l-0.8-3.4z" fill="#fa7b73" fill-opacity="0.30"/><path d="M729.4 884.3l3.4-1.1l4.8-0.6l3.4 0.3l0.7 2l-0.7 3l-1.5 2.2l-2.6 0.7l-3.4 0l-2.6-0.7l-1.5-1.7l-0.7-2.3z" fill="#fa7b73" fill-opacity="0.40"/><path d="M1041.9 980.8l21.6 24.5" fill="none" stroke="#fa7b73" stroke-width="2.5" stroke-linecap="round" stroke-linejoin="round"/><path d="M1160.1 932.2l5.8-0.7l8.1-0.4l6.7-1.5l3-4.1l1.6-5.3l3.1-3.5l6.1-0.4l7.5 1.4l7 1.6l6.1 1.1l5.6 1.5l3.7 2.5l1.4 4.6l-0.4 5.7l-2 5.2l-3.6 4.2l-5.1 3.6l-5.7 2.5l-6.8 1.1l-7.5-0l-6.3-1.1l-3.9-3l-2.8-4.1l-3.6-3.2l-6.1-1.4l-7-0.4l-4.9-0.8l-2.1-1.6l-0.1-1.9z" fill="#fa7b73" fill-opacity="0.86"/><path d="M1197.7 898.7l-1.6 18" fill="none" stroke="#fa7b73" stroke-width="3.0" stroke-linecap="round" stroke-linejoin="round" stroke-opacity="0.56"/><path d="M1279.2 718.9l4 3.1l5.8 4.6l5.7 5.2l5.4 5.9l5.4 6.4l4.8 5.9l3.9 4.6l3.3 4l3.2 4.3l3.5 5.6l3.4 5.9l2.4 4.1" fill="none" stroke="#fa7b73" stroke-width="3.0" stroke-linecap="round" stroke-linejoin="round" stroke-opacity="0.98"/><path d="M1312 749.3l23.2 32" fill="none" stroke="#fa7b73" stroke-width="3.5" stroke-linecap="round" stroke-linejoin="round"/><path d="M1177.4 440l4 2.1l5.6 3.2l5.2 3.9l3.9 5l3.6 5.8l3.5 5.8l3.6 5.3l3.7 5.4l3.8 5.9l4.6 7.8l4.9 8.4l3.4 5.9" fill="none" stroke="#fa7b73" stroke-width="6.0" stroke-linecap="round" stroke-linejoin="round" stroke-opacity="0.98"/><path d="M1177.4 462.1l-1.1 3.9l-1.5 5.5l-1.1 5.4l-0.2 4.9l0.1 4.7l0.1 3.3" fill="none" stroke="#fa7b73" stroke-width="5.0" stroke-linecap="round" stroke-linejoin="round" stroke-opacity="0.70"/><path d="M1284.3 573.6l1.9 3.2l2.8 4.5l2.7 4.3l2.7 3.9l2.8 3.7l1.9 2.6" fill="none" stroke="#fa7b73" stroke-width="3.0" stroke-linecap="round" stroke-linejoin="round" stroke-opacity="0.56"/><path d="M1404.1 503.6l9.3 0.4" fill="none" stroke="#fa7b73" stroke-width="3.0" stroke-linecap="round" stroke-linejoin="round" stroke-opacity="0.84"/><path d="M1091.8 223l15 11.6" fill="none" stroke="#fa7b73" stroke-width="4.0" stroke-linecap="round" stroke-linejoin="round" stroke-opacity="0.70"/><path d="M776.2 114.1l4.1 1l5.9 1.3l5.8 1.2l5.4 0.9l5.3 0.7l3.7 0.4" fill="none" stroke="#fa7b73" stroke-width="3.5" stroke-linecap="round" stroke-linejoin="round" stroke-opacity="0.98"/><path d="M668.8 565.1l5.2 7.8" fill="none" stroke="#fa7b73" stroke-width="3.0" stroke-linecap="round" stroke-linejoin="round" stroke-opacity="0.84"/><path d="M829.4 495l7.2 11.6" fill="none" stroke="#fa7b73" stroke-width="4.0" stroke-linecap="round" stroke-linejoin="round" stroke-opacity="0.70"/></g><g filter="url(#fa9)"><path d="M533.7 452.5l4.7-6l6.7-3.7l7-0.7l7.8 3.7l8 6.7l5 6.9l0.3 6.2l-2.8 6.3l-4.5 5.9l-6.6 6.2l-8.2 5.7l-7 3.1l-4.7-0.5l-3.5-3.1l-2.2-5.6l-1.5-9.5l-0.3-12z" fill="#30b422" fill-opacity="0.18"/><path d="M776.6 825.5l5.8 0.9l8.6 4l9 2.9l8.6 0.2l8.9-1l8.4-1.8l7.6-3.9l7-4.8l6.1-1.7l6.1 4l5.2 7.1l1.7 7.1l-4 7l-7.5 7l-6.6 4.1l-3.7-1l-2.8-4l-3.9-2.8l-6.4 0.1l-7.4 1.3l-7 1.2l-5.5 1.3l-5 1.2l-5 0.1l-5.7-1.3l-5.6-2.5l-4.3-3.9l-2.7-7.1l-1.4-8.4z" fill="#30b422" fill-opacity="0.70"/><path d="M846.6 841.1l-7.7 23.3" fill="none" stroke="#30b422" stroke-width="4.0" stroke-linecap="round" stroke-linejoin="round" stroke-opacity="0.56"/><path d="M1021.8 960.7l15.8 17.2" fill="none" stroke="#30b422" stroke-width="2.5" stroke-linecap="round" stroke-linejoin="round"/><path d="M1093.9 809.6l3.7 4.8l5.3 6.9l5.2 6.4l4.9 5.6l4.8 5.1l3.3 3.6" fill="none" stroke="#30b422" stroke-width="2.5" stroke-linecap="round" stroke-linejoin="round" stroke-opacity="0.84"/><path d="M1214.3 558l2.9-3.8l5.7-4.4l6.1-2.9l5.9-0.4l6.3 1l6.3 1.3l6.2 1.1l6.3 1.4l5.9 1.1l6.2 0.7l5.8 0.4l3.7 0.8l0.6 1.8l-1.7 2.1l-3.5 1.6l-6.4 0.3l-8.3-0.4l-7.5 0.1l-5.4 1.1l-4.7 1.5l-4.6 1.1l-5.1 0.5l-5-0l-4.7-0.5l-4.9-1.2l-4.5-1.9z" fill="#30b422" fill-opacity="0.76"/><path d="M1173.7 587.5l0.9-1.3l2.3-0.5l2.4-0.1l1.7 0.8l1.7 1.3l2.1 0.7l3.4-1l3.8-1.5l2-0.3l-1.3 2.5l-3.1 3.8l-3 2.9l-1.9 1.3l-1.7 0.3l-1.9-0.6l-2.8-2.4l-3-3.3z" fill="#30b422" fill-opacity="0.82"/><path d="M1157.1 585.6l3.9-6.9l7.9-7.4l8.5-6l8.8-4.1l9.3-2.6l7.7-0.6l6.2 2.2l4.5 4.2l0.4 4.6l-6.3 4.5l-10.4 5l-9.1 5.3l-5.7 7.1l-4.4 7.6l-4.7 3.7l-6.7-2.8l-7-6.7z" fill="#30b422" fill-opacity="0.10"/><path d="M1325.8 631.7l2.5 0l3.5 0.8l2.3 1l0.3 1.6l-0.8 1.8l-1.3 1.3l-2.1 0.2l-2.6-0.3l-1.8-0.9l-0.8-1.7l-0-2.3z" fill="#30b422" fill-opacity="0.76"/><path d="M1106.8 294.5l3 3.4l4.3 5l4.2 5.4l4.3 6.1l4.3 6.6l3 4.6" fill="none" stroke="#30b422" stroke-width="5.0" stroke-linecap="round" stroke-linejoin="round" stroke-opacity="0.98"/></g><g filter="url(#fa10)"><path d="M538.3 445.6l4-2.2l5.8-2l4-0.4l0.7 2.3l-1.1 3.9l-1.9 3l-2.8 1.2l-3.6 0.4l-2.8-0.5l-1.9-1.4l-1.1-2.2z" fill="#7b9bd6" fill-opacity="0.30"/><path d="M503.7 452.5l2.1-0.7l2.9 0.5l1.9 1.3l0.4 2.9l-0.5 3.8l-1 2.6l-1.8 0.6l-2.3-0.4l-1.7-1.4l-0.6-2.9l-0.1-3.7z" fill="#7b9bd6" fill-opacity="0.40"/><path d="M504.9 363.8l2.5-0.4l3.9 0.9l2.8 1.8l0.5 2.9l-0.6 3.7l-1.1 2.6l-1.3 0.7l-1.7-0.4l-1.6-1.5l-1.7-3.2l-1.5-4.3z" fill="#7b9bd6" fill-opacity="0.30"/><path d="M800 856.6l-6 4.9l-8.2 6.9l-6.6 6.4l-3.4 4.4l-1.7 3.8l0 4.7l2.6 7.1l4.5 8l3.2 5.7" fill="none" stroke="#7b9bd6" stroke-width="6.0" stroke-linecap="round" stroke-linejoin="round" stroke-opacity="0.70"/><path d="M841.5 867l-2.1 6.9l-2.8 9.8l-2.9 9.2l-2.9 8.1l-2.9 7.5l-2 5.2" fill="none" stroke="#7b9bd6" stroke-width="5.0" stroke-linecap="round" stroke-linejoin="round" stroke-opacity="0.70"/><path d="M784.4 859.2l15.2-5.6l21.5 0.2l15.2 5.4l3.8 13.6l-2.5 18.9l-6.5 14.2l-12.5 6.9l-16.5 2.3l-12.5-4l-6.5-15l-2.5-21.3z" fill="#7b9bd6" fill-opacity="0.08"/><path d="M1034.7 975.1l8.7 8.6" fill="none" stroke="#7b9bd6" stroke-width="2.5" stroke-linecap="round" stroke-linejoin="round" stroke-opacity="0.84"/><path d="M1118.5 838.1l18.1 22" fill="none" stroke="#7b9bd6" stroke-width="3.0" stroke-linecap="round" stroke-linejoin="round" stroke-opacity="0.84"/><path d="M1154.8 879.6l20.7 20.5" fill="none" stroke="#7b9bd6" stroke-width="3.5" stroke-linecap="round" stroke-linejoin="round" stroke-opacity="0.98"/><path d="M1152.3 880.7l41.2 38.6" fill="none" stroke="#7b9bd6" stroke-width="3.5" stroke-linecap="round" stroke-linejoin="round" stroke-opacity="0.98"/><path d="M1261 705.9l15.6 9.1" fill="none" stroke="#7b9bd6" stroke-width="2.5" stroke-linecap="round" stroke-linejoin="round" stroke-opacity="0.70"/><path d="M1199.5 476.9l3.9 6l5.6 8.4l5.3 7.7l4.3 5.4l4.1 4.7l4.5 4.6l5.2 4.9l5.6 5l5.8 4.9l6 5l6.2 5.1l6.2 4.6l6.8 4.4l6.9 4l4.7 2.7" fill="none" stroke="#7b9bd6" stroke-width="5.0" stroke-linecap="round" stroke-linejoin="round" stroke-opacity="0.56"/><path d="M1199.5 476.9l4.4 2.6l6.8 7.5l7.3 8.3l6.9 8.3l7.4 9.2l7.8 8.3l8.7 7l9.2 6.1l7.9 5.3l6.8 4.5l5.6 3.7l2.3 2.9l-2.3 2l-5.6 1.3l-6.8 0.4l-7.9-0.6l-9.2-1.3l-8.7-1.8l-8.1-3l-7.6-3.4l-6.4-1l-4.7 4.1l-3.4 6.6l-3 4.1l-3.5-0.3l-3.2-2.7l-0.7-4.4l4.3-6.1l6.7-7.8l3.8-8.2l-2.1-8.3l-4.9-8.8l-4.1-8.7l-2.6-10.3l-1.7-10.2z" fill="#7b9bd6" fill-opacity="0.22"/><path d="M1136.9 454.7l14.4-1.7l22.3 0.7l18.6 4.7l11 11.9l7.4 16l3.7 12.7l-0.6 6.8l-4.2 3.6l-6.3 0.6l-8.7-2.7l-10.8-5.6l-10-6.4l-8.2-7l-7.3-7.7l-6.6-7.4l-8-7.3l-7.3-6.8z" fill="#7b9bd6" fill-opacity="0.08"/><path d="M1219.8 535.9l-2.3 3.9l-3.4 5.6l-3.5 5.2l-4 4.4l-4.1 3.9l-3 2.8" fill="none" stroke="#7b9bd6" stroke-width="4.0" stroke-linecap="round" stroke-linejoin="round" stroke-opacity="0.49"/></g></g>
<path d="M426.6 13.8V1075.6H1414.0" fill="none" stroke="#c9c9c9" stroke-width="1.6"/><rect x="422.2" y="13.8" width="991.8" height="1066.2" fill="none" stroke="#0d0d0d" stroke-width="3.6"/>
<rect x="130.9" y="1351.0" width="716.0" height="766.8000000000002" fill="#fff"/><g fill="none"><path d="M196.5 1351.0V2117.8" stroke="#f5f5f5" stroke-width="1.6"/><path d="M273.9 1351.0V2117.8" stroke="#fbfbfb" stroke-width="1.5"/><path d="M351.2 1351.0V2117.8" stroke="#f5f5f5" stroke-width="1.6"/><path d="M428.6 1351.0V2117.8" stroke="#fbfbfb" stroke-width="1.5"/><path d="M506.0 1351.0V2117.8" stroke="#f5f5f5" stroke-width="1.6"/><path d="M583.4 1351.0V2117.8" stroke="#fbfbfb" stroke-width="1.5"/><path d="M660.8 1351.0V2117.8" stroke="#f5f5f5" stroke-width="1.6"/><path d="M738.1 1351.0V2117.8" stroke="#fbfbfb" stroke-width="1.5"/><path d="M815.5 1351.0V2117.8" stroke="#f5f5f5" stroke-width="1.6"/><path d="M130.9 2040.2H846.9" stroke="#fbfbfb" stroke-width="1.5"/><path d="M130.9 1917.2H846.9" stroke="#f5f5f5" stroke-width="1.6"/><path d="M130.9 1794.1H846.9" stroke="#fbfbfb" stroke-width="1.5"/><path d="M130.9 1671.1H846.9" stroke="#f5f5f5" stroke-width="1.6"/><path d="M130.9 1548.0H846.9" stroke="#fbfbfb" stroke-width="1.5"/><path d="M130.9 1425.0H846.9" stroke="#f5f5f5" stroke-width="1.6"/></g>
<g clip-path="url(#cpb)"><g filter="url(#sfb)"><g mask="url(#mkb0)"><g filter="url(#cbb)"><rect x="100.9" y="1321.0" width="776.0" height="826.8000000000002" fill="#fdc484"/><path d="M501 1628.8l5.5-12.3l5.4-15.1l5.7-14l6-11.8l6.2-10.6l6.5-8.7l6.3-6.8l6.6-4.9l7.8-2.8l8.5-1.4l9.6 0.7l13 4.8l20.6 11.4l24 15.6l17.6 14.5l6.4 11.1l-0.1 10l-2.1 10l-2.9 10.7l-4.9 10.8l-6.7 9.6l-8 9.2l-9.9 8.1l-13.3 3.4l-19.2-5l-22.6-9.6l-20.4-6.1l-15.8 1.1l-13.5 4.6l-12.1 4.7l-11.1 3.5l-9.7 3.5l-8.3 3.3l-6.7 3.6l-5.3 3.3l-4.6 1.4l-5-1.3l-4.3-3.1l-1-3.9l4.1-4.5l7.4-5.2l7.1-4.8l5.7-3.5l5.5-3.1l5.4-3.8l5.6-4.1l5.5-4.8z" fill="#fb8c64"/><path d="M420.1 1556.3l2.7-2.2l3.8-0.4l2.9 1.5l1.3 4.8l0.4 6.8l-0.7 5l-2.6 2.2l-3.8 0.4l-2.9-1.5l-1.4-4.8l-0.4-6.8z" fill="#eb5c61"/><path d="M594.3 1566.6l6.9-3.3l9.3-1.4l8.7 0.6l7.6 2.8l7.2 4.9l6 6.8l4.7 9.1l3.6 11l2 11l0.2 10.8l-1.5 10.7l-2.8 9.6l-4.3 8.8l-5.7 7.7l-6.6 4.3l-8.2-0.4l-9-3.9l-7.7-6.1l-5.5-8.8l-4-11.2l-2.9-11.1l-1.7-10.8l-0.6-10.7l0.2-9.6l0.1-8.3l0.9-7.2z" fill="#f0625e"/><path d="M598.5 1597.7l6.3-4.2l9 0.4l7.5 3.8l4.5 8.5l2.9 11.9l0.9 10.7l-1.8 8.9l-3.8 7.7l-4.8 4.2l-6.2-0l-7.1-3.5l-5.3-6.9l-2.9-13l-1-16.6z" fill="#ce4172"/><path d="M436.5 1640l14-4.6l18.1-1.2l13.6 5.8l5.5 18l0.9 25l-2.3 19.2l-6.3 8.1l-9.5 2.3l-9.1 0l-7.5-1.2l-7.1-3.4l-6.1-5.8l-5.5-8.8l-4.7-11.2l-2.3-11.1l-0.1-11.5l2.1-11.5z" fill="#fb8260"/><path d="M471.8 1640l20.7-6.1l30 0.7l21.9 5.4l6.5 11.1l-1.5 15.8l-5 14.6l-8.1 12.6l-11.5 11.6l-11.5 6.9l-11.2 1.5l-11.1-3.1l-8.8-8.8l-8.1-19.2l-5.8-25z" fill="#dc4b6a"/><path d="M513.3 1652.4l25.1-5.9l32.7 0.2l25.1 5.7l11.8 13.7l4.1 19.2l-1.4 16.9l-7.4 12.5l-13 10.1l-14.8 6.4l-17.1 1.7l-18.9-2.1l-15.9-3.7l-11.7-3.8l-8.8-5.3l-4.3-9.6l-0.7-17.9l3.8-22.2z" fill="#ad2e88"/><path d="M575.5 1650.4l10.4-2.6l16.7 4.4l12.3 8.5l4 14.1l-0.4 18.2l-3.6 15.4l-7.1 10.2l-10.3 7.5l-11.7 5.1l-16.2 3.5l-17.5 1.2l-7.7-2.6l11.6-7.1l21.6-10.9l14.5-13.1l-2.9-18l-10-20.4z" fill="#861d97"/><path d="M606.6 1640l11.5-5.4l17.3 0.4l12.7 5l4.2 11.9l-0.4 16.5l-3.8 13.1l-8.9 8l-12.3 4.6l-9.9-2.3l-7-14.5l-4.6-21.6z" fill="#9a2396"/><path d="M461.4 1727.1l39.3-2.4l55.5 2.9l40 5.7l11.3 8.9l-4.1 11.7l-11.3 10.5l-18.7 9.1l-25.8 7.9l-24 3.8l-20-1.9l-18.2-6l-13.6-8.7l-11.9-13.8l-7.3-16.5z" fill="#9a2396"/><path d="M384.7 1747.8l23.3-5l33.1-1.4l24.5 2.3l6.7 7.1l-1.7 10.7l-0.9 11.2l3.1 11.2l4 11.7l5.4 10.3l8.4 7.8l9.8 6.5l6.6 6.4l2.2 7.6l-1.1 7.5l-5.2 5.7l-10.9 2.3l-15.1 0.4l-15.5 1.4l-16 5.4l-16.4 6.3l-13.2 0.8l-8-8.6l-4.7-14.2l-3.9-14.6l-3.4-13.6l-2.6-14.2l-2.3-13.6l-5.4-14l-5.3-13.5z" fill="#f6725f"/><path d="M419.9 1768.6l9.4-3.3l13.5 0l10.3 3.3l4.9 8.6l1.7 11.8l-2.4 8.6l-9.4 3.2l-13.5 0l-10.3-3.2l-4.9-8.6l-1.7-11.8z" fill="#d5466e"/><path d="M405.4 1785.2l6.4-1.9l9.4 2.3l9.1 3.7l8.6 4.5l8.4 5.8l5.8 6.3l2.8 7.2l0.2 7.7l-3 5.8l-8 3.3l-11.2 1.3l-9.8-0.4l-7-2.2l-5.6-4l-4-6.3l-2.8-10.9l-1.1-13.2z" fill="#a22790"/><path d="M453.1 1747.8l5.9-4.1l10 0l9 4.1l6.5 9.7l5.5 13.8l4.6 13.9l4.5 13.9l3.5 14l0.3 9.4l-4.9 2.8l-8.2-1.9l-7.6-5.1l-6-8.7l-5.6-12l-5-12.4l-5.9-13.6l-5.3-13.9z" fill="#bf387b"/><path d="M378.5 1826.6l9-6.9l6.8-3.4l4.9 0l3.3 4.6l1.5 8l-0.6 8.1l-3.3 7.3l-5.3 7.3l-6 6.1l-6.3 4.3l-6.9 3l-7.5 3.1l-8.7 4.2l-9.1 4.3l-7.1 1.9l-5.2-0.8l-3.2-3.1l2.2-6.5l11.1-12.7l16.3-16.1z" fill="#ad2e88"/><path d="M523.6 1839.1l11.1-4l15.2-1.5l15.2-0.7l14.1-1.4l14-0.7l13.4 2.1l13.5 6.2l12.8 9l8.9 9.6l3 10.1l-0.9 10.8l-2.1 10.2l-1.3 10l-2.6 9.4l-6.4 7.6l-12.4 5.2l-16.3 3.3l-17 1.9l-17.9 1.1l-18.7-0.4l-15.2-2.8l-10.2-6.4l-6.8-8.9l-3.7-9.6l0.1-10l3.2-10.6l2.9-10.5l0.1-10.7l-0-10.4z" fill="#fc9f6d"/><path d="M544.4 1756.1l17-4l23.5-0.7l17.5 4.7l5.9 14l-0.2 19.5l-1.5 16.3l-0.8 10.1l-2.1 6.9l-5.4 3.7l-11.1 0.3l-14.3-2.9l-11.9-5.7l-7.7-9.3l-5.4-12.2l-3.5-11.6l-3.4-11.1l-1.5-10.6z" fill="#922196"/><path d="M561 1810l12.3-3.1l17.5 0.1l13.7 3l5.9 7.6l2 10.6l0.4 8.8l0.3 5.4l-1.3 3.5l-5.2 1.5l-12.6-0.6l-16.5-2.7l-12.4-5l-5.9-9.2l-1.8-11.6z" fill="#dc4b6a"/><path d="M513.3 1793.5l6.3-5l9.2 0.7l7.3 4.3l3.8 9l2 12.8l0.4 11.3l-1.3 8.8l-2.9 7.4l-4.1 4.6l-6.1 2.1l-7.2-0.6l-5.4-5.7l-2.8-15l-1-20.2z" fill="#8a1e97"/><path d="M534 1837l9.3-2.5l12.3-0.3l9.5 2.8l5.2 7.7l2.3 10.7l-1.3 8.6l-7 5l-10.6 2.9l-9.3 0.4l-6.5-3l-5-5.4l-3-6.2l-1-7.2l1-7.9z" fill="#eb5c61"/><path d="M575.5 1839.1l6.1-2.9l8.2-0.2l6.4 3.1l3.3 8.2l1.5 11.4l-0.6 9.4l-3.6 5.8l-5.6 3.7l-5.4 0.9l-4.8-2.6l-4.6-5.4l-3-6.5l-1.1-8.5l0.6-9.6z" fill="#f1665e"/><path d="M494.6 1855.7l6.4-5.7l9.1-2.9l7.3 0.3l3.7 4.7l1.8 8l0.7 8l-0.3 7.1l-1.4 7l-2.4 6.6l-3.6 7.1l-4.6 6.6l-4.3 2.9l-3.9-2.4l-3.7-6.2l-2.7-8l-2.2-10.7l-1.4-12.6z" fill="#922196"/><path d="M515.3 1878.5l8.3-2.8l12 0.2l8.8 2.6l3 5.9l-0.1 8.2l-2.9 6.6l-7.2 4.4l-10 2.8l-7.7-1l-4.2-7.5l-1.8-11.2z" fill="#e15167"/><path d="M150.3 1580l19.8-15l27.3 0l20.3 15l9.3 39.9l2.3 54.9l-6.4 39.9l-21.1 15l-29.8-0l-21.7-15l-7.8-39.9l0.2-54.9z" fill="#fda972"/><path d="M390.9 1938.6l8.2-3l11.8-1l9 1.9l4.5 6.8l1.7 9.7l-2 7l-8.1 2.5l-11.9-0.1l-9-2.4l-4.5-6.3l-1.7-8.6z" fill="#bf387b"/><path d="M388.8 1942.9l7.9-5.2l10.2-2.3l7.8 2.3l4.3 9.6l1.9 14.2l-1 12.5l-5.2 9.6l-8 7.8l-7.5 3.3l-6.3-3.5l-5.8-8l-3.5-9.2l-0.5-10.6l1.7-11.7z" fill="#ad2e88"/><path d="M689.5 1704.4l20.2 4.4l24.7 10.7l17.3 10.8l5.8 9.2l-1.7 9.2l-9.3 7.5l-21.7 6.2l-29.1 4.4l-21.7-0.2l-7.7-7.3l-0.2-11.9l2.7-11.9l3.4-12.5l6.4-12.5z" fill="#d24470"/><path d="M622.1 1922.1l14.6 14.4l19.2 21.3l12.9 16.2l1.9 7.1l-4.4 1.9l-7.9-3.9l-13.2-13l-16.7-18.8l-11.6-14.8l-3.2-8.5l1.9-4.4z" fill="#bf387b"/><path d="M559.9 2031l6.9 5.6l8.7 8.4l5.1 6.7l-0.9 3.9l-4.4 2.1l-5-0.8l-5.6-5.6l-6.1-8.4l-3.9-6.7l-0.4-3.9l2-2.1z" fill="#d24470"/></g></g><g mask="url(#mkb1)"><g filter="url(#cbb)"><rect x="100.9" y="1321.0" width="776.0" height="826.8000000000002" fill="#fdb67a"/><path d="M501 1628.8l5.5-12.3l5.4-15.1l5.7-14l6-11.8l6.2-10.6l6.5-8.7l6.3-6.8l6.6-4.9l7.8-2.8l8.5-1.4l9.6 0.7l13 4.8l20.6 11.4l24 15.6l17.6 14.5l6.4 11.1l-0.1 10l-2.1 10l-2.9 10.7l-4.9 10.8l-6.7 9.6l-8 9.2l-9.9 8.1l-13.3 3.4l-19.2-5l-22.6-9.6l-20.4-6.1l-15.8 1.1l-13.5 4.6l-12.1 4.7l-11.1 3.5l-9.7 3.5l-8.3 3.3l-6.7 3.6l-5.3 3.3l-4.6 1.4l-5-1.3l-4.3-3.1l-1-3.9l4.1-4.5l7.4-5.2l7.1-4.8l5.7-3.5l5.5-3.1l5.4-3.8l5.6-4.1l5.5-4.8z" fill="#f5725f"/><path d="M420.1 1556.3l2.7-2.2l3.8-0.4l2.9 1.5l1.3 4.8l0.4 6.8l-0.7 5l-2.6 2.2l-3.8 0.4l-2.9-1.5l-1.4-4.8l-0.4-6.8z" fill="#ce4272"/><path d="M594.3 1566.6l6.9-3.3l9.3-1.4l8.7 0.6l7.6 2.8l7.2 4.9l6 6.8l4.7 9.1l3.6 11l2 11l0.2 10.8l-1.5 10.7l-2.8 9.6l-4.3 8.8l-5.7 7.7l-6.6 4.3l-8.2-0.4l-9-3.9l-7.7-6.1l-5.5-8.8l-4-11.2l-2.9-11.1l-1.7-10.8l-0.6-10.7l0.2-9.6l0.1-8.3l0.9-7.2z" fill="#9b2495"/><path d="M598.5 1597.7l6.3-4.2l9 0.4l7.5 3.8l4.5 8.5l2.9 11.9l0.9 10.7l-1.8 8.9l-3.8 7.7l-4.8 4.2l-6.2-0l-7.1-3.5l-5.3-6.9l-2.9-13l-1-16.6z" fill="#671e90"/><path d="M436.5 1640l14-4.6l18.1-1.2l13.6 5.8l5.5 18l0.9 25l-2.3 19.2l-6.3 8.1l-9.5 2.3l-9.1 0l-7.5-1.2l-7.1-3.4l-6.1-5.8l-5.5-8.8l-4.7-11.2l-2.3-11.1l-0.1-11.5l2.1-11.5z" fill="#f2675e"/><path d="M471.8 1640l20.7-6.1l30 0.7l21.9 5.4l6.5 11.1l-1.5 15.8l-5 14.6l-8.1 12.6l-11.5 11.6l-11.5 6.9l-11.2 1.5l-11.1-3.1l-8.8-8.8l-8.1-19.2l-5.8-25z" fill="#b13084"/><path d="M513.3 1652.4l25.1-5.9l32.7 0.2l25.1 5.7l11.8 13.7l4.1 19.2l-1.4 16.9l-7.4 12.5l-13 10.1l-14.8 6.4l-17.1 1.7l-18.9-2.1l-15.9-3.7l-11.7-3.8l-8.8-5.3l-4.3-9.6l-0.7-17.9l3.8-22.2z" fill="#6a1e91"/><path d="M575.5 1650.4l10.4-2.6l16.7 4.4l12.3 8.5l4 14.1l-0.4 18.2l-3.6 15.4l-7.1 10.2l-10.3 7.5l-11.7 5.1l-16.2 3.5l-17.5 1.2l-7.7-2.6l11.6-7.1l21.6-10.9l14.5-13.1l-2.9-18l-10-20.4z" fill="#3c256f"/><path d="M606.6 1640l11.5-5.4l17.3 0.4l12.7 5l4.2 11.9l-0.4 16.5l-3.8 13.1l-8.9 8l-12.3 4.6l-9.9-2.3l-7-14.5l-4.6-21.6z" fill="#4f2486"/><path d="M461.4 1727.1l39.3-2.4l55.5 2.9l40 5.7l11.3 8.9l-4.1 11.7l-11.3 10.5l-18.7 9.1l-25.8 7.9l-24 3.8l-20-1.9l-18.2-6l-13.6-8.7l-11.9-13.8l-7.3-16.5z" fill="#4f2486"/><path d="M384.7 1747.8l23.3-5l33.1-1.4l24.5 2.3l6.7 7.1l-1.7 10.7l-0.9 11.2l3.1 11.2l4 11.7l5.4 10.3l8.4 7.8l9.8 6.5l6.6 6.4l2.2 7.6l-1.1 7.5l-5.2 5.7l-10.9 2.3l-15.1 0.4l-15.5 1.4l-16 5.4l-16.4 6.3l-13.2 0.8l-8-8.6l-4.7-14.2l-3.9-14.6l-3.4-13.6l-2.6-14.2l-2.3-13.6l-5.4-14l-5.3-13.5z" fill="#e65664"/><path d="M419.9 1768.6l9.4-3.3l13.5 0l10.3 3.3l4.9 8.6l1.7 11.8l-2.4 8.6l-9.4 3.2l-13.5 0l-10.3-3.2l-4.9-8.6l-1.7-11.8z" fill="#a72a8c"/><path d="M405.4 1785.2l6.4-1.9l9.4 2.3l9.1 3.7l8.6 4.5l8.4 5.8l5.8 6.3l2.8 7.2l0.2 7.7l-3 5.8l-8 3.3l-11.2 1.3l-9.8-0.4l-7-2.2l-5.6-4l-4-6.3l-2.8-10.9l-1.1-13.2z" fill="#5a228a"/><path d="M453.1 1747.8l5.9-4.1l10 0l9 4.1l6.5 9.7l5.5 13.8l4.6 13.9l4.5 13.9l3.5 14l0.3 9.4l-4.9 2.8l-8.2-1.9l-7.6-5.1l-6-8.7l-5.6-12l-5-12.4l-5.9-13.6l-5.3-13.9z" fill="#621f8e"/><path d="M378.5 1826.6l9-6.9l6.8-3.4l4.9 0l3.3 4.6l1.5 8l-0.6 8.1l-3.3 7.3l-5.3 7.3l-6 6.1l-6.3 4.3l-6.9 3l-7.5 3.1l-8.7 4.2l-9.1 4.3l-7.1 1.9l-5.2-0.8l-3.2-3.1l2.2-6.5l11.1-12.7l16.3-16.1z" fill="#4a2480"/><path d="M523.6 1839.1l11.1-4l15.2-1.5l15.2-0.7l14.1-1.4l14-0.7l13.4 2.1l13.5 6.2l12.8 9l8.9 9.6l3 10.1l-0.9 10.8l-2.1 10.2l-1.3 10l-2.6 9.4l-6.4 7.6l-12.4 5.2l-16.3 3.3l-17 1.9l-17.9 1.1l-18.7-0.4l-15.2-2.8l-10.2-6.4l-6.8-8.9l-3.7-9.6l0.1-10l3.2-10.6l2.9-10.5l0.1-10.7l-0-10.4z" fill="#fb8863"/><path d="M544.4 1756.1l17-4l23.5-0.7l17.5 4.7l5.9 14l-0.2 19.5l-1.5 16.3l-0.8 10.1l-2.1 6.9l-5.4 3.7l-11.1 0.3l-14.3-2.9l-11.9-5.7l-7.7-9.3l-5.4-12.2l-3.5-11.6l-3.4-11.1l-1.5-10.6z" fill="#47247d"/><path d="M561 1810l12.3-3.1l17.5 0.1l13.7 3l5.9 7.6l2 10.6l0.4 8.8l0.3 5.4l-1.3 3.5l-5.2 1.5l-12.6-0.6l-16.5-2.7l-12.4-5l-5.9-9.2l-1.8-11.6z" fill="#b13084"/><path d="M513.3 1793.5l6.3-5l9.2 0.7l7.3 4.3l3.8 9l2 12.8l0.4 11.3l-1.3 8.8l-2.9 7.4l-4.1 4.6l-6.1 2.1l-7.2-0.6l-5.4-5.7l-2.8-15l-1-20.2z" fill="#3f2574"/><path d="M534 1837l9.3-2.5l12.3-0.3l9.5 2.8l5.2 7.7l2.3 10.7l-1.3 8.6l-7 5l-10.6 2.9l-9.3 0.4l-6.5-3l-5-5.4l-3-6.2l-1-7.2l1-7.9z" fill="#ce4272"/><path d="M575.5 1839.1l6.1-2.9l8.2-0.2l6.4 3.1l3.3 8.2l1.5 11.4l-0.6 9.4l-3.6 5.8l-5.6 3.7l-5.4 0.9l-4.8-2.6l-4.6-5.4l-3-6.5l-1.1-8.5l0.6-9.6z" fill="#dc4b6a"/><path d="M494.6 1855.7l6.4-5.7l9.1-2.9l7.3 0.3l3.7 4.7l1.8 8l0.7 8l-0.3 7.1l-1.4 7l-2.4 6.6l-3.6 7.1l-4.6 6.6l-4.3 2.9l-3.9-2.4l-3.7-6.2l-2.7-8l-2.2-10.7l-1.4-12.6z" fill="#47247d"/><path d="M515.3 1878.5l8.3-2.8l12 0.2l8.8 2.6l3 5.9l-0.1 8.2l-2.9 6.6l-7.2 4.4l-10 2.8l-7.7-1l-4.2-7.5l-1.8-11.2z" fill="#902097"/><path d="M150.3 1580l19.8-15l27.3 0l20.3 15l9.3 39.9l2.3 54.9l-6.4 39.9l-21.1 15l-29.8-0l-21.7-15l-7.8-39.9l0.2-54.9z" fill="#fc9267"/><path d="M390.9 1938.6l8.2-3l11.8-1l9 1.9l4.5 6.8l1.7 9.7l-2 7l-8.1 2.5l-11.9-0.1l-9-2.4l-4.5-6.3l-1.7-8.6z" fill="#881e97"/><path d="M388.8 1942.9l7.9-5.2l10.2-2.3l7.8 2.3l4.3 9.6l1.9 14.2l-1 12.5l-5.2 9.6l-8 7.8l-7.5 3.3l-6.3-3.5l-5.8-8l-3.5-9.2l-0.5-10.6l1.7-11.7z" fill="#6a1e91"/><path d="M689.5 1704.4l20.2 4.4l24.7 10.7l17.3 10.8l5.8 9.2l-1.7 9.2l-9.3 7.5l-21.7 6.2l-29.1 4.4l-21.7-0.2l-7.7-7.3l-0.2-11.9l2.7-11.9l3.4-12.5l6.4-12.5z" fill="#7c1b98"/><path d="M622.1 1922.1l14.6 14.4l19.2 21.3l12.9 16.2l1.9 7.1l-4.4 1.9l-7.9-3.9l-13.2-13l-16.7-18.8l-11.6-14.8l-3.2-8.5l1.9-4.4z" fill="#881e97"/><path d="M559.9 2031l6.9 5.6l8.7 8.4l5.1 6.7l-0.9 3.9l-4.4 2.1l-5-0.8l-5.6-5.6l-6.1-8.4l-3.9-6.7l-0.4-3.9l2-2.1z" fill="#a22890"/></g></g><g mask="url(#mkb2)"><g filter="url(#cbb)"><rect x="100.9" y="1321.0" width="776.0" height="826.8000000000002" fill="#fdcc8b"/><path d="M501 1628.8l5.5-12.3l5.4-15.1l5.7-14l6-11.8l6.2-10.6l6.5-8.7l6.3-6.8l6.6-4.9l7.8-2.8l8.5-1.4l9.6 0.7l13 4.8l20.6 11.4l24 15.6l17.6 14.5l6.4 11.1l-0.1 10l-2.1 10l-2.9 10.7l-4.9 10.8l-6.7 9.6l-8 9.2l-9.9 8.1l-13.3 3.4l-19.2-5l-22.6-9.6l-20.4-6.1l-15.8 1.1l-13.5 4.6l-12.1 4.7l-11.1 3.5l-9.7 3.5l-8.3 3.3l-6.7 3.6l-5.3 3.3l-4.6 1.4l-5-1.3l-4.3-3.1l-1-3.9l4.1-4.5l7.4-5.2l7.1-4.8l5.7-3.5l5.5-3.1l5.4-3.8l5.6-4.1l5.5-4.8z" fill="#fc9e6d"/><path d="M420.1 1556.3l2.7-2.2l3.8-0.4l2.9 1.5l1.3 4.8l0.4 6.8l-0.7 5l-2.6 2.2l-3.8 0.4l-2.9-1.5l-1.4-4.8l-0.4-6.8z" fill="#f6735f"/><path d="M594.3 1566.6l6.9-3.3l9.3-1.4l8.7 0.6l7.6 2.8l7.2 4.9l6 6.8l4.7 9.1l3.6 11l2 11l0.2 10.8l-1.5 10.7l-2.8 9.6l-4.3 8.8l-5.7 7.7l-6.6 4.3l-8.2-0.4l-9-3.9l-7.7-6.1l-5.5-8.8l-4-11.2l-2.9-11.1l-1.7-10.8l-0.6-10.7l0.2-9.6l0.1-8.3l0.9-7.2z" fill="#fda972"/><path d="M598.5 1597.7l6.3-4.2l9 0.4l7.5 3.8l4.5 8.5l2.9 11.9l0.9 10.7l-1.8 8.9l-3.8 7.7l-4.8 4.2l-6.2-0l-7.1-3.5l-5.3-6.9l-2.9-13l-1-16.6z" fill="#f6725f"/><path d="M436.5 1640l14-4.6l18.1-1.2l13.6 5.8l5.5 18l0.9 25l-2.3 19.2l-6.3 8.1l-9.5 2.3l-9.1 0l-7.5-1.2l-7.1-3.4l-6.1-5.8l-5.5-8.8l-4.7-11.2l-2.3-11.1l-0.1-11.5l2.1-11.5z" fill="#fc9769"/><path d="M471.8 1640l20.7-6.1l30 0.7l21.9 5.4l6.5 11.1l-1.5 15.8l-5 14.6l-8.1 12.6l-11.5 11.6l-11.5 6.9l-11.2 1.5l-11.1-3.1l-8.8-8.8l-8.1-19.2l-5.8-25z" fill="#ee605f"/><path d="M513.3 1652.4l25.1-5.9l32.7 0.2l25.1 5.7l11.8 13.7l4.1 19.2l-1.4 16.9l-7.4 12.5l-13 10.1l-14.8 6.4l-17.1 1.7l-18.9-2.1l-15.9-3.7l-11.7-3.8l-8.8-5.3l-4.3-9.6l-0.7-17.9l3.8-22.2z" fill="#d24470"/><path d="M575.5 1650.4l10.4-2.6l16.7 4.4l12.3 8.5l4 14.1l-0.4 18.2l-3.6 15.4l-7.1 10.2l-10.3 7.5l-11.7 5.1l-16.2 3.5l-17.5 1.2l-7.7-2.6l11.6-7.1l21.6-10.9l14.5-13.1l-2.9-18l-10-20.4z" fill="#ad2e88"/><path d="M606.6 1640l11.5-5.4l17.3 0.4l12.7 5l4.2 11.9l-0.4 16.5l-3.8 13.1l-8.9 8l-12.3 4.6l-9.9-2.3l-7-14.5l-4.6-21.6z" fill="#bf387b"/><path d="M461.4 1727.1l39.3-2.4l55.5 2.9l40 5.7l11.3 8.9l-4.1 11.7l-11.3 10.5l-18.7 9.1l-25.8 7.9l-24 3.8l-20-1.9l-18.2-6l-13.6-8.7l-11.9-13.8l-7.3-16.5z" fill="#bf387b"/><path d="M384.7 1747.8l23.3-5l33.1-1.4l24.5 2.3l6.7 7.1l-1.7 10.7l-0.9 11.2l3.1 11.2l4 11.7l5.4 10.3l8.4 7.8l9.8 6.5l6.6 6.4l2.2 7.6l-1.1 7.5l-5.2 5.7l-10.9 2.3l-15.1 0.4l-15.5 1.4l-16 5.4l-16.4 6.3l-13.2 0.8l-8-8.6l-4.7-14.2l-3.9-14.6l-3.4-13.6l-2.6-14.2l-2.3-13.6l-5.4-14l-5.3-13.5z" fill="#fb8762"/><path d="M419.9 1768.6l9.4-3.3l13.5 0l10.3 3.3l4.9 8.6l1.7 11.8l-2.4 8.6l-9.4 3.2l-13.5 0l-10.3-3.2l-4.9-8.6l-1.7-11.8z" fill="#ea5c61"/><path d="M405.4 1785.2l6.4-1.9l9.4 2.3l9.1 3.7l8.6 4.5l8.4 5.8l5.8 6.3l2.8 7.2l0.2 7.7l-3 5.8l-8 3.3l-11.2 1.3l-9.8-0.4l-7-2.2l-5.6-4l-4-6.3l-2.8-10.9l-1.1-13.2z" fill="#c73d77"/><path d="M453.1 1747.8l5.9-4.1l10 0l9 4.1l6.5 9.7l5.5 13.8l4.6 13.9l4.5 13.9l3.5 14l0.3 9.4l-4.9 2.8l-8.2-1.9l-7.6-5.1l-6-8.7l-5.6-12l-5-12.4l-5.9-13.6l-5.3-13.9z" fill="#eb5c61"/><path d="M378.5 1826.6l9-6.9l6.8-3.4l4.9 0l3.3 4.6l1.5 8l-0.6 8.1l-3.3 7.3l-5.3 7.3l-6 6.1l-6.3 4.3l-6.9 3l-7.5 3.1l-8.7 4.2l-9.1 4.3l-7.1 1.9l-5.2-0.8l-3.2-3.1l2.2-6.5l11.1-12.7l16.3-16.1z" fill="#de4e69"/><path d="M523.6 1839.1l11.1-4l15.2-1.5l15.2-0.7l14.1-1.4l14-0.7l13.4 2.1l13.5 6.2l12.8 9l8.9 9.6l3 10.1l-0.9 10.8l-2.1 10.2l-1.3 10l-2.6 9.4l-6.4 7.6l-12.4 5.2l-16.3 3.3l-17 1.9l-17.9 1.1l-18.7-0.4l-15.2-2.8l-10.2-6.4l-6.8-8.9l-3.7-9.6l0.1-10l3.2-10.6l2.9-10.5l0.1-10.7l-0-10.4z" fill="#fdae74"/><path d="M544.4 1756.1l17-4l23.5-0.7l17.5 4.7l5.9 14l-0.2 19.5l-1.5 16.3l-0.8 10.1l-2.1 6.9l-5.4 3.7l-11.1 0.3l-14.3-2.9l-11.9-5.7l-7.7-9.3l-5.4-12.2l-3.5-11.6l-3.4-11.1l-1.5-10.6z" fill="#b8347f"/><path d="M561 1810l12.3-3.1l17.5 0.1l13.7 3l5.9 7.6l2 10.6l0.4 8.8l0.3 5.4l-1.3 3.5l-5.2 1.5l-12.6-0.6l-16.5-2.7l-12.4-5l-5.9-9.2l-1.8-11.6z" fill="#ee605f"/><path d="M513.3 1793.5l6.3-5l9.2 0.7l7.3 4.3l3.8 9l2 12.8l0.4 11.3l-1.3 8.8l-2.9 7.4l-4.1 4.6l-6.1 2.1l-7.2-0.6l-5.4-5.7l-2.8-15l-1-20.2z" fill="#b03085"/><path d="M534 1837l9.3-2.5l12.3-0.3l9.5 2.8l5.2 7.7l2.3 10.7l-1.3 8.6l-7 5l-10.6 2.9l-9.3 0.4l-6.5-3l-5-5.4l-3-6.2l-1-7.2l1-7.9z" fill="#f6735f"/><path d="M575.5 1839.1l6.1-2.9l8.2-0.2l6.4 3.1l3.3 8.2l1.5 11.4l-0.6 9.4l-3.6 5.8l-5.6 3.7l-5.4 0.9l-4.8-2.6l-4.6-5.4l-3-6.5l-1.1-8.5l0.6-9.6z" fill="#f97c60"/><path d="M494.6 1855.7l6.4-5.7l9.1-2.9l7.3 0.3l3.7 4.7l1.8 8l0.7 8l-0.3 7.1l-1.4 7l-2.4 6.6l-3.6 7.1l-4.6 6.6l-4.3 2.9l-3.9-2.4l-3.7-6.2l-2.7-8l-2.2-10.7l-1.4-12.6z" fill="#b8347f"/><path d="M515.3 1878.5l8.3-2.8l12 0.2l8.8 2.6l3 5.9l-0.1 8.2l-2.9 6.6l-7.2 4.4l-10 2.8l-7.7-1l-4.2-7.5l-1.8-11.2z" fill="#fb8260"/><path d="M150.3 1580l19.8-15l27.3 0l20.3 15l9.3 39.9l2.3 54.9l-6.4 39.9l-21.1 15l-29.8-0l-21.7-15l-7.8-39.9l0.2-54.9z" fill="#fdb77a"/><path d="M390.9 1938.6l8.2-3l11.8-1l9 1.9l4.5 6.8l1.7 9.7l-2 7l-8.1 2.5l-11.9-0.1l-9-2.4l-4.5-6.3l-1.7-8.6z" fill="#de4e69"/><path d="M388.8 1942.9l7.9-5.2l10.2-2.3l7.8 2.3l4.3 9.6l1.9 14.2l-1 12.5l-5.2 9.6l-8 7.8l-7.5 3.3l-6.3-3.5l-5.8-8l-3.5-9.2l-0.5-10.6l1.7-11.7z" fill="#d24470"/><path d="M689.5 1704.4l20.2 4.4l24.7 10.7l17.3 10.8l5.8 9.2l-1.7 9.2l-9.3 7.5l-21.7 6.2l-29.1 4.4l-21.7-0.2l-7.7-7.3l-0.2-11.9l2.7-11.9l3.4-12.5l6.4-12.5z" fill="#f46e5f"/><path d="M622.1 1922.1l14.6 14.4l19.2 21.3l12.9 16.2l1.9 7.1l-4.4 1.9l-7.9-3.9l-13.2-13l-16.7-18.8l-11.6-14.8l-3.2-8.5l1.9-4.4z" fill="#de4e69"/><path d="M559.9 2031l6.9 5.6l8.7 8.4l5.1 6.7l-0.9 3.9l-4.4 2.1l-5-0.8l-5.6-5.6l-6.1-8.4l-3.9-6.7l-0.4-3.9l2-2.1z" fill="#e85963"/></g></g></g><path d="M413.9 1933.7l-5.5-0.7l-3.8-0.3l-3.3 0.1l-2.9 0.5l-2.4 0.8l-2.2 1.2l-1.9 1.4l-1.6 2l-1.6 2.6l-1.3 4.8l-0.2 10l-0.3 10.9l-2 6.6l-1.5 8.2l1.3 17.5l2.2 17l1.5 7.3l1.5 3.7l1.9 3.6l1.9 2.6l1.9 2.1l2.2 1.6l2.5 1.4l2.8 1.1l2.9 0.7l3.3 0.3l3.8-0.2l3.9-0.7l4.1-1.6l3.7-2.2l2.5-2.3l2-2.7l1.6-2.4l1.2-3.7l1.4-7.1l0.4-8.9l-2.3-10.8l-2.7-10.1l-0.7-6.4l0.2-4.7l0.5-4.2l1.5-4.4l3.4-6.9l3.4-6.7l1.4-4.1l0.5-3.3l-0.2-3.2l-0.8-2.9l-0.8-2.4l-3.3-2.1l-9.7-1.7zM692.5 1991.5l-4 0.1l-3.8 0.9l-3.3 1.5l-2.9 2.6l-2.7 4l-2.1 4.6l-1 4.4l-0.2 4.2l0.5 3.8l1.5 3.6l2.5 3.8l3.1 3.5l3 2.4l3.2 1.6l3.8 1.1l3.9 0.4l4-0.7l3.8-1.5l2.9-2l2.4-2.5l2-2.8l1.5-3.3l1-4.3l0.4-4.3l-0.3-3.8l-1-3.6l-1.9-3.7l-2.4-3.2l-2.9-2.6l-3.3-2l-3.8-1.4zM539.3 1381.2l-5.8-0.8l-5.1-0.1l-5.4 0.2l-5.4 0.6l-5.5 1.1l-5.3 1.4l-4.3 1.3l-5 2.4l-8.3 4.8l-8.7 6.5l-7.1 7.4l-6 8.5l-4.7 9.1l-3.5 11.9l-2.1 18.9l-1.7 19.2l-2.2 11.2l-3.7 11.2l-7.8 20l-7.7 18l-2.6 5l-2 1.5l-5.5 5.1l-5.3 5.1l-2.6 3.4l-1.5 3.2l-1.4 3.4l-1.1 5.2l-0.7 10.3l-0.7 10.6l0 4.4l-2.9 7.3l-11.8 22l-11.7 21.7l-2.5 7.1l0.5 2.7l-0.1 4.4l0.5 4.2l1 4.4l1.6 4.3l0.9 3l4.6 4.7l16.1 11.5l16.4 10.7l5 2.2l2.7-0.9l7-1.3l7-1.1l4 0.3l3.7 2.1l5.7 5.2l5.1 5.9l2.4 3.8l1 3.1l0.7 2.4l-0.2 2.5l-1.5 3.3l-3.1 4.1l-4.8 4.9l-8.4 5.5l-16.8 6.1l-17.2 5.2l-10.3 1.8l-6.8 1l-3.7 1.5l-1.7 2.3l-1.8 2.5l0.2 6.1l5 15.2l5.6 16.8l2.5 11.8l1.1 9.1l0.3 6.2l-1 4.9l-2.3 5.5l-3.8 5.6l-5.5 4.6l-7.2 6.2l-10.4 11.5l-9.3 10.9l-3.1 4.1l-0.8 2l-1 2.6l-0.2 2.4l0.5 2.5l1.1 2.4l1.8 1.8l2.8 1.6l4.5 1.8l4.8 1.3l4 0.1l3.3-0.5l2.2-0.9l1.5-1.5l1.5-1.4l1.4-3.6l1.5-9.8l1.6-9.8l1.5-3.2l1.6-1l2-1.7l2.6-1.5l-0.4-0.5l8.2-2.4l36.4-9.3l37.9-9.1l14-2.5l5.4 0.4l3.5 1.3l1.1 2.4l1.2 2l-0.8 4.1l-5.3 10.1l-5.7 10.9l-2.1 6.7l-0.5 5.6l0.6 5.7l1.5 5.3l2.1 4.8l3.5 4.9l6.6 6.7l7.4 6.4l6.5 4.5l5.8 3l2.4 1.1l5.4 0.6l16.6 1.4l20.5 0.8l21.1-1.7l17.6-2.4l6.6-1.3l2.7-1.5l4.1-2.8l3.6-3.2l2.8-2.6l2.7-3.9l3.5-7.6l3.1-8.4l1.6-7.1l0.7-6.4l-0-5.8l-0.8-5.3l-1-3.8l-3.1-6l-9.3-14.3l-9.5-14.5l-4.1-7.7l-2-5l-1.2-3.2l-0.4-4.6l-0-10.8l-0.5-12.5l-3.2-12l-3.1-10.2l-1-4.7l0.2-5.1l0.7-12l1.9-13.9l4.4-12.7l4.9-13.1l3.6-15.4l2.9-13.4l1.8-5.2l2.9-4.2l7.4-10.3l7.6-10.6l4.2-6.6l2.8-5.7l2.7-6.7l1.9-6.8l0.9-6.9l0.1-6.7l-0.7-5.7l-1.4-5.3l-1.9-5.1l-2.5-4.8l-2.5-3.9l-3.9-4.7l-7.4-6.9l-8.9-9.3l-9.5-14.1l-8.3-14l-4.5-8.5l-2.4-6.5l-1.5-5.3l-0.1-7.1l1.9-13.9l2.2-15.3l1.1-13.3l0.4-11.3l-0.4-7.5l-1.3-6l-1.7-6.1l-2.9-6.2l-4.4-7.1l-5.7-7.2l-7.3-7l-8.2-6.3l-8.4-5.3l-8.6-4.2l-8.9-3zM516.1 1773.8l2.5 1.2l2.1 2.1l1.1 3.2l0.1 3.4l-1.7 3l-2.6 2.4l-3.1 1.2l-3.1 0.1l-2.1-1l-1.3-2l-0.8-2.9l0.2-3.3l1.7-3.3l2.3-2.7l2.3-1.2zM728.1 1735.6l-1.7 0.1l-1.4 0.7l-0.9 0.8l-0.1 1l1 1.4l1.5 1.1l1.7-0.1l1.4-0.6l1-0.8l0.2-1l-1.1-1.5zM184.9 1579.2l-3.8-0.9l-3.9 0.3l-4.7 1.4l-4.6 2.3l-3.9 3.1l-3.3 3.9l-2.7 4.5l-1.9 5.3l-0.9 6.1l0.4 7.5l2.9 10.6l3.2 10.3l1.5 4.4l0.2 6.6l-2.2 19.9l-2 19.5l1 6.5l2.3 2.1l3.2 3.1l3.7 2.1l3.4 0.8l4.4-0.2l6.6-2l7.3-1.4l6.9 2.2l5.5 2.6l2.2 0l0.9-1.1l1.2-1.6l0.2-3.2l-2.1-5.2l-3.2-8.4l-3.8-15.8l-3-14.9l-0.3-4l1.7-2.3l4.5-8.1l4.5-9l1.1-7.2l-0.5-6.3l-1.2-5.7l-1.9-5.4l-2.6-5.8l-3-5.3l-2.6-3.7l-3-2.9l-3.7-2.7zM413.9 2001.4l-3 0l-3.2 0.5l-3.2 1.4l-3 1.7l-2 1.8l-1.5 2.1l-1.2 2.3l-0.6 2.6l-0.2 3l0.3 3.1l0.8 2.8l1.3 2.5l2.2 2.4l2.5 1.9l2.2 1.1l2.4 0.5l3.1 0l3.1-0.4l2.5-0.8l2.2-1.3l1.9-1.6l1.6-2.1l1.3-3l1-3.2l0.3-3.1l-0.2-3l-0.6-2.6l-1.1-2.4l-1.9-2.5l-2.3-2.1l-2.2-1.1zM692.5 2000.2l-2.4 0.2l-2.3 0.7l-2 1.2l-1.8 1.7l-1.5 2.3l-1.1 2.6l-0.5 2.4l-0 2.5l0.5 2.5l0.9 2.4l1.3 2l1.6 1.7l2 1.5l2.2 1.1l2.3 0.5l2.3 0.2l2.4-0.5l2.3-0.8l1.6-1.1l1.5-1.4l1.4-2l1.1-2.4l0.6-2.4l0.1-2.5l-0.4-2.6l-0.8-2.4l-1.1-1.9l-1.6-1.7l-1.8-1.6l-2.2-1.1l-2.3-0.8zM404.6 1949.7l-1.5 0.9l-0.8 1.7l0.9 1.7l1.4 1.4l1.1-0l0.9-0.7l0.9-1.1l0.2-1.3l-1.3-1.6zM534.6 1392.3l-7.2 0l-8.2 0.9l-8.7 2.5l-8.4 3.7l-7.2 4.7l-6.3 5.5l-5.1 5.9l-4.2 6.4l-3.2 5.8l-3 9l-4 18.5l-4.1 19l-2.3 8.9l-3.9 9.9l-10.2 23.7l-10 22.1l-2.9 5.4l-1.7 0.9l-5.6 4.9l-5.5 4.8l-2.7 3.2l-1.5 3l-1.2 2.8l-0.9 4.6l-0.6 9.5l-0.6 10.1l-1.1 6.6l-1.8 5.7l-2.3 6.1l-4 7.8l-8.2 13.7l-7.8 13.1l-2.3 5.5l-0.4 3.1l-0.5 3.7l0.2 3.6l0.7 4.1l1.3 4l0.8 2.7l3.8 4l12 9.1l12.8 8.7l5.9 3.3l4.9 0.6l8.6-1.5l8.4-1.7l5.2 0.3l4.1 1.5l3.4 1.8l4.7 5l9.9 13.8l9.9 14l4.5 5.5l3.2 2.5l3.5 2.2l5.8 1.9l12.5 3.3l12.8 3.5l7.1 3.3l4.1 2.9l1.5 1.7l-0.4 2l-1.7 4.1l-1.8 4.5l-0.7 2.2l0.5 4l3.6 11.9l3.3 11.4l0 2.6l-2.1-0.2l-5.2 0.6l-5.7 0.6l-3.3 1l-2.9 1.6l-3.7 2.8l-3.6 3.3l-2.8 3.7l-2 3.7l-1 2.4l0.5 3.8l3.7 8.8l4 9.6l1.3 6.6l0.1 5.7l-0.7 5.9l-2 6.4l-4.8 8.4l-4.4 7.9l-0.9 4.9l0.8 3.5l1.3 3l1.9 2.6l1.8 2.2l2.8 2.4l5.2 4.2l5.5 4l1.5 1.7l4.8 1.5l18 3.2l19.2 2.9l8.7 0.8l6.7-0.3l11.1-1.2l10.6-2l7-2.2l5.4-2.9l5.1-4.2l4.2-5.1l2.8-6.6l1.8-6.5l0.7-4.6l-0.2-4l0.5-1.9l-2.5-6.7l-12.2-24l-12-24l-2.3-6.2l0.7-2.4l0.3-9.3l0.3-9.2l0.5-3.1l-1.7-5.5l-8.8-17.7l-7.3-19.2l4.1-11l7.4-9.1l5.3-9.5l4.9-12.3l3.9-20.4l5.1-21.4l10.2-16.7l9.9-12.8l4-6.9l2-4.2l1.7-4.6l1-4.3l0.6-4.7l-0.1-4.9l-0.7-4.8l-1.6-5l-2.5-5.2l-3.4-5.1l-4.2-4.5l-5.1-4.5l-7.3-5.3l-6.7-4.3l-2.9-1.5l-1.7-0.2l-0.9-0.6l-3.7 0.4l-14 3.2l-13.9 3l-3.8-0.2l-0.8-1.6l-2-1.9l-1.6-2.5l-1.2-2.9l-0.6-3.2l-0.6-2.3l1.7-3.9l7.7-9l8.2-9.4l2.4-2.1l1.4-6.5l4.3-26.5l3.9-27.7l1.2-11.9l0-6.5l0-5.7l-1.1-5.4l-3-8.2l-3.7-7.8l-3.1-4.3l-3.1-3.1l-2.8-3l-4.9-3.6l-11.5-6.6l-11.8-6.2l-6.2-2.5l-4.6-1.2l-4.3-1.1zM468.1 1752.8l-11.6 1.3l-11.6 2l-5.1 1.1l-2.7 1.2l-2.2 1.1l-2.5 2l-4.2 4.7l-5 4.9l-5.8 3l-5 2.1l-1.8 1l-0.6 1.6l-0.9 3.8l-0.2 6l0.9 8.8l1.8 10.9l3.2 14.5l3.1 12.6l1.3 3.4l0.9 0.2l0.8 1l2.3 0.6l5.7 0.4l8.2-0.6l11.5-2.7l11.7-3.6l8.3-3.5l6.6-3.8l5.9-4.4l4.1-4.3l1.6-2l-0.5-4.1l-3-11.1l-3.4-13.5l-0.9-14.1l-0.6-11.8l-1.4-4.5l-2.1-1.6l-2.2-1.9zM180.3 1588l-3.2 0l-3 0.8l-3.5 1.8l-3.2 2.4l-2.4 2.8l-1.8 3.3l-1.2 3.5l-0.5 3.9l-0 3.6l1.2 6.2l4.4 12.6l3.8 15.7l-1.2 19.3l-1.8 16.4l1.1 5l2 0.6l1.9 1.4l2.7 0.2l4.2-1.2l4.3-2.3l3.3-3.4l2.3-4l0.9-3.2l-0.2-4.1l-1.6-7.4l-1.7-7.4l-0.4-4.2l0.3-3.2l1-3.3l1.9-4.1l4.4-6.7l4.3-6.8l1.7-4.6l0.4-4l-0.3-4.8l-1.1-5.1l-2.3-5.6l-2.8-5.2l-3-3.6l-3.2-2.6l-3.9-1.8zM582.6 1767.5l-2.7-0.2l-2.8 0.4l-2.7 0.9l-2.6 1.6l-2.5 2.1l-2.3 2.8l-1.8 3.2l-1.4 4.2l-0.8 3.3l-0.3 9l0.3 26l0.8 26.9l1.1 12.3l1.6 7.4l2.3 7.6l3 6.4l3.9 5.4l3.9 3.9l2.4 1.8l2.1 0.8l2.9 0.8l3.3 0.1l4.6-1.2l4.6-2.3l3.5-3.1l3.2-4.2l3-5.8l2.3-6.5l1.2-6.9l0.3-6.7l-0.4-4.6l-1.9-6.5l-5.6-13.2l-5.4-15.1l-0.6-14l0.5-11.6l-0.4-5l-1.1-3.1l-2.9-5.6l-3.3-5l-2.4-2.7l-2.3-1.5l-2.2-1.3zM531.5 1808.3l-2.4-0.1l-2.2 0.6l-2 1.3l-1.6 1.9l-1.2 2.3l-0.7 2.6l-0.5 2.1l0.5 4.1l3.3 10.3l3.7 10l1.7 3l1.4 0.5l2.3 0.9l2.4 0.2l2.3-0.7l2.3-1.5l2.4-2.4l2.3-3.1l1.7-3.6l1.3-3.8l0.6-3.8l0.1-3.6l-0.4-2.6l-1-2.3l-1.5-2.5l-2.3-2.4l-3.1-2.6l-3.5-2.3l-3.1-1.6zM444.9 1775l-2.8 0.1l-3.4 1.4l-5.5 4l-5.3 4.4l-2.9 2.8l-1.8 2.4l-1.4 2.7l-0.9 3.2l-0.1 4.2l0.6 4.4l1.3 4.1l2.1 3.7l2.8 3.2l3.3 2.5l3.8 1.5l4 0.8l3.9-0.1l3.8-0.9l3.3-1.6l2.9-2.1l2.6-2.9l2-3.3l1.4-3.4l0.8-4l0.2-4.8l-0.5-5l-1.1-4.5l-1.8-4.1l-2.3-3.6l-2.8-2.7l-3.1-1.7zM540.8 1399.7l-8.2-1.1l-7.3 0.3l-7 1.3l-6.9 2.5l-7.2 3.8l-6.7 4.8l-5.5 5.4l-4.6 6.5l-3.6 6.4l-4 10.8l-5.8 21.7l-7.5 25.6l-11.2 26.5l-10.4 21.9l-3.9 8l-2.7 3.3l-6.3 5.9l-5.9 5.2l-2.6 2.1l-1.6 4.1l-1.7 13.2l-1.6 13.8l-1.3 6.4l-1.6 4.7l-2.5 6.3l-3.9 8l-7.6 12.7l-7.2 12.4l-2.6 7.2l-0.5 5.1l0.3 4.1l1.2 3.3l0.9 2.4l3.1 3.3l9.8 7.5l10.3 7.2l4.7 3l3.1 1.2l3.1 1.1l4.6-0.2l10.1-2.6l10-2.8l4.8-0.9l2.9-0.2l2.7 0l2 0.7l1.5 1l1.6 2.7l2.4 6.4l2.8 7.1l2.7 5l2.9 4.4l3.7 4.5l4.1 4.2l4.5 3.6l4.7 3.1l3.5 1.7l5.8 1.8l13.4 3.5l14.5 3.4l10.1 1.9l8.5 0.7l6.9-0.4l7-1.5l9.7-2.7l8.8-3.1l4.7-2.4l3.1-2.6l3.2-3.3l3-4.1l3.3-5.5l3.1-6.1l2.2-4.5l1.5-7.8l-0.7-17.3l1.6-19.6l11.3-16.8l11.7-13.5l3.8-6.4l1-3.9l1.3-4.9l0.3-4.9l-0.7-5.5l-2-5.6l-3.4-5.7l-4.5-5.4l-5.5-4.5l-5.8-3.3l-5.2-1.5l-5.6 0.1l-7.3 1.9l-6.6 2.6l-3.1 1.7l-1.7 1.8l-2 2.1l-1.7 2.8l-1.1 2.6l-1.1 6l-1.5 16.6l-1.7 15.5l-2 2.5l-2.7-2.1l-4.4-1.6l-4.9-2.3l-4.1-2.5l-3.4-2.7l-2.2-2.4l-1.5-2.5l-0.9-2.9l-0.4-3.3l-0.3-2.6l1.1-4.8l4.7-11l4.5-12.3l0.1-9.6l-0.8-7.7l0.5-4.9l1-3.7l1.3-3.2l2.8-4.2l7-7.6l7.1-8.4l3-4.7l2.3-7.6l4.1-18l3.8-20.1l1.8-15.5l0.4-12.8l-1.6-9.3l-2.4-6.7l-2.2-4.3l-2.5-3l-2.1-2.8l-3.9-3.4l-8.4-5.8l-10.3-6l-11.1-4.7zM183.3 1596.5l-3-0.5l-3.1 0.1l-2.6 0.8l-2.1 1.3l-1.7 1.6l-1.4 2.1l-1.1 2.6l-0.6 3.2l0.1 4.1l0.8 4.5l1.7 5.1l2.2 4.8l2.4 3.9l2.3 2.9l1.5 1.3l1.6 0.1l2.2-0.6l2.4-1.4l2.4-2.2l2.2-2.6l1.8-2.4l1.4-2.7l1.2-2.6l0.4-3.6l-1.2-6.2l-1.7-6.1l-1.6-2.8l-1.8-1.7l-2.2-1.7zM587.2 1787.2l-1.5-0.6l-1.6-0l-1.5 0.4l-1.5 1.5l-1.7 2.3l-1.2 5.2l0.4 11.7l0.6 14.1l-0.8 14.6l-0.7 12.5l0.2 5.5l0.8 3.1l1.2 3.9l1.5 3.5l2 2.8l2.3 2.1l2.3 1l2.3 0.1l2.5-0.8l2.2-1.6l1.7-1.5l1.4-3l1.5-6.7l1-7.2l-0.2-3.8l-1.3-4.8l-3.8-9.4l-3.5-11.5l-0.5-13.3l0.2-11.3l-0.4-3.8l-0.8-1.1l-1.4-2.2zM534.6 1403.4l-5.9 0l-6.5 0.8l-7 2.2l-6.9 3.1l-5.8 3.9l-5 4.4l-4.1 4.8l-3.5 5.5l-2.6 5l-3.1 8.5l-4.9 18.8l-5.2 19.4l-2.6 8.6l-4.3 9.8l-11.7 24.7l-11.5 23.3l-3.4 6l-1.9 1.3l-5.4 5.1l-5.2 4.8l-1.7 0.9l-1.2 4.1l-2.8 17.2l-3.4 18.4l-2.5 8l-3.7 6.8l-7.3 13.2l-6.9 12.6l-2 6.2l-0 3.7l0.5 3.3l1.5 2.8l2 2.6l4 3.3l9.2 6.6l9 6l3.4 1.7l1.7 0.1l2 0.3l2.6-0.2l4.6-1.2l5.3-1.9l4-1.3l6.2-3.9l14.3-12.7l13.6-12.4l3.7-3.1l0.9-0.1l2.6-1l2.1-0.1l1.2-0.8l-0.4 4.6l-4.5 20.7l-4.5 21.1l-0.4 5.9l1.3 1.5l1.5 3.7l2.4 3.7l3.6 3.6l4.4 3.4l4 2.3l6.8 2.5l15.2 4.2l15.8 3.8l9 1.5l6.5 0.2l5.4-0.4l5.4-1.1l7.9-2.1l7.6-2.3l4.4-1.7l3.3-1.7l3.2-2l3-2.7l3.3-4l2.9-4.3l1.8-3.7l1.3-3.8l0.8-4.4l0.3-4.5l-0.1-4.1l-1.2-4.5l-2.7-6l-4.2-6.3l-5.9-5.9l-6.7-5.2l-6-3.8l-6.8-3.4l-8.4-4l-10.2-4.1l-14.8-4.4l-13.1-3.9l-3.6-1.9l-0.1-1.6l-0.6-2l0.3-2.9l1.4-4.9l2.5-6.2l2.9-6.3l5-8.4l10-13l10.1-14.2l4.9-13.4l4.4-12.1l7.9-9.8l7.4-7.7l2.8-2.9l2.2-5.7l5.2-18.5l4.9-20.9l2.3-15.6l0.5-12.7l-1.5-9l-2.3-6.2l-2.2-4.1l-2.4-2.8l-2.8-3.1l-3.4-2.9l-4.2-3.1l-5.1-3.2l-6.9-3.5l-7.1-3.3l-5.7-2.2l-5.1-1.7l-4.5-1.1zM608.9 1584.3l-2.7 0.3l-2.7 1l-2.6 1.6l-2.3 2.1l-1.5 2.3l-0.9 2.6l-0.6 2.8l-0.1 3.3l0.5 4.8l1 5.1l1.5 4.6l1.8 4l1.9 3l2.1 2.1l2.2 1.3l2.4 0.3l2.3-0.4l2.4-1.3l2.7-2.8l2.6-3.4l1.8-3.6l1.3-3.8l0.9-4.4l0.4-4.2l-0.1-3.3l-0.7-2.9l-1.4-3.2l-1.9-2.9l-2.2-2.2l-2.4-1.5l-2.8-1zM181.8 1608.5l-1.6-0.3l-1.5 0.6l-0.9 1l-0.2 1.6l1.1 3l1.6 2.6l1.3 0.2l1.3-0.9l0.8-0.9l0.3-1.5l-0.8-2.9zM540.8 1649.5l-4.3-0.3l-3.4 0.3l-3.9 0.5l-3.9 0.9l-3.9 1.3l-3.8 1.7l-3.6 2l-3.1 2.3l-2.6 2.4l-1.9 2.5l-1.5 2.3l-0.9 2.6l-0.8 3.6l-0.3 3.8l-0 2.9l0.9 3.3l2.7 5.3l4.1 5.7l6 4.8l7.1 3.8l7.5 2.7l8.1 1.6l8.6 0.4l8.4-0.7l7.4-1.8l6.5-2.6l5.7-3.3l4.5-3.6l3-3.6l1.8-3.8l0.7-4.2l-0.6-4.4l-2.2-5l-3.4-4.9l-4.2-4.2l-5.3-3.8l-6.6-3.6l-7.3-3.2l-8.1-2.2zM540.8 1408.4l-6.4-1.1l-6-0l-6.2 0.9l-6.1 1.9l-6.5 3.2l-5.9 4l-4.7 4.2l-4.1 5.3l-3.6 6.2l-3.7 9.8l-4.9 19.7l-4.8 19.7l-1.8 7.3l-3.9 8.7l-12.2 25.4l-13.6 26.2l-9.7 12.4l-7.3 9.8l-2.9 13.9l-3 16.9l-9.3 25l-8.4 21.8l-0.8 5.1l1.7-0.2l0.8 1.6l2 2.1l5 4.2l5.6 4.3l4.3 2.5l3.5 1.5l2.4 0.5l2.2-0l2.5-0.2l3.7-1.1l6.6-3.2l7.3-4.2l4.7-3.4l7.7-7l19.1-18l18.3-17.8l4.2-4.3l1-3l4.5-12l7.1-14.1l12.3-12.4l12.4-11.6l6.6-10.5l5.3-9.6l7.7-8.9l6.7-7.5l2.6-2.4l2.3-5.8l6.2-21l5.9-22.2l1.9-10.5l0.1-6.6l-0.3-6.6l-1.3-5.7l-2.2-5.1l-3.2-4.7l-3.9-4.4l-5.4-4.2l-7.9-4.9l-8.7-4.4l-8-3.3zM550.1 1667.6l-4.5-0.3l-4.8 0.4l-3.6 1.8l-2.6 2.2l-1.1 1.9l-0.3 1.8l-0.1 1.8l0.8 1.9l2.6 2.6l3.1 2.3l2.6 1l2.5 0.3l2.7 0l2.7-0.4l2.5-0.8l2.1-1.1l1.7-1.2l1.3-1.5l0.9-1.8l0.4-1.9l-0.2-1.8l-0.8-1.9l-1.4-1.7l-1.9-1.5l-1.9-1.3zM531.5 1410.8l-5.6 0.4l-5.2 1.1l-4.7 1.6l-4.6 2.3l-4.8 3.2l-4.4 3.8l-3.5 3.6l-3.1 5l-3.2 6.8l-3.4 10.4l-3.8 18.8l-3.5 18.1l-1.4 6.7l-2.5 5.6l-7.4 13.5l-8.5 15.2l-6.5 13.7l-6.3 13l-6.8 10.4l-6.7 12.6l-6.6 23.1l-5.1 21.6l-1.5 7.9l0.3 3.1l0.4 3.5l1.1 2.7l1.5 2.7l2.2 2.6l2.9 2.8l3.2 2.4l2.9 1.7l3.3 1l4.4 0.5l4.9-0.5l5.3-2.1l5.5-3.3l5.1-3.8l5.8-5.4l8.5-8.8l8.2-9.5l5-6.5l4.1-8.3l4.9-15.7l4.9-16.1l4.2-10.1l3.5-6.8l2.1-3.3l2.6-1.3l5.4-0.7l5.4-0.3l2.4-0.4l2.2-1.1l3.7-2.2l5.6-5.3l10.1-12.2l10.7-15.5l8.4-17.6l6.4-15.9l2.9-8.6l1.3-5.9l1-6.5l0.4-5.8l-0.2-4.6l-0.9-4l-1.7-4.3l-2.5-4.3l-3.8-4.4l-4.8-4.3l-5.5-3.8l-6.4-3.5l-7.6-3.6l-7.8-3l-6.5-1.5zM533.1 1414.5l-6.1 0.2l-6.3 1.3l-6.2 2.6l-5.7 3.3l-4.5 3.7l-3.7 4.3l-3.3 5.4l-2.9 6.3l-2 6l-2 10l-3.2 22.6l-3.2 21.7l-1.3 5.6l-2.7 3l-7.7 10.9l-8.9 13.3l-7 14.4l-5.7 13.1l-2.8 6.7l-2.2 6.8l-3.5 14.3l-3.2 14l-1.3 6.8l-0.3 4.3l0.3 4.6l1 4.1l1.9 3.8l2.7 3.2l3.7 2.5l4.1 1.5l3.8 0.2l3.9-0.8l3.9-1.7l3.8-2.6l4-3.4l3.8-4.1l3.6-4.5l3.4-5.2l2.6-4.4l3.4-9.2l6.9-23.9l7-24.1l3.5-10l2.8-4.7l3-3.7l4-2l6.9-0.9l7-0.7l2.7 0.1l5.1-5.2l16.4-21.6l16.4-22.6l5.6-9l1.8-4.6l1.6-4.6l0.7-4l0.5-4.4l-0.1-4.2l-0.8-3.9l-1.2-3.5l-1.6-3.1l-2.2-3l-3.5-3.7l-4.3-3.7l-5.2-3.5l-5.6-3.2l-5.4-2.6l-5.4-2.1l-5.3-1.5zM478.9 1536.3l-2.2-0.3l-2.4 0.9l-3 2.1l-3.2 3.4l-3.2 5.1l-3 6.1l-2.5 6.6l-2.1 6.9l-1.2 6.5l-0.7 7.1l-0.4 9.6l-0 8.8l0.5 4.6l1.1 2.8l1.6 2.4l2.1 1.3l3-0.1l3.2-1.4l3.2-3l3-4l2.4-4.1l2.3-5l2.5-6.8l2.2-7.6l1.8-8.1l1.2-7.8l0.5-6.6l-0.1-5.8l-0.7-4.9l-1.2-4l-2.2-2.9zM539.3 1419.4l-4.4-0.9l-3.4-0.2l-2.8-0.1l-3.4 0.6l-5.9 1.7l-6.4 2.9l-5.7 4.3l-4.8 5.3l-3.6 6l-2.7 7.5l-2 10.6l-1 11.6l0.6 11.1l1.8 9.8l3.1 7.2l3.4 5l2.4 2.4l2.3 1.3l3 1.3l3.2 0.9l3.1 0.4l3.1-0.2l2.7-0.3l3.4-1.4l5.2-3.3l7.2-5.7l11.5-10.6l10.6-10.5l4.2-5.1l1.8-3.5l2.1-4.1l1.5-4.6l1-6l-0.1-6.3l-1.7-5.7l-3.3-5.3l-5.3-5.3l-6.5-4.6l-7.3-3.6zM534.6 1423.2l-5.5-0.4l-5.3 0.8l-5.6 1.9l-5.2 2.8l-4.6 3.8l-3.7 4.6l-2.8 5.1l-2 6l-1.2 7.3l-0.3 7.4l0.7 6.5l1.9 5.8l3.1 5.4l4.1 4.5l4.9 2.9l4.5 1.7l2.5 0.5l2.1-0.3l2.4-0.2l3.8-1.4l7.7-4.1l8.2-5.3l5.9-5.1l4.5-5.4l3.4-5.8l2.1-5.8l0.9-5.7l-0.3-5.4l-1.7-5.1l-2.8-4.7l-4.2-4.2l-5.1-3.6l-6.1-2.8zM533.1 1429.2l-4.8-0.3l-4.5 0.6l-4.1 1.4l-3.6 2.1l-3.5 2.7l-3 3.5l-2.3 4l-1.6 4.6l-0.7 4.9l0.2 4.9l1 4.5l1.9 4.1l2.5 3.4l3 2.8l3.3 2l3.8 1.1l4.5 0.1l4.8-0.9l4.8-1.9l4.5-2.7l3.6-2.9l3-3.4l2.5-4.2l1.8-4.5l0.7-4.3l-0.1-4.3l-0.8-3.8l-1.7-3.5l-2.6-3.3l-3.3-2.9l-4.5-2.3zM531.5 1441.3l-1.5-0.8l-1.6 0l-2.1 0l-2.5 0.8l-2.9 2.2l-2.4 3l-0.6 3.8l0.4 3.6l1 2.1l1.4 1.5l1.4 1.1l1.7 0.7l2.3 0.2l2.3-0.1l1.6-0.2l1.5-1l2.5-2.4l2.1-3.1l0.6-3.2l-0.5-3l-2.1-3z" fill="none" stroke="#3c3a38" stroke-opacity="0.55" stroke-width="1.6" stroke-linejoin="round"/></g>
<path d="M134.8 1351.0V2113.9H846.9" fill="none" stroke="#c9c9c9" stroke-width="1.6"/><rect x="130.9" y="1351.0" width="716.0" height="766.8000000000002" fill="none" stroke="#333" stroke-width="2.6"/>
<rect x="1075.5" y="1350.4" width="716.0" height="768.0" fill="#fff"/><g fill="none"><path d="M1139.4 1350.4V2118.4" stroke="#f5f5f5" stroke-width="1.6"/><path d="M1216.9 1350.4V2118.4" stroke="#fbfbfb" stroke-width="1.5"/><path d="M1294.3 1350.4V2118.4" stroke="#f5f5f5" stroke-width="1.6"/><path d="M1371.8 1350.4V2118.4" stroke="#fbfbfb" stroke-width="1.5"/><path d="M1449.2 1350.4V2118.4" stroke="#f5f5f5" stroke-width="1.6"/><path d="M1526.7 1350.4V2118.4" stroke="#fbfbfb" stroke-width="1.5"/><path d="M1604.1 1350.4V2118.4" stroke="#f5f5f5" stroke-width="1.6"/><path d="M1681.5 1350.4V2118.4" stroke="#fbfbfb" stroke-width="1.5"/><path d="M1759.0 1350.4V2118.4" stroke="#f5f5f5" stroke-width="1.6"/><path d="M1075.5 2040.4H1791.5" stroke="#fbfbfb" stroke-width="1.5"/><path d="M1075.5 1917.4H1791.5" stroke="#f5f5f5" stroke-width="1.6"/><path d="M1075.5 1794.3H1791.5" stroke="#fbfbfb" stroke-width="1.5"/><path d="M1075.5 1671.3H1791.5" stroke="#f5f5f5" stroke-width="1.6"/><path d="M1075.5 1548.2H1791.5" stroke="#fbfbfb" stroke-width="1.5"/><path d="M1075.5 1425.2H1791.5" stroke="#f5f5f5" stroke-width="1.6"/></g>
<g clip-path="url(#cpc)"><g filter="url(#sfc)"><g mask="url(#mkc0)"><g filter="url(#cbc)"><rect x="1045.5" y="1320.4" width="776.0" height="828.0" fill="#fddb96"/><path d="M1404.4 1650.4l22.7-5.6l31.9-1.5l28.4 2.9l21.2 9.2l17.9 13.5l12.7 12.6l7.1 9.9l2 9l-2.9 8l-8.3 7.9l-13.1 6.9l-15.9 3.9l-19.7-0.1l-22.4-3.1l-20.1-5.1l-16.9-7.1l-14.6-9.1l-10-10.8l-6.1-14.1l-1.6-15.7z" fill="#fdc686"/><path d="M1518.5 1671.1l9-0.7l12.6 4.6l9.5 6.5l4.4 8l1.5 9.9l-1.8 9l-5.9 7.5l-9.1 6.5l-9.9 4.7l-11.8 2.8l-12.5 0.9l-6.8-1.6l3.9-4.6l9.6-7.2l7.3-9l0.4-12.9l-2-14.9z" fill="#fc9f6d"/><path d="M1541.5 1577l7.8-5l12.5 0.8l10.8 4.2l7.6 8.1l6 11.5l3 11.5l-0.9 11.9l-3.8 11.9l-5.7 7.3l-8.4 1.2l-10.2-3.5l-8.4-8.1l-6.2-16.1l-4.4-20.7z" fill="#fdc887"/><path d="M1400.3 1727.1l23.6-1.1l33.7 1.5l29.8 1.7l21.9 0.2l18.1 0.5l11.8 3.4l4.4 8.8l-1.8 11.7l-6.7 10.6l-12.2 9.1l-16.9 7.9l-18.6 3.8l-21.2-2.7l-22.8-6.7l-18.2-7.2l-10.6-6.6l-6-7.1l-4.2-7.1l-6-7.7l-4.1-7.8z" fill="#fc9669"/><path d="M1331.8 1752l22.5-3.1l31.2-2.1l23.1 1l8.7 7.3l0.7 10.4l-5.3 7.2l-13.3 0.8l-19.4-2.5l-17.1-2.4l-12.2-1.1l-9.9-1.1l-6.9-2l-5.6-3.8l-2.6-4.8z" fill="#fda972"/><path d="M1348.4 1764.4l18.6-3.2l25.7 1.8l20 5.6l7.7 10.6l1.9 14.3l2.9 12.4l8.3 8.4l9.2 6.7l3.2 5.6l-6.5 5.2l-12.4 4.2l-14.3 3.1l-16.6 2.8l-18.6 1.7l-14.6-2.4l-7.9-8.8l-4.1-12.9l-2.5-13.6l-3.4-15.1l-1.9-15.7z" fill="#f0625e"/><path d="M1362.9 1785.2l9.4-5l13.5 0.2l10.3 4.8l4.9 12.1l1.7 16.7l-2.4 12.6l-9.4 6l-13.5 1.9l-10.3-3.7l-4.9-13.2l-1.7-18.8z" fill="#dc4b6a"/><path d="M1348.4 1822.5l10.5-5.3l12.5-3.7l12.3-1.4l11.2 2.2l11 4.4l11 3.8l12.2 1.3l12.2 0.6l8.7 2.2l4.6 5.7l1.1 7.3l-3.6 5.7l-10.3 2.2l-14.9 0.6l-14.2 1.3l-11.3 3.2l-10.7 3.8l-11.2 3.4l-11.6 2.5l-12.2 2l-13.5 1.7l-17.2 2.1l-18.6 1.9l-14 0.2l-7.9-2.3l-3.3-3.9l2.9-4.2l13-3.5l19.1-3.8l15.6-5.1l7.2-7.9l3.7-9.3z" fill="#9a2396"/><path d="M1456.3 1797.6l6.4-5.1l9.2-0.3l7.2 3.3l3.2 8.3l1.2 12l-0.3 10.8l-1.5 8.6l-2.9 7.5l-3.9 4.7l-5.4 2l-6.4-0.8l-4.8-5.4l-2.6-13.7l-1.1-18.4z" fill="#f0625e"/><path d="M1495.7 1764.4l12.4-3.8l17.5-0.4l13.6 4.2l6.1 11.5l2.1 16.2l0.1 13.8l-1.4 9.2l-3.4 6.9l-5.6 4.6l-8.9 2.7l-11.1 0.4l-9-3.1l-5.1-8l-3.1-11.5l-2.2-11.6l-3-11.5l-2-11.5z" fill="#f1665e"/><path d="M1504 1810l11.8-2.9l16.9 0l12.7 2.9l5.9 8l1.7 11l-3.4 8l-11.8 3l-16.9 0l-12.8-3l-5.8-8l-1.7-11z" fill="#c73d77"/><path d="M1466.6 1839.1l11.1-4l15.2-1.5l15.2-0.7l14.1-1.4l14-0.7l13.4 2.1l13.5 6.2l12.8 9l8.9 9.6l3 10.1l-0.9 10.8l-2.1 10.2l-1.3 10l-2.6 9.6l-6.4 7.4l-12.4 4.5l-16.3 2.3l-17 1.5l-17.9 1.5l-18.7 0.7l-15.2-2.2l-10.2-6.2l-6.8-9l-3.7-9.7l0.1-10l3.2-10.6l2.9-10.5l0.1-10.7l0-10.4z" fill="#9a2396"/><path d="M1514.3 1837l8.9-3.4l13.3 1.5l13.1 4l12.6 6.6l12.3 9.1l8.3 9.2l2.7 8.5l-1.5 8.5l-5.4 7.8l-11.2 8.5l-15.1 7.8l-13.1 2.4l-8.9-5.7l-6.8-11l-5-12.3l-4.1-14.5l-2.2-15.9z" fill="#6f1c94"/><path d="M1439.7 1857.7l6.4-6.1l9.2-3.8l7.2-0.4l3.2 4.2l1.2 7.7l-0.3 8.8l-1.5 11.1l-2.9 12.3l-3.9 7.7l-5.4 0.4l-6.4-4.2l-4.7-6.6l-2.7-9.6l-1.1-11.9z" fill="#f1665e"/><path d="M1566.2 1878.5l5.7-3.5l7.7 0l5.2 3.5l0.7 9.2l-1.8 12.7l-3 9.2l-4.6 3.4l-5.8-0l-4.1-3.4l-1.8-9.2l-0.1-12.7z" fill="#d24470"/><path d="M1327.7 1934.5l16.4-4.2l22.7-1.9l16.9 1.9l7.6 8.5l1.8 12.2l-5.3 9l-17.5 3.1l-24.6-0.1l-18-3l-6.5-7.4l0.1-10.3z" fill="#922196"/><path d="M1338.1 1951.1l4.9-1l6.7 0l5 1l1.8 2.6l0 3.6l-1.8 2.7l-5 1l-6.7 0l-4.9-1l-1.9-2.7l0-3.6z" fill="#e15167"/><path d="M1095.7 1583.2l17.9-14.3l24.8 0l19.1 14.3l10.3 38.2l4.6 52.4l-4.6 38.2l-20.6 14.3l-29.8-0l-21.7-14.3l-7.6-38.2l0.3-52.4z" fill="#fdca89"/><path d="M1165.2 1655.3l5.4-0.3l7.5 2.1l5.1 3.4l1.2 5l-1.2 6.2l-2.5 4.2l-4.8 1.1l-6.2-1l-4.5-2.6l-1.8-5.8l-0.1-7.4z" fill="#ad2e88"/><path d="M1610.7 1742.9l8.9-5.2l13-2.3l9 2.3l1.5 10.3l-2.5 14.9l-4.2 10.9l-6.3 3.8l-8-0.2l-6.3-3.6l-4.2-9l-2.5-12.4z" fill="#ad2e88"/><path d="M1646.7 1722.3l13.6 0.6l19.2 4.5l13.6 5.2l3.2 5.3l-2.5 5.9l-5.9 4.2l-10.9 2.1l-14.3 0.4l-10.8-2.5l-5.9-8l-2.5-10.9z" fill="#ed5f60"/><path d="M1502.5 2021l11.5 11.6l14.8 16.8l9.8 12.8l0.7 6.1l-4.4 2.1l-6.6-3.1l-10.1-11.6l-12.4-16.8l-8.4-12.8l-2.1-6.1l1.9-2.1z" fill="#bf387b"/><path d="M1724 1794.4l3-0.9l4.2 0l3.1 0.9l1.1 2.3l0 3.1l-1.1 2.3l-3.1 0.9l-4.2 0l-3-0.9l-1.2-2.3l0-3.1z" fill="#9a2396"/></g></g><g mask="url(#mkc1)"><g filter="url(#cbc)"><rect x="1045.5" y="1320.4" width="776.0" height="828.0" fill="#fdce8c"/><path d="M1404.4 1650.4l22.7-5.6l31.9-1.5l28.4 2.9l21.2 9.2l17.9 13.5l12.7 12.6l7.1 9.9l2 9l-2.9 8l-8.3 7.9l-13.1 6.9l-15.9 3.9l-19.7-0.1l-22.4-3.1l-20.1-5.1l-16.9-7.1l-14.6-9.1l-10-10.8l-6.1-14.1l-1.6-15.7z" fill="#fdb176"/><path d="M1518.5 1671.1l9-0.7l12.6 4.6l9.5 6.5l4.4 8l1.5 9.9l-1.8 9l-5.9 7.5l-9.1 6.5l-9.9 4.7l-11.8 2.8l-12.5 0.9l-6.8-1.6l3.9-4.6l9.6-7.2l7.3-9l0.4-12.9l-2-14.9z" fill="#fb8863"/><path d="M1541.5 1577l7.8-5l12.5 0.8l10.8 4.2l7.6 8.1l6 11.5l3 11.5l-0.9 11.9l-3.8 11.9l-5.7 7.3l-8.4 1.2l-10.2-3.5l-8.4-8.1l-6.2-16.1l-4.4-20.7z" fill="#fdb378"/><path d="M1400.3 1727.1l23.6-1.1l33.7 1.5l29.8 1.7l21.9 0.2l18.1 0.5l11.8 3.4l4.4 8.8l-1.8 11.7l-6.7 10.6l-12.2 9.1l-16.9 7.9l-18.6 3.8l-21.2-2.7l-22.8-6.7l-18.2-7.2l-10.6-6.6l-6-7.1l-4.2-7.1l-6-7.7l-4.1-7.8z" fill="#f97c60"/><path d="M1331.8 1752l22.5-3.1l31.2-2.1l23.1 1l8.7 7.3l0.7 10.4l-5.3 7.2l-13.3 0.8l-19.4-2.5l-17.1-2.4l-12.2-1.1l-9.9-1.1l-6.9-2l-5.6-3.8l-2.6-4.8z" fill="#fc9267"/><path d="M1348.4 1764.4l18.6-3.2l25.7 1.8l20 5.6l7.7 10.6l1.9 14.3l2.9 12.4l8.3 8.4l9.2 6.7l3.2 5.6l-6.5 5.2l-12.4 4.2l-14.3 3.1l-16.6 2.8l-18.6 1.7l-14.6-2.4l-7.9-8.8l-4.1-12.9l-2.5-13.6l-3.4-15.1l-1.9-15.7z" fill="#d8476d"/><path d="M1362.9 1785.2l9.4-5l13.5 0.2l10.3 4.8l4.9 12.1l1.7 16.7l-2.4 12.6l-9.4 6l-13.5 1.9l-10.3-3.7l-4.9-13.2l-1.7-18.8z" fill="#b13084"/><path d="M1348.4 1822.5l10.5-5.3l12.5-3.7l12.3-1.4l11.2 2.2l11 4.4l11 3.8l12.2 1.3l12.2 0.6l8.7 2.2l4.6 5.7l1.1 7.3l-3.6 5.7l-10.3 2.2l-14.9 0.6l-14.2 1.3l-11.3 3.2l-10.7 3.8l-11.2 3.4l-11.6 2.5l-12.2 2l-13.5 1.7l-17.2 2.1l-18.6 1.9l-14 0.2l-7.9-2.3l-3.3-3.9l2.9-4.2l13-3.5l19.1-3.8l15.6-5.1l7.2-7.9l3.7-9.3z" fill="#4f2486"/><path d="M1456.3 1797.6l6.4-5.1l9.2-0.3l7.2 3.3l3.2 8.3l1.2 12l-0.3 10.8l-1.5 8.6l-2.9 7.5l-3.9 4.7l-5.4 2l-6.4-0.8l-4.8-5.4l-2.6-13.7l-1.1-18.4z" fill="#d8476d"/><path d="M1495.7 1764.4l12.4-3.8l17.5-0.4l13.6 4.2l6.1 11.5l2.1 16.2l0.1 13.8l-1.4 9.2l-3.4 6.9l-5.6 4.6l-8.9 2.7l-11.1 0.4l-9-3.1l-5.1-8l-3.1-11.5l-2.2-11.6l-3-11.5l-2-11.5z" fill="#dc4b6a"/><path d="M1504 1810l11.8-2.9l16.9 0l12.7 2.9l5.9 8l1.7 11l-3.4 8l-11.8 3l-16.9 0l-12.8-3l-5.8-8l-1.7-11z" fill="#932196"/><path d="M1466.6 1839.1l11.1-4l15.2-1.5l15.2-0.7l14.1-1.4l14-0.7l13.4 2.1l13.5 6.2l12.8 9l8.9 9.6l3 10.1l-0.9 10.8l-2.1 10.2l-1.3 10l-2.6 9.6l-6.4 7.4l-12.4 4.5l-16.3 2.3l-17 1.5l-17.9 1.5l-18.7 0.7l-15.2-2.2l-10.2-6.2l-6.8-9l-3.7-9.7l0.1-10l3.2-10.6l2.9-10.5l0.1-10.7l0-10.4z" fill="#4f2486"/><path d="M1514.3 1837l8.9-3.4l13.3 1.5l13.1 4l12.6 6.6l12.3 9.1l8.3 9.2l2.7 8.5l-1.5 8.5l-5.4 7.8l-11.2 8.5l-15.1 7.8l-13.1 2.4l-8.9-5.7l-6.8-11l-5-12.3l-4.1-14.5l-2.2-15.9z" fill="#2b2357"/><path d="M1439.7 1857.7l6.4-6.1l9.2-3.8l7.2-0.4l3.2 4.2l1.2 7.7l-0.3 8.8l-1.5 11.1l-2.9 12.3l-3.9 7.7l-5.4 0.4l-6.4-4.2l-4.7-6.6l-2.7-9.6l-1.1-11.9z" fill="#dc4b6a"/><path d="M1566.2 1878.5l5.7-3.5l7.7 0l5.2 3.5l0.7 9.2l-1.8 12.7l-3 9.2l-4.6 3.4l-5.8-0l-4.1-3.4l-1.8-9.2l-0.1-12.7z" fill="#a22890"/><path d="M1327.7 1934.5l16.4-4.2l22.7-1.9l16.9 1.9l7.6 8.5l1.8 12.2l-5.3 9l-17.5 3.1l-24.6-0.1l-18-3l-6.5-7.4l0.1-10.3z" fill="#47247d"/><path d="M1338.1 1951.1l4.9-1l6.7 0l5 1l1.8 2.6l0 3.6l-1.8 2.7l-5 1l-6.7 0l-4.9-1l-1.9-2.7l0-3.6z" fill="#bb367d"/><path d="M1095.7 1583.2l17.9-14.3l24.8 0l19.1 14.3l10.3 38.2l4.6 52.4l-4.6 38.2l-20.6 14.3l-29.8-0l-21.7-14.3l-7.6-38.2l0.3-52.4z" fill="#fdbc7f"/><path d="M1165.2 1655.3l5.4-0.3l7.5 2.1l5.1 3.4l1.2 5l-1.2 6.2l-2.5 4.2l-4.8 1.1l-6.2-1l-4.5-2.6l-1.8-5.8l-0.1-7.4z" fill="#6a1e91"/><path d="M1610.7 1742.9l8.9-5.2l13-2.3l9 2.3l1.5 10.3l-2.5 14.9l-4.2 10.9l-6.3 3.8l-8-0.2l-6.3-3.6l-4.2-9l-2.5-12.4z" fill="#6a1e91"/><path d="M1646.7 1722.3l13.6 0.6l19.2 4.5l13.6 5.2l3.2 5.3l-2.5 5.9l-5.9 4.2l-10.9 2.1l-14.3 0.4l-10.8-2.5l-5.9-8l-2.5-10.9z" fill="#d3446f"/><path d="M1502.5 2021l11.5 11.6l14.8 16.8l9.8 12.8l0.7 6.1l-4.4 2.1l-6.6-3.1l-10.1-11.6l-12.4-16.8l-8.4-12.8l-2.1-6.1l1.9-2.1z" fill="#881e97"/><path d="M1724 1794.4l3-0.9l4.2 0l3.1 0.9l1.1 2.3l0 3.1l-1.1 2.3l-3.1 0.9l-4.2 0l-3-0.9l-1.2-2.3l0-3.1z" fill="#4f2486"/></g></g><g mask="url(#mkc2)"><g filter="url(#cbc)"><rect x="1045.5" y="1320.4" width="776.0" height="828.0" fill="#fde39d"/><path d="M1404.4 1650.4l22.7-5.6l31.9-1.5l28.4 2.9l21.2 9.2l17.9 13.5l12.7 12.6l7.1 9.9l2 9l-2.9 8l-8.3 7.9l-13.1 6.9l-15.9 3.9l-19.7-0.1l-22.4-3.1l-20.1-5.1l-16.9-7.1l-14.6-9.1l-10-10.8l-6.1-14.1l-1.6-15.7z" fill="#fdd38f"/><path d="M1518.5 1671.1l9-0.7l12.6 4.6l9.5 6.5l4.4 8l1.5 9.9l-1.8 9l-5.9 7.5l-9.1 6.5l-9.9 4.7l-11.8 2.8l-12.5 0.9l-6.8-1.6l3.9-4.6l9.6-7.2l7.3-9l0.4-12.9l-2-14.9z" fill="#fdae74"/><path d="M1541.5 1577l7.8-5l12.5 0.8l10.8 4.2l7.6 8.1l6 11.5l3 11.5l-0.9 11.9l-3.8 11.9l-5.7 7.3l-8.4 1.2l-10.2-3.5l-8.4-8.1l-6.2-16.1l-4.4-20.7z" fill="#fdd591"/><path d="M1400.3 1727.1l23.6-1.1l33.7 1.5l29.8 1.7l21.9 0.2l18.1 0.5l11.8 3.4l4.4 8.8l-1.8 11.7l-6.7 10.6l-12.2 9.1l-16.9 7.9l-18.6 3.8l-21.2-2.7l-22.8-6.7l-18.2-7.2l-10.6-6.6l-6-7.1l-4.2-7.1l-6-7.7l-4.1-7.8z" fill="#fda670"/><path d="M1331.8 1752l22.5-3.1l31.2-2.1l23.1 1l8.7 7.3l0.7 10.4l-5.3 7.2l-13.3 0.8l-19.4-2.5l-17.1-2.4l-12.2-1.1l-9.9-1.1l-6.9-2l-5.6-3.8l-2.6-4.8z" fill="#fdb77a"/><path d="M1348.4 1764.4l18.6-3.2l25.7 1.8l20 5.6l7.7 10.6l1.9 14.3l2.9 12.4l8.3 8.4l9.2 6.7l3.2 5.6l-6.5 5.2l-12.4 4.2l-14.3 3.1l-16.6 2.8l-18.6 1.7l-14.6-2.4l-7.9-8.8l-4.1-12.9l-2.5-13.6l-3.4-15.1l-1.9-15.7z" fill="#f8795f"/><path d="M1362.9 1785.2l9.4-5l13.5 0.2l10.3 4.8l4.9 12.1l1.7 16.7l-2.4 12.6l-9.4 6l-13.5 1.9l-10.3-3.7l-4.9-13.2l-1.7-18.8z" fill="#ee605f"/><path d="M1348.4 1822.5l10.5-5.3l12.5-3.7l12.3-1.4l11.2 2.2l11 4.4l11 3.8l12.2 1.3l12.2 0.6l8.7 2.2l4.6 5.7l1.1 7.3l-3.6 5.7l-10.3 2.2l-14.9 0.6l-14.2 1.3l-11.3 3.2l-10.7 3.8l-11.2 3.4l-11.6 2.5l-12.2 2l-13.5 1.7l-17.2 2.1l-18.6 1.9l-14 0.2l-7.9-2.3l-3.3-3.9l2.9-4.2l13-3.5l19.1-3.8l15.6-5.1l7.2-7.9l3.7-9.3z" fill="#bf387b"/><path d="M1456.3 1797.6l6.4-5.1l9.2-0.3l7.2 3.3l3.2 8.3l1.2 12l-0.3 10.8l-1.5 8.6l-2.9 7.5l-3.9 4.7l-5.4 2l-6.4-0.8l-4.8-5.4l-2.6-13.7l-1.1-18.4z" fill="#f8795f"/><path d="M1495.7 1764.4l12.4-3.8l17.5-0.4l13.6 4.2l6.1 11.5l2.1 16.2l0.1 13.8l-1.4 9.2l-3.4 6.9l-5.6 4.6l-8.9 2.7l-11.1 0.4l-9-3.1l-5.1-8l-3.1-11.5l-2.2-11.6l-3-11.5l-2-11.5z" fill="#f97c60"/><path d="M1504 1810l11.8-2.9l16.9 0l12.7 2.9l5.9 8l1.7 11l-3.4 8l-11.8 3l-16.9 0l-12.8-3l-5.8-8l-1.7-11z" fill="#e25266"/><path d="M1466.6 1839.1l11.1-4l15.2-1.5l15.2-0.7l14.1-1.4l14-0.7l13.4 2.1l13.5 6.2l12.8 9l8.9 9.6l3 10.1l-0.9 10.8l-2.1 10.2l-1.3 10l-2.6 9.6l-6.4 7.4l-12.4 4.5l-16.3 2.3l-17 1.5l-17.9 1.5l-18.7 0.7l-15.2-2.2l-10.2-6.2l-6.8-9l-3.7-9.7l0.1-10l3.2-10.6l2.9-10.5l0.1-10.7l0-10.4z" fill="#bf387b"/><path d="M1514.3 1837l8.9-3.4l13.3 1.5l13.1 4l12.6 6.6l12.3 9.1l8.3 9.2l2.7 8.5l-1.5 8.5l-5.4 7.8l-11.2 8.5l-15.1 7.8l-13.1 2.4l-8.9-5.7l-6.8-11l-5-12.3l-4.1-14.5l-2.2-15.9z" fill="#9a2396"/><path d="M1439.7 1857.7l6.4-6.1l9.2-3.8l7.2-0.4l3.2 4.2l1.2 7.7l-0.3 8.8l-1.5 11.1l-2.9 12.3l-3.9 7.7l-5.4 0.4l-6.4-4.2l-4.7-6.6l-2.7-9.6l-1.1-11.9z" fill="#f97c60"/><path d="M1566.2 1878.5l5.7-3.5l7.7 0l5.2 3.5l0.7 9.2l-1.8 12.7l-3 9.2l-4.6 3.4l-5.8-0l-4.1-3.4l-1.8-9.2l-0.1-12.7z" fill="#e85963"/><path d="M1327.7 1934.5l16.4-4.2l22.7-1.9l16.9 1.9l7.6 8.5l1.8 12.2l-5.3 9l-17.5 3.1l-24.6-0.1l-18-3l-6.5-7.4l0.1-10.3z" fill="#b8347f"/><path d="M1338.1 1951.1l4.9-1l6.7 0l5 1l1.8 2.6l0 3.6l-1.8 2.7l-5 1l-6.7 0l-4.9-1l-1.9-2.7l0-3.6z" fill="#f1665e"/><path d="M1095.7 1583.2l17.9-14.3l24.8 0l19.1 14.3l10.3 38.2l4.6 52.4l-4.6 38.2l-20.6 14.3l-29.8-0l-21.7-14.3l-7.6-38.2l0.3-52.4z" fill="#fdd38f"/><path d="M1165.2 1655.3l5.4-0.3l7.5 2.1l5.1 3.4l1.2 5l-1.2 6.2l-2.5 4.2l-4.8 1.1l-6.2-1l-4.5-2.6l-1.8-5.8l-0.1-7.4z" fill="#d24470"/><path d="M1610.7 1742.9l8.9-5.2l13-2.3l9 2.3l1.5 10.3l-2.5 14.9l-4.2 10.9l-6.3 3.8l-8-0.2l-6.3-3.6l-4.2-9l-2.5-12.4z" fill="#d24470"/><path d="M1646.7 1722.3l13.6 0.6l19.2 4.5l13.6 5.2l3.2 5.3l-2.5 5.9l-5.9 4.2l-10.9 2.1l-14.3 0.4l-10.8-2.5l-5.9-8l-2.5-10.9z" fill="#f7765f"/><path d="M1502.5 2021l11.5 11.6l14.8 16.8l9.8 12.8l0.7 6.1l-4.4 2.1l-6.6-3.1l-10.1-11.6l-12.4-16.8l-8.4-12.8l-2.1-6.1l1.9-2.1z" fill="#de4e69"/><path d="M1724 1794.4l3-0.9l4.2 0l3.1 0.9l1.1 2.3l0 3.1l-1.1 2.3l-3.1 0.9l-4.2 0l-3-0.9l-1.2-2.3l0-3.1z" fill="#bf387b"/></g></g></g><path d="M1357 1933.9l-5.5-0.7l-3.8-0.3l-3.3 0.1l-2.9 0.5l-2.4 0.8l-2.2 1.2l-1.9 1.4l-1.6 2l-1.7 2.6l-1.2 4.8l-0.2 10l-0.3 10.9l-2.1 6.6l-1.5 8.2l1.4 17.5l2.2 17l1.5 7.3l1.5 3.7l1.8 3.6l2 2.6l1.9 2.1l2.2 1.6l2.5 1.4l2.8 1.1l2.9 0.7l3.3 0.3l3.8-0.2l3.9-0.7l4.1-1.6l3.7-2.2l2.6-2.3l1.9-2.7l1.6-2.4l1.2-3.7l1.4-7.1l0.4-8.9l-2.3-10.8l-2.7-10.1l-0.7-6.4l0.2-4.7l0.6-4.2l1.4-4.4l3.4-6.9l3.4-6.7l1.4-4.1l0.5-3.3l-0.1-3.2l-0.9-2.9l-0.8-2.4l-3.2-2.1l-9.8-1.7zM1635.9 1991.7l-4 0.1l-3.8 0.9l-3.3 1.5l-2.9 2.6l-2.7 4l-2.1 4.6l-1.1 4.4l-0.2 4.2l0.6 3.8l1.4 3.6l2.6 3.8l3.1 3.5l2.9 2.4l3.3 1.6l3.7 1.1l4 0.4l4-0.7l3.7-1.5l3-2l2.4-2.5l2-2.8l1.5-3.3l1-4.3l0.4-4.3l-0.3-3.8l-1.1-3.6l-1.8-3.7l-2.4-3.2l-2.9-2.6l-3.3-2l-3.8-1.4zM1482.5 1381.4l-5.8-0.8l-5-0.1l-5.5 0.2l-5.4 0.6l-5.5 1.1l-5.3 1.4l-4.3 1.3l-5 2.4l-8.3 4.8l-8.8 6.5l-7.1 7.4l-6 8.5l-4.7 9.1l-3.5 11.9l-2 18.9l-1.7 19.2l-2.3 11.2l-3.6 11.2l-7.9 20l-7.6 18l-2.6 5l-2.1 1.5l-5.4 5.1l-5.4 5.1l-2.6 3.4l-1.5 3.2l-1.4 3.4l-1.1 5.2l-0.7 10.3l-0.7 10.6l-0 4.4l-2.9 7.3l-11.8 22l-11.7 21.7l-2.5 7.1l0.5 2.7l-0.1 4.4l0.4 4.2l1 4.4l1.7 4.3l0.9 3l4.6 4.7l16.1 11.5l16.4 10.7l5.1 2.2l2.7-0.9l6.9-1.3l7-1.1l4.1 0.3l3.7 2.1l5.7 5.2l5.1 5.9l2.3 3.8l1.1 3.1l0.7 2.4l-0.3 2.5l-1.4 3.3l-3.2 4.1l-4.7 4.9l-8.4 5.5l-16.8 6.1l-17.3 5.2l-10.3 1.8l-6.8 1l-3.7 1.5l-1.7 2.3l-1.8 2.5l0.2 6.1l5 15.2l5.6 16.8l2.5 11.8l1.1 9.1l0.3 6.2l-1 4.9l-2.3 5.5l-3.8 5.6l-5.5 4.6l-7.2 6.2l-10.4 11.5l-9.3 10.9l-3.2 4.1l-0.8 2l-0.9 2.6l-0.2 2.4l0.4 2.5l1.2 2.4l1.8 1.8l2.8 1.6l4.4 1.8l4.9 1.3l4 0.1l3.3-0.5l2.1-0.9l1.6-1.5l1.5-1.4l1.4-3.6l1.5-9.8l1.6-9.8l1.5-3.2l1.6-1l2-1.7l2.6-1.5l-0.4-0.5l8.2-2.4l36.4-9.3l37.9-9.1l14.1-2.5l5.3 0.4l3.6 1.3l1.1 2.4l1.2 2l-0.8 4.1l-5.3 10.1l-5.7 10.9l-2.1 6.7l-0.5 5.6l0.5 5.7l1.6 5.3l2.1 4.8l3.5 4.9l6.6 6.7l7.4 6.4l6.6 4.5l5.8 3l2.3 1.1l5.4 0.6l16.7 1.4l20.5 0.8l21.1-1.7l17.6-2.4l6.6-1.3l2.7-1.5l4.1-2.8l3.6-3.2l2.9-2.6l2.6-3.9l3.5-7.6l3.2-8.4l1.6-7.1l0.6-6.4l0-5.8l-0.8-5.3l-0.9-3.8l-3.2-6l-9.3-14.3l-9.4-14.5l-4.2-7.7l-2-5l-1.2-3.2l-0.4-4.6l0-10.8l-0.5-12.5l-3.2-12l-3.1-10.2l-1-4.7l0.2-5.1l0.7-12l1.9-13.9l4.4-12.7l4.9-13.1l3.6-15.4l2.9-13.4l1.8-5.2l2.9-4.2l7.4-10.3l7.7-10.6l4.1-6.6l2.8-5.7l2.7-6.7l2-6.8l0.9-6.9l0-6.7l-0.7-5.7l-1.3-5.3l-2-5.1l-2.4-4.8l-2.5-3.9l-4-4.7l-7.4-6.9l-8.9-9.3l-9.5-14.1l-8.3-14l-4.5-8.5l-2.4-6.5l-1.5-5.3l-0.1-7.1l1.9-13.9l2.2-15.3l1.1-13.3l0.4-11.3l-0.4-7.5l-1.3-6l-1.7-6.1l-2.9-6.2l-4.4-7.1l-5.7-7.2l-7.3-7l-8.2-6.3l-8.4-5.3l-8.7-4.2l-8.9-3zM1459.3 1774l2.5 1.2l2.1 2.1l1.2 3.2l0 3.4l-1.7 3l-2.6 2.4l-3.1 1.2l-3.1 0.1l-2.1-1l-1.3-2l-0.8-2.9l0.2-3.3l1.7-3.3l2.3-2.7l2.3-1.2zM1671.5 1735.8l-1.7 0.1l-1.4 0.7l-0.9 0.8l-0.1 1l1 1.4l1.5 1.1l1.7-0.1l1.4-0.6l1-0.8l0.2-1l-1.1-1.5zM1127.8 1579.4l-3.8-0.9l-4 0.3l-4.6 1.4l-4.7 2.3l-3.8 3.1l-3.3 3.9l-2.7 4.5l-1.9 5.3l-0.9 6.1l0.4 7.5l2.9 10.6l3.2 10.3l1.5 4.4l0.2 6.6l-2.2 19.9l-2 19.5l1 6.5l2.3 2.1l3.2 3.1l3.7 2.1l3.4 0.8l4.3-0.2l6.7-2l7.3-1.4l6.9 2.2l5.5 2.6l2.2 0l0.9-1.1l1.2-1.6l0.2-3.2l-2.1-5.2l-3.2-8.4l-3.8-15.8l-3-14.9l-0.3-4l1.7-2.3l4.5-8.1l4.5-9l1.1-7.2l-0.5-6.3l-1.2-5.7l-1.9-5.4l-2.6-5.8l-3-5.3l-2.6-3.7l-3-2.9l-3.7-2.7zM1357 2001.6l-3 0l-3.2 0.5l-3.2 1.4l-3 1.7l-2 1.8l-1.5 2.1l-1.2 2.3l-0.7 2.6l-0.1 3l0.3 3.1l0.8 2.8l1.3 2.5l2.2 2.4l2.5 1.9l2.2 1.1l2.4 0.5l3.1 0l3.1-0.4l2.5-0.8l2.2-1.3l1.9-1.6l1.6-2.1l1.4-3l0.9-3.2l0.3-3.1l-0.2-3l-0.6-2.6l-1.1-2.4l-1.9-2.5l-2.3-2.1l-2.2-1.1zM1635.9 2000.4l-2.4 0.2l-2.3 0.7l-2 1.2l-1.8 1.7l-1.5 2.3l-1.2 2.6l-0.5 2.4l0.1 2.5l0.5 2.5l0.9 2.4l1.3 2l1.6 1.7l2 1.5l2.2 1.1l2.3 0.5l2.3 0.2l2.4-0.5l2.3-0.8l1.6-1.1l1.4-1.4l1.5-2l1.1-2.4l0.6-2.4l0.1-2.5l-0.4-2.6l-0.8-2.4l-1.2-1.9l-1.5-1.7l-1.9-1.6l-2.1-1.1l-2.3-0.8zM1347.7 1949.9l-1.5 0.9l-0.8 1.7l0.9 1.7l1.4 1.4l1.1-0l0.9-0.7l0.9-1.1l0.2-1.3l-1.3-1.6zM1477.9 1392.5l-7.3 0l-8.2 0.9l-8.7 2.5l-8.4 3.7l-7.2 4.7l-6.3 5.5l-5.1 5.9l-4.2 6.4l-3.2 5.8l-3 9l-4.1 18.5l-4 19l-2.4 8.9l-3.8 9.9l-10.3 23.7l-10 22.1l-2.8 5.4l-1.7 0.9l-5.6 4.9l-5.6 4.8l-2.6 3.2l-1.5 3l-1.3 2.8l-0.9 4.6l-0.6 9.5l-0.6 10.1l-1.1 6.6l-1.7 5.7l-2.4 6.1l-4 7.8l-8.2 13.7l-7.8 13.1l-2.3 5.5l-0.4 3.1l-0.5 3.7l0.1 3.6l0.7 4.1l1.4 4l0.8 2.7l3.8 4l12 9.1l12.8 8.7l5.9 3.3l4.9 0.6l8.6-1.5l8.5-1.7l5.2 0.3l4.1 1.5l3.3 1.8l4.7 5l10 13.8l9.8 14l4.6 5.5l3.2 2.5l3.5 2.2l5.8 1.9l12.5 3.3l12.8 3.5l7.2 3.3l4.1 2.9l1.4 1.7l-0.4 2l-1.6 4.1l-1.8 4.5l-0.8 2.2l0.5 4l3.6 11.9l3.3 11.4l0.1 2.6l-2.2-0.2l-5.2 0.6l-5.6 0.6l-3.4 1l-2.8 1.6l-3.8 2.8l-3.6 3.3l-2.8 3.7l-2 3.7l-1 2.4l0.5 3.8l3.8 8.8l3.9 9.6l1.3 6.6l0.1 5.7l-0.7 5.9l-2 6.4l-4.8 8.4l-4.4 7.9l-0.9 4.9l0.8 3.5l1.3 3l1.9 2.6l1.8 2.2l2.8 2.4l5.2 4.2l5.5 4l1.5 1.7l4.9 1.5l18 3.2l19.1 2.9l8.7 0.8l6.8-0.3l11.1-1.2l10.6-2l7-2.2l5.4-2.9l5.1-4.2l4.2-5.1l2.9-6.6l1.7-6.5l0.7-4.6l-0.2-4l0.6-1.9l-2.6-6.7l-12.1-24l-12.1-24l-2.3-6.2l0.7-2.4l0.3-9.3l0.3-9.2l0.4-3.1l-1.6-5.5l-8.8-17.7l-7.3-19.2l4.1-11l7.4-9.1l5.3-9.5l4.9-12.3l3.9-20.4l5.1-21.4l10.2-16.7l9.9-12.8l4.1-6.9l1.9-4.2l1.7-4.6l1-4.3l0.6-4.7l-0.1-4.9l-0.7-4.8l-1.5-5l-2.6-5.2l-3.4-5.1l-4.2-4.5l-5.1-4.5l-7.3-5.3l-6.6-4.3l-3-1.5l-1.7-0.2l-0.9-0.6l-3.7 0.4l-14 3.2l-13.9 3l-3.9-0.2l-0.8-1.6l-1.9-1.9l-1.7-2.5l-1.2-2.9l-0.6-3.2l-0.5-2.3l1.6-3.9l7.8-9l8.1-9.4l2.5-2.1l1.4-6.5l4.3-26.5l3.9-27.7l1.2-11.9l-0-6.5l-0.1-5.7l-1-5.4l-3-8.2l-3.7-7.8l-3.1-4.3l-3.1-3.1l-2.8-3l-5-3.6l-11.4-6.6l-11.8-6.2l-6.3-2.5l-4.5-1.2l-4.4-1.1zM1411.2 1753l-11.5 1.3l-11.7 2l-5 1.1l-2.7 1.2l-2.3 1.1l-2.4 2l-4.3 4.7l-5 4.9l-5.8 3l-5 2.1l-1.8 1l-0.6 1.6l-0.9 3.8l-0.2 6l0.9 8.8l1.8 10.9l3.2 14.5l3.1 12.6l1.3 3.4l0.9 0.2l0.8 1l2.3 0.6l5.7 0.4l8.3-0.6l11.5-2.7l11.6-3.6l8.3-3.5l6.7-3.8l5.9-4.4l4.1-4.3l1.6-2l-0.5-4.1l-3.1-11.1l-3.3-13.5l-1-14.1l-0.5-11.8l-1.4-4.5l-2.1-1.6l-2.2-1.9zM1123.1 1588.2l-3.1 0l-3.1 0.8l-3.4 1.8l-3.2 2.4l-2.4 2.8l-1.8 3.3l-1.2 3.5l-0.5 3.9l-0.1 3.6l1.3 6.2l4.3 12.6l3.9 15.7l-1.2 19.3l-1.8 16.4l1 5l2 0.6l2 1.4l2.7 0.2l4.2-1.2l4.3-2.3l3.3-3.4l2.3-4l0.9-3.2l-0.3-4.1l-1.6-7.4l-1.6-7.4l-0.4-4.2l0.3-3.2l0.9-3.3l2-4.1l4.4-6.7l4.3-6.8l1.7-4.6l0.4-4l-0.3-4.8l-1.1-5.1l-2.3-5.6l-2.8-5.2l-3-3.6l-3.2-2.6l-3.9-1.8zM1525.9 1767.7l-2.8-0.2l-2.8 0.4l-2.7 0.9l-2.6 1.6l-2.5 2.1l-2.2 2.8l-1.9 3.2l-1.4 4.2l-0.7 3.3l-0.3 9l0.3 26l0.7 26.9l1.1 12.3l1.6 7.4l2.4 7.6l2.9 6.4l4 5.4l3.8 3.9l2.4 1.8l2.2 0.8l2.8 0.8l3.4 0.1l4.6-1.2l4.6-2.3l3.5-3.1l3.1-4.2l3.1-5.8l2.3-6.5l1.2-6.9l0.3-6.7l-0.4-4.6l-1.9-6.5l-5.6-13.2l-5.4-15.1l-0.6-14l0.5-11.6l-0.4-5l-1.1-3.1l-2.9-5.6l-3.3-5l-2.5-2.7l-2.2-1.5l-2.2-1.3zM1474.8 1808.5l-2.5-0.1l-2.2 0.6l-2 1.3l-1.6 1.9l-1.1 2.3l-0.7 2.6l-0.6 2.1l0.6 4.1l3.3 10.3l3.7 10l1.7 3l1.4 0.5l2.2 0.9l2.4 0.2l2.3-0.7l2.4-1.5l2.4-2.4l2.2-3.1l1.8-3.6l1.2-3.8l0.6-3.8l0.1-3.6l-0.4-2.6l-1-2.3l-1.5-2.5l-2.2-2.4l-3.2-2.6l-3.5-2.3l-3-1.6zM1388 1775.2l-2.8 0.1l-3.4 1.4l-5.5 4l-5.3 4.4l-2.8 2.8l-1.9 2.4l-1.4 2.7l-0.8 3.2l-0.2 4.2l0.6 4.4l1.3 4.1l2.1 3.7l2.8 3.2l3.4 2.5l3.7 1.5l4 0.8l4-0.1l3.8-0.9l3.3-1.6l2.9-2.1l2.5-2.9l2.1-3.3l1.4-3.4l0.8-4l0.2-4.8l-0.5-5l-1.2-4.5l-1.7-4.1l-2.4-3.6l-2.8-2.7l-3-1.7zM1484.1 1399.9l-8.3-1.1l-7.2 0.3l-7.1 1.3l-6.9 2.5l-7.2 3.8l-6.7 4.8l-5.5 5.4l-4.7 6.5l-3.6 6.4l-3.9 10.8l-5.8 21.7l-7.5 25.6l-11.3 26.5l-10.4 21.9l-3.9 8l-2.7 3.3l-6.3 5.9l-5.9 5.2l-2.6 2.1l-1.5 4.1l-1.8 13.2l-1.6 13.8l-1.3 6.4l-1.6 4.7l-2.4 6.3l-4 8l-7.6 12.7l-7.3 12.4l-2.5 7.2l-0.5 5.1l0.3 4.1l1.2 3.3l0.8 2.4l3.2 3.3l9.8 7.5l10.3 7.2l4.7 3l3.1 1.2l3.1 1.1l4.6-0.2l10.1-2.6l10.1-2.8l4.8-0.9l2.9-0.2l2.6-0l2.1 0.7l1.5 1l1.5 2.7l2.5 6.4l2.8 7.1l2.6 5l3 4.4l3.6 4.5l4.1 4.2l4.6 3.6l4.7 3.1l3.5 1.7l5.8 1.8l13.4 3.5l14.5 3.4l10.2 1.9l8.4 0.7l7-0.4l6.9-1.5l9.7-2.7l8.9-3.1l4.7-2.4l3.1-2.6l3.2-3.3l3-4.1l3.3-5.5l3.1-6.1l2.2-4.5l1.5-7.8l-0.7-17.3l1.6-19.6l11.3-16.8l11.7-13.5l3.8-6.4l1-3.9l1.3-4.9l0.3-4.9l-0.7-5.5l-1.9-5.6l-3.5-5.7l-4.5-5.4l-5.4-4.5l-5.8-3.3l-5.3-1.5l-5.6 0.1l-7.3 1.9l-6.6 2.6l-3.1 1.7l-1.8 1.8l-1.9 2.1l-1.7 2.8l-1.2 2.6l-1.1 6l-1.4 16.6l-1.8 15.5l-1.9 2.5l-2.7-2.1l-4.5-1.6l-4.8-2.3l-4.2-2.5l-3.4-2.7l-2.2-2.4l-1.4-2.5l-1-2.9l-0.4-3.3l-0.2-2.6l1-4.8l4.7-11l4.5-12.3l0.2-9.6l-0.8-7.7l0.4-4.9l1.1-3.7l1.2-3.2l2.9-4.2l6.9-7.6l7.1-8.4l3.1-4.7l2.2-7.6l4.2-18l3.8-20.1l1.8-15.5l0.4-12.8l-1.6-9.3l-2.4-6.7l-2.2-4.3l-2.5-3l-2.1-2.8l-3.9-3.4l-8.4-5.8l-10.4-6l-11-4.7zM1126.2 1596.7l-3.1-0.5l-3.1 0.1l-2.5 0.8l-2.1 1.3l-1.7 1.6l-1.4 2.1l-1.1 2.6l-0.7 3.2l0.2 4.1l0.8 4.5l1.7 5.1l2.2 4.8l2.3 3.9l2.3 2.9l1.6 1.3l1.5 0.1l2.3-0.6l2.4-1.4l2.4-2.2l2.2-2.6l1.8-2.4l1.4-2.7l1.2-2.6l0.4-3.6l-1.2-6.2l-1.7-6.1l-1.6-2.8l-1.8-1.7l-2.2-1.7zM1530.5 1787.4l-1.5-0.6l-1.6-0l-1.5 0.4l-1.6 1.5l-1.6 2.3l-1.2 5.2l0.4 11.7l0.5 14.1l-0.7 14.6l-0.8 12.5l0.3 5.5l0.8 3.1l1.1 3.9l1.6 3.5l2 2.8l2.3 2.1l2.3 1l2.3 0.1l2.4-0.8l2.3-1.6l1.7-1.5l1.4-3l1.5-6.7l1-7.2l-0.2-3.8l-1.4-4.8l-3.7-9.4l-3.5-11.5l-0.6-13.3l0.3-11.3l-0.4-3.8l-0.8-1.1l-1.4-2.2zM1477.9 1403.6l-5.9 0l-6.5 0.8l-7.1 2.2l-6.9 3.1l-5.8 3.9l-5 4.4l-4.1 4.8l-3.5 5.5l-2.7 5l-3 8.5l-5 18.8l-5.1 19.4l-2.7 8.6l-4.3 9.8l-11.7 24.7l-11.4 23.3l-3.5 6l-1.9 1.3l-5.4 5.1l-5.1 4.8l-1.8 0.9l-1.1 4.1l-2.9 17.2l-3.3 18.4l-2.6 8l-3.6 6.8l-7.4 13.2l-6.9 12.6l-2 6.2l0 3.7l0.5 3.3l1.5 2.8l2 2.6l4 3.3l9.2 6.6l9 6l3.4 1.7l1.7 0.1l2 0.3l2.6-0.2l4.6-1.2l5.3-1.9l4-1.3l6.3-3.9l14.3-12.7l13.5-12.4l3.8-3.1l0.9-0.1l2.5-1l2.1-0.1l1.3-0.8l-0.4 4.6l-4.5 20.7l-4.5 21.1l-0.4 5.9l1.2 1.5l1.6 3.7l2.4 3.7l3.6 3.6l4.4 3.4l4 2.3l6.8 2.5l15.2 4.2l15.8 3.8l9 1.5l6.5 0.2l5.4-0.4l5.4-1.1l8-2.1l7.5-2.3l4.5-1.7l3.3-1.7l3.2-2l3-2.7l3.3-4l2.9-4.3l1.8-3.7l1.3-3.8l0.8-4.4l0.3-4.5l-0.1-4.1l-1.2-4.5l-2.8-6l-4.1-6.3l-6-5.9l-6.6-5.2l-6.1-3.8l-6.8-3.4l-8.3-4l-10.3-4.1l-14.8-4.4l-13-3.9l-3.6-1.9l-0.2-1.6l-0.6-2l0.3-2.9l1.4-4.9l2.5-6.2l3-6.3l4.9-8.4l10-13l10.1-14.2l5-13.4l4.3-12.1l8-9.8l7.3-7.7l2.9-2.9l2.2-5.7l5.2-18.5l4.9-20.9l2.2-15.6l0.6-12.7l-1.5-9l-2.3-6.2l-2.2-4.1l-2.5-2.8l-2.8-3.1l-3.4-2.9l-4.1-3.1l-5.2-3.2l-6.8-3.5l-7.1-3.3l-5.7-2.2l-5.1-1.7l-4.6-1.1zM1552.2 1584.5l-2.7 0.3l-2.7 1l-2.6 1.6l-2.3 2.1l-1.5 2.3l-0.9 2.6l-0.6 2.8l-0.1 3.3l0.5 4.8l1 5.1l1.5 4.6l1.8 4l1.9 3l2.1 2.1l2.2 1.3l2.4 0.3l2.3-0.4l2.4-1.3l2.7-2.8l2.6-3.4l1.8-3.6l1.4-3.8l0.8-4.4l0.4-4.2l-0.1-3.3l-0.7-2.9l-1.4-3.2l-1.9-2.9l-2.2-2.2l-2.4-1.5l-2.8-1zM1124.7 1608.7l-1.6-0.3l-1.5 0.6l-0.9 1l-0.2 1.6l1.1 3l1.5 2.6l1.4 0.2l1.2-0.9l0.9-0.9l0.3-1.5l-0.8-2.9zM1484.1 1649.7l-4.4-0.3l-3.4 0.3l-3.9 0.5l-3.8 0.9l-4 1.3l-3.8 1.7l-3.6 2l-3.1 2.3l-2.6 2.4l-1.9 2.5l-1.5 2.3l-0.9 2.6l-0.8 3.6l-0.3 3.8l0 2.9l0.9 3.3l2.7 5.3l4.1 5.7l6 4.8l7.1 3.8l7.5 2.7l8.1 1.6l8.6 0.4l8.4-0.7l7.4-1.8l6.6-2.6l5.6-3.3l4.5-3.6l3.1-3.6l1.8-3.8l0.7-4.2l-0.7-4.4l-2.2-5l-3.4-4.9l-4.2-4.2l-5.2-3.8l-6.6-3.6l-7.4-3.2l-8.1-2.2zM1484.1 1408.6l-6.4-1.1l-6 0l-6.2 0.9l-6.2 1.9l-6.5 3.2l-5.9 4l-4.7 4.2l-4.1 5.3l-3.6 6.2l-3.7 9.8l-5 19.7l-4.7 19.7l-1.9 7.3l-3.9 8.7l-12.1 25.4l-13.6 26.2l-9.8 12.4l-7.2 9.8l-2.9 13.9l-3.1 16.9l-9.2 25l-8.5 21.8l-0.8 5.1l1.7-0.2l0.8 1.6l2 2.1l5 4.2l5.6 4.3l4.3 2.5l3.5 1.5l2.4 0.5l2.2-0l2.5-0.2l3.7-1.1l6.6-3.2l7.4-4.2l4.7-3.4l7.7-7l19.1-18l18.3-17.8l4.2-4.3l1-3l4.6-12l7-14.1l12.3-12.4l12.5-11.6l6.6-10.5l5.3-9.6l7.6-8.9l6.8-7.5l2.6-2.4l2.2-5.8l6.3-21l5.9-22.2l1.9-10.5l0.1-6.6l-0.4-6.6l-1.2-5.7l-2.2-5.1l-3.2-4.7l-3.9-4.4l-5.4-4.2l-7.9-4.9l-8.8-4.4l-8-3.3zM1493.3 1667.8l-4.5-0.3l-4.7 0.4l-3.6 1.8l-2.7 2.2l-1.1 1.9l-0.3 1.8l-0.1 1.8l0.8 1.9l2.6 2.6l3.1 2.3l2.6 1l2.5 0.3l2.8 0l2.6-0.4l2.5-0.8l2.2-1.1l1.7-1.2l1.3-1.5l0.9-1.8l0.4-1.9l-0.2-1.8l-0.8-1.9l-1.4-1.7l-1.9-1.5l-2-1.3zM1474.8 1411l-5.7 0.4l-5.2 1.1l-4.7 1.6l-4.6 2.3l-4.8 3.2l-4.4 3.8l-3.5 3.6l-3.1 5l-3.2 6.8l-3.4 10.4l-3.8 18.8l-3.5 18.1l-1.4 6.7l-2.5 5.6l-7.4 13.5l-8.5 15.2l-6.6 13.7l-6.2 13l-6.9 10.4l-6.7 12.6l-6.6 23.1l-5.1 21.6l-1.4 7.9l0.2 3.1l0.4 3.5l1.1 2.7l1.6 2.7l2.1 2.6l2.9 2.8l3.3 2.4l2.9 1.7l3.3 1l4.3 0.5l5-0.5l5.3-2.1l5.5-3.3l5.1-3.8l5.7-5.4l8.5-8.8l8.3-9.5l5-6.5l4.1-8.3l4.9-15.7l4.9-16.1l4.2-10.1l3.5-6.8l2.1-3.3l2.6-1.3l5.4-0.7l5.4-0.3l2.4-0.4l2.3-1.1l3.6-2.2l5.7-5.3l10-12.2l10.7-15.5l8.5-17.6l6.4-15.9l2.9-8.6l1.3-5.9l1-6.5l0.4-5.8l-0.2-4.6l-0.9-4l-1.7-4.3l-2.6-4.3l-3.8-4.4l-4.7-4.3l-5.5-3.8l-6.4-3.5l-7.7-3.6l-7.7-3l-6.5-1.5zM1476.3 1414.7l-6.1 0.2l-6.3 1.3l-6.2 2.6l-5.7 3.3l-4.5 3.7l-3.7 4.3l-3.4 5.4l-2.8 6.3l-2 6l-2 10l-3.2 22.6l-3.2 21.7l-1.4 5.6l-2.6 3l-7.8 10.9l-8.8 13.3l-7.1 14.4l-5.6 13.1l-2.9 6.7l-2.1 6.8l-3.6 14.3l-3.1 14l-1.3 6.8l-0.3 4.3l0.2 4.6l1 4.1l1.9 3.8l2.8 3.2l3.6 2.5l4.1 1.5l3.9 0.2l3.9-0.8l3.8-1.7l3.9-2.6l3.9-3.4l3.8-4.1l3.7-4.5l3.4-5.2l2.5-4.4l3.5-9.2l6.9-23.9l7-24.1l3.5-10l2.8-4.7l3-3.7l4-2l6.9-0.9l7.1-0.7l2.7 0.1l5-5.2l16.4-21.6l16.4-22.6l5.7-9l1.8-4.6l1.6-4.6l0.7-4l0.4-4.4l-0.1-4.2l-0.7-3.9l-1.3-3.5l-1.5-3.1l-2.3-3l-3.4-3.7l-4.3-3.7l-5.2-3.5l-5.6-3.2l-5.4-2.6l-5.4-2.1l-5.4-1.5zM1422.1 1536.5l-2.2-0.3l-2.5 0.9l-3 2.1l-3.2 3.4l-3.2 5.1l-2.9 6.1l-2.6 6.6l-2 6.9l-1.3 6.5l-0.7 7.1l-0.4 9.6l0.1 8.8l0.5 4.6l1.1 2.8l1.5 2.4l2.2 1.3l2.9-0.1l3.3-1.4l3.2-3l3-4l2.4-4.1l2.2-5l2.5-6.8l2.3-7.6l1.8-8.1l1.2-7.8l0.5-6.6l-0.1-5.8l-0.7-4.9l-1.3-4l-2.1-2.9zM1482.5 1419.6l-4.4-0.9l-3.3-0.2l-2.8-0.1l-3.4 0.6l-6 1.7l-6.4 2.9l-5.7 4.3l-4.8 5.3l-3.6 6l-2.7 7.5l-2 10.6l-1 11.6l0.6 11.1l1.7 9.8l3.2 7.2l3.4 5l2.4 2.4l2.3 1.3l3 1.3l3.2 0.9l3.1 0.4l3.1-0.2l2.7-0.3l3.5-1.4l5.2-3.3l7.2-5.7l11.4-10.6l10.7-10.5l4.1-5.1l1.8-3.5l2.1-4.1l1.5-4.6l1-6l0-6.3l-1.8-5.7l-3.3-5.3l-5.3-5.3l-6.4-4.6l-7.4-3.6zM1477.9 1423.4l-5.6-0.4l-5.3 0.8l-5.6 1.9l-5.2 2.8l-4.6 3.8l-3.7 4.6l-2.8 5.1l-2 6l-1.2 7.3l-0.3 7.4l0.7 6.5l1.8 5.8l3.2 5.4l4.1 4.5l4.9 2.9l4.5 1.7l2.5 0.5l2.2-0.3l2.4-0.2l3.8-1.4l7.7-4.1l8.2-5.3l5.8-5.1l4.6-5.4l3.4-5.8l2.1-5.8l0.9-5.7l-0.4-5.4l-1.6-5.1l-2.9-4.7l-4.1-4.2l-5.2-3.6l-6-2.8zM1476.3 1429.4l-4.7-0.3l-4.6 0.6l-4 1.4l-3.7 2.1l-3.5 2.7l-3 3.5l-2.3 4l-1.6 4.6l-0.7 4.9l0.2 4.9l1 4.5l1.9 4.1l2.5 3.4l3 2.8l3.3 2l3.8 1.1l4.5 0.1l4.8-0.9l4.8-1.9l4.5-2.7l3.6-2.9l3-3.4l2.5-4.2l1.8-4.5l0.8-4.3l-0.1-4.3l-0.9-3.8l-1.7-3.5l-2.5-3.3l-3.4-2.9l-4.4-2.3zM1474.8 1441.5l-1.6-0.8l-1.5 0l-2.2 0l-2.5 0.8l-2.9 2.2l-2.4 3l-0.5 3.8l0.3 3.6l1 2.1l1.4 1.5l1.4 1.1l1.7 0.7l2.3 0.2l2.4-0.1l1.5-0.2l1.6-1l2.4-2.4l2.1-3.1l0.6-3.2l-0.5-3l-2.1-3z" fill="none" stroke="#3c3a38" stroke-opacity="0.55" stroke-width="1.6" stroke-linejoin="round"/></g>
<path d="M1075.5 2114.6H1791.5" fill="none" stroke="#cfcfcf" stroke-width="1.6"/><rect x="1075.5" y="1350.4" width="716.0" height="768.0" fill="none" stroke="#444" stroke-width="2.4"/>
<circle cx="511.6" cy="102.2" r="15.8" fill="#fb7c75"/><circle cx="511.6" cy="169.9" r="15.8" fill="#33b822"/><circle cx="511.6" cy="236.7" r="15.8" fill="#7c9dd7"/><rect x="164.6" y="1420.3" width="181.9" height="35.9" fill="url(#mg)"/><path d="M178.1 1420.3v7M178.1 1456.2v-7" stroke="#fff" stroke-opacity=".55" stroke-width="1.6" fill="none"/><path d="M221.3 1420.3v7M221.3 1456.2v-7" stroke="#fff" stroke-opacity=".55" stroke-width="1.6" fill="none"/><path d="M264.4 1420.3v7M264.4 1456.2v-7" stroke="#fff" stroke-opacity=".55" stroke-width="1.6" fill="none"/><path d="M307.8 1420.3v7M307.8 1456.2v-7" stroke="#fff" stroke-opacity=".55" stroke-width="1.6" fill="none"/><rect x="1111.9" y="1430.2" width="185.0" height="35.0" fill="url(#mg)"/><path d="M1153.1 1430.2v7M1153.1 1465.2v-7" stroke="#fff" stroke-opacity=".55" stroke-width="1.6" fill="none"/><path d="M1202.3 1430.2v7M1202.3 1465.2v-7" stroke="#fff" stroke-opacity=".55" stroke-width="1.6" fill="none"/><path d="M1251.6 1430.2v7M1251.6 1465.2v-7" stroke="#fff" stroke-opacity=".55" stroke-width="1.6" fill="none"/>
<g font-family="'Liberation Sans', Arial, Helvetica, sans-serif" fill="#000"><text transform="translate(223.69 33.99) scale(0.8887 1)" font-size="60.55" font-weight="700" fill="#000">a</text><text transform="translate(342.43 123.29) scale(1.0565 1)" font-size="50.94" fill="#000">10</text><text transform="translate(373.56 468.88) scale(0.9897 1)" font-size="51.51" fill="#000">0</text><text transform="translate(315.76 813.98) scale(0.9818 1)" font-size="51.79" fill="#000">−10</text><text transform="translate(314.67 620.83) rotate(-90) scale(0.9573 1)" font-size="63.11" fill="#000">UMAP 2</text><text transform="translate(457.92 1140.08) scale(0.9855 1)" font-size="52.36" fill="#000">−10</text><text transform="translate(679.11 1140.07) scale(0.9768 1)" font-size="53.11" fill="#000">−5</text><text transform="translate(917.56 1140.08) scale(1.0217 1)" font-size="52.36" fill="#000">0</text><text transform="translate(1128.74 1140.07) scale(1.0183 1)" font-size="53.11" fill="#000">5</text><text transform="translate(1338.54 1140.08) scale(0.9923 1)" font-size="52.36" fill="#000">10</text><text transform="translate(831.53 1226.79) scale(0.9964 1)" font-size="61.15" fill="#000">UMAP 1</text><text transform="translate(548.64 112.51) scale(1.0938 1)" font-size="39.48" fill="#000">G1</text><text transform="translate(548.77 180.79) scale(0.9877 1)" font-size="41.18" fill="#000">G2M</text><text transform="translate(549.53 247.89) scale(0.9843 1)" font-size="40.75" fill="#000">S</text><text transform="translate(-2.03 1375.21) scale(1.0205 1)" font-size="59.18" font-weight="700" fill="#000">b</text><text transform="translate(76.65 1433.62) scale(1.0358 1)" font-size="37.64" fill="#000">10</text><text transform="translate(98.15 1682.32) scale(1.0234 1)" font-size="37.92" fill="#000">0</text><text transform="translate(56.01 1931.01) scale(0.9708 1)" font-size="38.92" fill="#000">−10</text><text transform="translate(56.64 1790.61) rotate(-90) scale(0.9425 1)" font-size="45.85" fill="#000">UMAP 2</text><text transform="translate(162.75 2162.23) scale(0.9930 1)" font-size="37.36" fill="#000">−10</text><text transform="translate(322.67 2162.22) scale(0.9682 1)" font-size="37.89" fill="#000">−5</text><text transform="translate(494.16 2162.23) scale(1.0333 1)" font-size="37.36" fill="#000">0</text><text transform="translate(646.63 2162.22) scale(1.0370 1)" font-size="37.89" fill="#000">5</text><text transform="translate(796.70 2162.23) scale(1.0548 1)" font-size="37.36" fill="#000">10</text><text transform="translate(431.17 2224.37) scale(1.0292 1)" font-size="43.49" fill="#000">UMAP 1</text><text transform="translate(179.77 1408.51) scale(1.0615 1)" font-size="38.92" fill="#000">S Score</text><text transform="translate(189.96 1541.37) rotate(-90) scale(0.9346 1)" font-size="33.68" fill="#000">−0.25</text><text transform="translate(233.97 1522.65) rotate(-90) scale(0.9513 1)" font-size="32.83" fill="#000">0.00</text><text transform="translate(278.97 1522.65) rotate(-90) scale(0.9409 1)" font-size="33.25" fill="#000">0.25</text><text transform="translate(321.36 1522.65) rotate(-90) scale(0.9158 1)" font-size="34.10" fill="#000">0.50</text><text transform="translate(968.65 1375.43) scale(1.0661 1)" font-size="57.44" font-weight="700" fill="#000">c</text><text transform="translate(1024.35 1435.53) scale(1.0398 1)" font-size="37.50" fill="#000">10</text><text transform="translate(1045.26 1683.93) scale(1.0412 1)" font-size="37.08" fill="#000">0</text><text transform="translate(1004.46 1932.72) scale(0.9573 1)" font-size="38.49" fill="#000">−10</text><text transform="translate(1000.44 1792.83) rotate(-90) scale(0.9520 1)" font-size="45.57" fill="#000">UMAP 2</text><text transform="translate(1094.12 2162.64) scale(1.0542 1)" font-size="35.66" fill="#000">−10</text><text transform="translate(1254.39 2162.64) scale(1.0010 1)" font-size="36.17" fill="#000">−5</text><text transform="translate(1426.25 2162.64) scale(1.0178 1)" font-size="35.66" fill="#000">0</text><text transform="translate(1578.02 2162.64) scale(1.0221 1)" font-size="36.17" fill="#000">5</text><text transform="translate(1730.96 2162.64) scale(1.0381 1)" font-size="35.66" fill="#000">10</text><text transform="translate(1358.03 2223.57) scale(1.0193 1)" font-size="43.06" fill="#000">UMAP 1</text><text transform="translate(1097.33 1408.72) scale(1.0882 1)" font-size="38.07" fill="#000">G2M Score</text><text transform="translate(1161.25 1516.93) rotate(-90) scale(0.8815 1)" font-size="34.81" fill="#000">0.0</text><text transform="translate(1216.95 1516.92) rotate(-90) scale(0.8748 1)" font-size="34.81" fill="#000">0.4</text><text transform="translate(1266.74 1516.93) rotate(-90) scale(0.8662 1)" font-size="35.52" fill="#000">0.8</text></g>
</svg>
</body></html>
